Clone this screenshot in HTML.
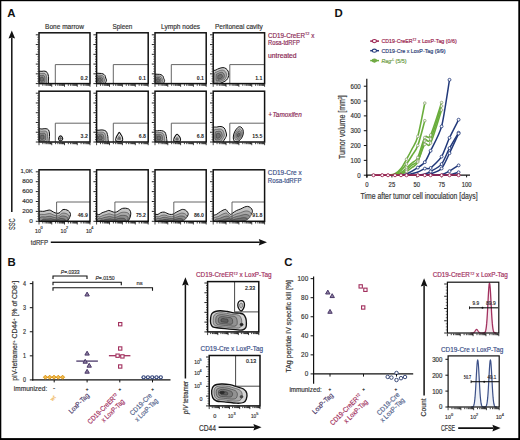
<!DOCTYPE html>
<html><head><meta charset="utf-8"><style>
html,body{margin:0;padding:0;background:#fff;}
body{width:520px;height:440px;overflow:hidden;font-family:"Liberation Sans", sans-serif;}
svg{display:block;}
</style></head><body>
<svg width="520" height="440" viewBox="0 0 520 440" font-family='"Liberation Sans", sans-serif'>
<rect x="0" y="0" width="520" height="440" fill="#fff"/>
<text x="7.20" y="16.80" font-size="11.4" fill="#111" font-weight="bold">A</text>
<text x="64.50" y="28.50" font-size="7.4" fill="#333" stroke="#333" stroke-width="0.18" text-anchor="middle" textLength="38.9" lengthAdjust="spacingAndGlyphs">Bone marrow</text>
<text x="122.40" y="28.50" font-size="7.4" fill="#333" stroke="#333" stroke-width="0.18" text-anchor="middle" textLength="19.8" lengthAdjust="spacingAndGlyphs">Spleen</text>
<text x="180.60" y="28.50" font-size="7.4" fill="#333" stroke="#333" stroke-width="0.18" text-anchor="middle" textLength="39.0" lengthAdjust="spacingAndGlyphs">Lymph nodes</text>
<text x="238.90" y="28.50" font-size="7.4" fill="#333" stroke="#333" stroke-width="0.18" text-anchor="middle" textLength="47.8" lengthAdjust="spacingAndGlyphs">Peritoneal cavity</text>
<clipPath id="c7"><rect x="39.0" y="32.8" width="51.0" height="50.8"/></clipPath>
<g clip-path="url(#c7)">
<path d="M38.00,72.60 C38.67,70.40 40.83,71.53 42.00,71.30 C43.17,71.07 44.17,71.03 45.00,71.20 C45.83,71.37 46.47,71.67 47.00,72.30 C47.53,72.93 47.93,74.05 48.20,75.00 C48.47,75.95 48.57,77.00 48.60,78.00 C48.63,79.00 48.57,79.92 48.40,81.00 C48.23,82.08 49.33,83.92 47.60,84.50 C45.87,85.08 39.60,86.48 38.00,84.50 C36.40,82.52 37.33,74.80 38.00,72.60Z" fill="#cfcfcf" stroke="#111" stroke-width="1.0"/><path d="M38.91,74.39 C39.40,72.77 41.01,73.60 41.87,73.43 C42.73,73.26 43.47,73.23 44.09,73.36 C44.71,73.48 45.18,73.70 45.57,74.17 C45.96,74.64 46.26,75.47 46.46,76.17 C46.66,76.87 46.73,77.65 46.75,78.39 C46.78,79.13 46.73,79.81 46.61,80.61 C46.48,81.41 47.30,82.77 46.01,83.20 C44.73,83.63 40.09,84.67 38.91,83.20 C37.73,81.73 38.42,76.02 38.91,74.39Z" fill="#acacac" stroke="#2a2a2a" stroke-width="0.5"/><path d="M39.75,76.05 C40.08,74.95 41.17,75.52 41.75,75.40 C42.33,75.28 42.83,75.27 43.25,75.35 C43.67,75.43 43.98,75.58 44.25,75.90 C44.52,76.22 44.72,76.78 44.85,77.25 C44.98,77.72 45.03,78.25 45.05,78.75 C45.07,79.25 45.03,79.71 44.95,80.25 C44.87,80.79 45.42,81.71 44.55,82.00 C43.68,82.29 40.55,82.99 39.75,82.00 C38.95,81.01 39.42,77.15 39.75,76.05Z" fill="#8e8e8e" stroke="#2a2a2a" stroke-width="0.5"/><path d="M40.52,77.57 C40.71,76.95 41.31,77.27 41.64,77.20 C41.97,77.14 42.25,77.13 42.48,77.18 C42.71,77.22 42.89,77.31 43.04,77.48 C43.19,77.66 43.30,77.97 43.38,78.24 C43.45,78.51 43.48,78.80 43.49,79.08 C43.50,79.36 43.48,79.62 43.43,79.92 C43.39,80.22 43.69,80.74 43.21,80.90 C42.72,81.06 40.97,81.46 40.52,80.90 C40.07,80.34 40.33,78.18 40.52,77.57Z" fill="#6e6e6e" stroke="#2a2a2a" stroke-width="0.5"/>
</g>
<path d="M55.30,83.60 L55.30,64.60 L90.00,64.60" fill="none" stroke="#555" stroke-width="0.9"/>
<rect x="39.00" y="32.80" width="51.00" height="50.80" fill="none" stroke="#111" stroke-width="1.5"/>
<text x="87.80" y="79.60" font-size="5.2" fill="#222" text-anchor="end" font-weight="bold">0.2</text>
<line x1="39.00" y1="84.20" x2="39.00" y2="86.80" stroke="#111" stroke-width="0.8"/>
<line x1="42.84" y1="84.20" x2="42.84" y2="85.80" stroke="#111" stroke-width="0.8"/>
<line x1="45.08" y1="84.20" x2="45.08" y2="85.80" stroke="#111" stroke-width="0.8"/>
<line x1="46.68" y1="84.20" x2="46.68" y2="85.80" stroke="#111" stroke-width="0.8"/>
<line x1="47.91" y1="84.20" x2="47.91" y2="85.80" stroke="#111" stroke-width="0.8"/>
<line x1="48.92" y1="84.20" x2="48.92" y2="85.80" stroke="#111" stroke-width="0.8"/>
<line x1="49.78" y1="84.20" x2="49.78" y2="85.80" stroke="#111" stroke-width="0.8"/>
<line x1="50.51" y1="84.20" x2="50.51" y2="85.80" stroke="#111" stroke-width="0.8"/>
<line x1="51.17" y1="84.20" x2="51.17" y2="85.80" stroke="#111" stroke-width="0.8"/>
<line x1="51.75" y1="84.20" x2="51.75" y2="86.80" stroke="#111" stroke-width="0.8"/>
<line x1="55.59" y1="84.20" x2="55.59" y2="85.80" stroke="#111" stroke-width="0.8"/>
<line x1="57.83" y1="84.20" x2="57.83" y2="85.80" stroke="#111" stroke-width="0.8"/>
<line x1="59.43" y1="84.20" x2="59.43" y2="85.80" stroke="#111" stroke-width="0.8"/>
<line x1="60.66" y1="84.20" x2="60.66" y2="85.80" stroke="#111" stroke-width="0.8"/>
<line x1="61.67" y1="84.20" x2="61.67" y2="85.80" stroke="#111" stroke-width="0.8"/>
<line x1="62.53" y1="84.20" x2="62.53" y2="85.80" stroke="#111" stroke-width="0.8"/>
<line x1="63.26" y1="84.20" x2="63.26" y2="85.80" stroke="#111" stroke-width="0.8"/>
<line x1="63.92" y1="84.20" x2="63.92" y2="85.80" stroke="#111" stroke-width="0.8"/>
<line x1="64.50" y1="84.20" x2="64.50" y2="86.80" stroke="#111" stroke-width="0.8"/>
<line x1="68.34" y1="84.20" x2="68.34" y2="85.80" stroke="#111" stroke-width="0.8"/>
<line x1="70.58" y1="84.20" x2="70.58" y2="85.80" stroke="#111" stroke-width="0.8"/>
<line x1="72.18" y1="84.20" x2="72.18" y2="85.80" stroke="#111" stroke-width="0.8"/>
<line x1="73.41" y1="84.20" x2="73.41" y2="85.80" stroke="#111" stroke-width="0.8"/>
<line x1="74.42" y1="84.20" x2="74.42" y2="85.80" stroke="#111" stroke-width="0.8"/>
<line x1="75.28" y1="84.20" x2="75.28" y2="85.80" stroke="#111" stroke-width="0.8"/>
<line x1="76.01" y1="84.20" x2="76.01" y2="85.80" stroke="#111" stroke-width="0.8"/>
<line x1="76.67" y1="84.20" x2="76.67" y2="85.80" stroke="#111" stroke-width="0.8"/>
<line x1="77.25" y1="84.20" x2="77.25" y2="86.80" stroke="#111" stroke-width="0.8"/>
<line x1="81.09" y1="84.20" x2="81.09" y2="85.80" stroke="#111" stroke-width="0.8"/>
<line x1="83.33" y1="84.20" x2="83.33" y2="85.80" stroke="#111" stroke-width="0.8"/>
<line x1="84.93" y1="84.20" x2="84.93" y2="85.80" stroke="#111" stroke-width="0.8"/>
<line x1="86.16" y1="84.20" x2="86.16" y2="85.80" stroke="#111" stroke-width="0.8"/>
<line x1="87.17" y1="84.20" x2="87.17" y2="85.80" stroke="#111" stroke-width="0.8"/>
<line x1="88.03" y1="84.20" x2="88.03" y2="85.80" stroke="#111" stroke-width="0.8"/>
<line x1="88.76" y1="84.20" x2="88.76" y2="85.80" stroke="#111" stroke-width="0.8"/>
<line x1="89.42" y1="84.20" x2="89.42" y2="85.80" stroke="#111" stroke-width="0.8"/>
<line x1="90.00" y1="84.20" x2="90.00" y2="86.80" stroke="#111" stroke-width="0.8"/>
<line x1="35.80" y1="83.60" x2="38.40" y2="83.60" stroke="#111" stroke-width="0.9"/>
<line x1="37.40" y1="81.16" x2="38.40" y2="81.16" stroke="#111" stroke-width="0.7"/>
<line x1="37.40" y1="78.72" x2="38.40" y2="78.72" stroke="#111" stroke-width="0.7"/>
<line x1="37.40" y1="76.28" x2="38.40" y2="76.28" stroke="#111" stroke-width="0.7"/>
<line x1="35.80" y1="73.84" x2="38.40" y2="73.84" stroke="#111" stroke-width="0.9"/>
<line x1="37.40" y1="71.40" x2="38.40" y2="71.40" stroke="#111" stroke-width="0.7"/>
<line x1="37.40" y1="68.96" x2="38.40" y2="68.96" stroke="#111" stroke-width="0.7"/>
<line x1="37.40" y1="66.52" x2="38.40" y2="66.52" stroke="#111" stroke-width="0.7"/>
<line x1="35.80" y1="64.08" x2="38.40" y2="64.08" stroke="#111" stroke-width="0.9"/>
<line x1="37.40" y1="61.64" x2="38.40" y2="61.64" stroke="#111" stroke-width="0.7"/>
<line x1="37.40" y1="59.20" x2="38.40" y2="59.20" stroke="#111" stroke-width="0.7"/>
<line x1="37.40" y1="56.76" x2="38.40" y2="56.76" stroke="#111" stroke-width="0.7"/>
<line x1="35.80" y1="54.32" x2="38.40" y2="54.32" stroke="#111" stroke-width="0.9"/>
<line x1="37.40" y1="51.88" x2="38.40" y2="51.88" stroke="#111" stroke-width="0.7"/>
<line x1="37.40" y1="49.44" x2="38.40" y2="49.44" stroke="#111" stroke-width="0.7"/>
<line x1="37.40" y1="47.00" x2="38.40" y2="47.00" stroke="#111" stroke-width="0.7"/>
<line x1="35.80" y1="44.56" x2="38.40" y2="44.56" stroke="#111" stroke-width="0.9"/>
<line x1="37.40" y1="42.12" x2="38.40" y2="42.12" stroke="#111" stroke-width="0.7"/>
<line x1="37.40" y1="39.68" x2="38.40" y2="39.68" stroke="#111" stroke-width="0.7"/>
<line x1="37.40" y1="37.24" x2="38.40" y2="37.24" stroke="#111" stroke-width="0.7"/>
<line x1="35.80" y1="34.80" x2="38.40" y2="34.80" stroke="#111" stroke-width="0.9"/>
<clipPath id="c72"><rect x="96.6" y="32.8" width="51.599999999999994" height="50.8"/></clipPath>
<g clip-path="url(#c72)">
<path d="M96.00,74.40 C96.67,72.55 98.83,73.48 100.00,73.40 C101.17,73.32 102.17,73.55 103.00,73.90 C103.83,74.25 104.55,74.82 105.00,75.50 C105.45,76.18 105.45,77.22 105.70,78.00 C105.95,78.78 106.52,79.43 106.50,80.20 C106.48,80.97 105.93,81.88 105.60,82.60 C105.27,83.32 106.10,84.18 104.50,84.50 C102.90,84.82 97.42,86.18 96.00,84.50 C94.58,82.82 95.33,76.25 96.00,74.40Z" fill="#cfcfcf" stroke="#111" stroke-width="1.0"/><path d="M96.91,75.86 C97.40,74.49 99.01,75.18 99.87,75.12 C100.73,75.05 101.47,75.23 102.09,75.49 C102.71,75.75 103.24,76.16 103.57,76.67 C103.90,77.18 103.90,77.94 104.09,78.52 C104.27,79.10 104.69,79.58 104.68,80.15 C104.67,80.72 104.26,81.39 104.01,81.92 C103.77,82.45 104.38,83.10 103.20,83.33 C102.02,83.56 97.96,84.58 96.91,83.33 C95.86,82.08 96.42,77.23 96.91,75.86Z" fill="#acacac" stroke="#2a2a2a" stroke-width="0.5"/><path d="M97.75,77.20 C98.08,76.28 99.17,76.74 99.75,76.70 C100.33,76.66 100.83,76.78 101.25,76.95 C101.67,77.12 102.03,77.41 102.25,77.75 C102.47,78.09 102.47,78.61 102.60,79.00 C102.72,79.39 103.01,79.72 103.00,80.10 C102.99,80.48 102.72,80.94 102.55,81.30 C102.38,81.66 102.80,82.09 102.00,82.25 C101.20,82.41 98.46,83.09 97.75,82.25 C97.04,81.41 97.42,78.12 97.75,77.20Z" fill="#8e8e8e" stroke="#2a2a2a" stroke-width="0.5"/><path d="M98.52,78.43 C98.71,77.91 99.31,78.18 99.64,78.15 C99.97,78.13 100.25,78.19 100.48,78.29 C100.71,78.39 100.91,78.55 101.04,78.74 C101.17,78.93 101.17,79.22 101.24,79.44 C101.31,79.66 101.46,79.84 101.46,80.06 C101.46,80.27 101.30,80.53 101.21,80.73 C101.11,80.93 101.35,81.17 100.90,81.26 C100.45,81.35 98.92,81.73 98.52,81.26 C98.12,80.79 98.33,78.95 98.52,78.43Z" fill="#6e6e6e" stroke="#2a2a2a" stroke-width="0.5"/>
</g>
<path d="M113.30,83.60 L113.30,64.60 L148.20,64.60" fill="none" stroke="#555" stroke-width="0.9"/>
<rect x="96.60" y="32.80" width="51.60" height="50.80" fill="none" stroke="#111" stroke-width="1.5"/>
<text x="146.00" y="79.60" font-size="5.2" fill="#222" text-anchor="end" font-weight="bold">0.1</text>
<line x1="96.60" y1="84.20" x2="96.60" y2="86.80" stroke="#111" stroke-width="0.8"/>
<line x1="100.48" y1="84.20" x2="100.48" y2="85.80" stroke="#111" stroke-width="0.8"/>
<line x1="102.75" y1="84.20" x2="102.75" y2="85.80" stroke="#111" stroke-width="0.8"/>
<line x1="104.37" y1="84.20" x2="104.37" y2="85.80" stroke="#111" stroke-width="0.8"/>
<line x1="105.62" y1="84.20" x2="105.62" y2="85.80" stroke="#111" stroke-width="0.8"/>
<line x1="106.64" y1="84.20" x2="106.64" y2="85.80" stroke="#111" stroke-width="0.8"/>
<line x1="107.50" y1="84.20" x2="107.50" y2="85.80" stroke="#111" stroke-width="0.8"/>
<line x1="108.25" y1="84.20" x2="108.25" y2="85.80" stroke="#111" stroke-width="0.8"/>
<line x1="108.91" y1="84.20" x2="108.91" y2="85.80" stroke="#111" stroke-width="0.8"/>
<line x1="109.50" y1="84.20" x2="109.50" y2="86.80" stroke="#111" stroke-width="0.8"/>
<line x1="113.38" y1="84.20" x2="113.38" y2="85.80" stroke="#111" stroke-width="0.8"/>
<line x1="115.65" y1="84.20" x2="115.65" y2="85.80" stroke="#111" stroke-width="0.8"/>
<line x1="117.27" y1="84.20" x2="117.27" y2="85.80" stroke="#111" stroke-width="0.8"/>
<line x1="118.52" y1="84.20" x2="118.52" y2="85.80" stroke="#111" stroke-width="0.8"/>
<line x1="119.54" y1="84.20" x2="119.54" y2="85.80" stroke="#111" stroke-width="0.8"/>
<line x1="120.40" y1="84.20" x2="120.40" y2="85.80" stroke="#111" stroke-width="0.8"/>
<line x1="121.15" y1="84.20" x2="121.15" y2="85.80" stroke="#111" stroke-width="0.8"/>
<line x1="121.81" y1="84.20" x2="121.81" y2="85.80" stroke="#111" stroke-width="0.8"/>
<line x1="122.40" y1="84.20" x2="122.40" y2="86.80" stroke="#111" stroke-width="0.8"/>
<line x1="126.28" y1="84.20" x2="126.28" y2="85.80" stroke="#111" stroke-width="0.8"/>
<line x1="128.55" y1="84.20" x2="128.55" y2="85.80" stroke="#111" stroke-width="0.8"/>
<line x1="130.17" y1="84.20" x2="130.17" y2="85.80" stroke="#111" stroke-width="0.8"/>
<line x1="131.42" y1="84.20" x2="131.42" y2="85.80" stroke="#111" stroke-width="0.8"/>
<line x1="132.44" y1="84.20" x2="132.44" y2="85.80" stroke="#111" stroke-width="0.8"/>
<line x1="133.30" y1="84.20" x2="133.30" y2="85.80" stroke="#111" stroke-width="0.8"/>
<line x1="134.05" y1="84.20" x2="134.05" y2="85.80" stroke="#111" stroke-width="0.8"/>
<line x1="134.71" y1="84.20" x2="134.71" y2="85.80" stroke="#111" stroke-width="0.8"/>
<line x1="135.30" y1="84.20" x2="135.30" y2="86.80" stroke="#111" stroke-width="0.8"/>
<line x1="139.18" y1="84.20" x2="139.18" y2="85.80" stroke="#111" stroke-width="0.8"/>
<line x1="141.45" y1="84.20" x2="141.45" y2="85.80" stroke="#111" stroke-width="0.8"/>
<line x1="143.07" y1="84.20" x2="143.07" y2="85.80" stroke="#111" stroke-width="0.8"/>
<line x1="144.32" y1="84.20" x2="144.32" y2="85.80" stroke="#111" stroke-width="0.8"/>
<line x1="145.34" y1="84.20" x2="145.34" y2="85.80" stroke="#111" stroke-width="0.8"/>
<line x1="146.20" y1="84.20" x2="146.20" y2="85.80" stroke="#111" stroke-width="0.8"/>
<line x1="146.95" y1="84.20" x2="146.95" y2="85.80" stroke="#111" stroke-width="0.8"/>
<line x1="147.61" y1="84.20" x2="147.61" y2="85.80" stroke="#111" stroke-width="0.8"/>
<line x1="148.20" y1="84.20" x2="148.20" y2="86.80" stroke="#111" stroke-width="0.8"/>
<line x1="93.40" y1="83.60" x2="96.00" y2="83.60" stroke="#111" stroke-width="0.9"/>
<line x1="95.00" y1="81.16" x2="96.00" y2="81.16" stroke="#111" stroke-width="0.7"/>
<line x1="95.00" y1="78.72" x2="96.00" y2="78.72" stroke="#111" stroke-width="0.7"/>
<line x1="95.00" y1="76.28" x2="96.00" y2="76.28" stroke="#111" stroke-width="0.7"/>
<line x1="93.40" y1="73.84" x2="96.00" y2="73.84" stroke="#111" stroke-width="0.9"/>
<line x1="95.00" y1="71.40" x2="96.00" y2="71.40" stroke="#111" stroke-width="0.7"/>
<line x1="95.00" y1="68.96" x2="96.00" y2="68.96" stroke="#111" stroke-width="0.7"/>
<line x1="95.00" y1="66.52" x2="96.00" y2="66.52" stroke="#111" stroke-width="0.7"/>
<line x1="93.40" y1="64.08" x2="96.00" y2="64.08" stroke="#111" stroke-width="0.9"/>
<line x1="95.00" y1="61.64" x2="96.00" y2="61.64" stroke="#111" stroke-width="0.7"/>
<line x1="95.00" y1="59.20" x2="96.00" y2="59.20" stroke="#111" stroke-width="0.7"/>
<line x1="95.00" y1="56.76" x2="96.00" y2="56.76" stroke="#111" stroke-width="0.7"/>
<line x1="93.40" y1="54.32" x2="96.00" y2="54.32" stroke="#111" stroke-width="0.9"/>
<line x1="95.00" y1="51.88" x2="96.00" y2="51.88" stroke="#111" stroke-width="0.7"/>
<line x1="95.00" y1="49.44" x2="96.00" y2="49.44" stroke="#111" stroke-width="0.7"/>
<line x1="95.00" y1="47.00" x2="96.00" y2="47.00" stroke="#111" stroke-width="0.7"/>
<line x1="93.40" y1="44.56" x2="96.00" y2="44.56" stroke="#111" stroke-width="0.9"/>
<line x1="95.00" y1="42.12" x2="96.00" y2="42.12" stroke="#111" stroke-width="0.7"/>
<line x1="95.00" y1="39.68" x2="96.00" y2="39.68" stroke="#111" stroke-width="0.7"/>
<line x1="95.00" y1="37.24" x2="96.00" y2="37.24" stroke="#111" stroke-width="0.7"/>
<line x1="93.40" y1="34.80" x2="96.00" y2="34.80" stroke="#111" stroke-width="0.9"/>
<clipPath id="c137"><rect x="155.0" y="32.8" width="51.19999999999999" height="50.8"/></clipPath>
<g clip-path="url(#c137)">
<path d="M154.40,75.20 C155.00,73.50 156.90,74.38 158.00,74.30 C159.10,74.22 160.17,74.38 161.00,74.70 C161.83,75.02 162.53,75.55 163.00,76.20 C163.47,76.85 163.53,77.87 163.80,78.60 C164.07,79.33 164.60,79.90 164.60,80.60 C164.60,81.30 164.10,82.15 163.80,82.80 C163.50,83.45 164.37,84.22 162.80,84.50 C161.23,84.78 155.80,86.05 154.40,84.50 C153.00,82.95 153.80,76.90 154.40,75.20Z" fill="#cfcfcf" stroke="#111" stroke-width="1.0"/><path d="M155.28,76.58 C155.73,75.32 157.13,75.97 157.95,75.91 C158.76,75.85 159.55,75.97 160.17,76.21 C160.78,76.44 161.30,76.84 161.65,77.32 C161.99,77.80 162.04,78.55 162.24,79.09 C162.44,79.64 162.83,80.06 162.83,80.57 C162.83,81.09 162.46,81.72 162.24,82.20 C162.02,82.68 162.66,83.25 161.50,83.46 C160.34,83.67 156.32,84.61 155.28,83.46 C154.25,82.31 154.84,77.84 155.28,76.58Z" fill="#acacac" stroke="#2a2a2a" stroke-width="0.5"/><path d="M156.10,77.85 C156.40,77.00 157.35,77.44 157.90,77.40 C158.45,77.36 158.98,77.44 159.40,77.60 C159.82,77.76 160.17,78.02 160.40,78.35 C160.63,78.67 160.67,79.18 160.80,79.55 C160.93,79.92 161.20,80.20 161.20,80.55 C161.20,80.90 160.95,81.33 160.80,81.65 C160.65,81.98 161.08,82.36 160.30,82.50 C159.52,82.64 156.80,83.28 156.10,82.50 C155.40,81.72 155.80,78.70 156.10,77.85Z" fill="#8e8e8e" stroke="#2a2a2a" stroke-width="0.5"/><path d="M156.85,79.02 C157.02,78.54 157.55,78.79 157.86,78.76 C158.16,78.74 158.46,78.79 158.70,78.88 C158.93,78.96 159.13,79.11 159.26,79.30 C159.39,79.48 159.41,79.76 159.48,79.97 C159.55,80.17 159.70,80.33 159.70,80.53 C159.70,80.72 159.56,80.96 159.48,81.14 C159.40,81.33 159.64,81.54 159.20,81.62 C158.76,81.70 157.24,82.05 156.85,81.62 C156.46,81.19 156.68,79.49 156.85,79.02Z" fill="#6e6e6e" stroke="#2a2a2a" stroke-width="0.5"/>
</g>
<path d="M171.30,83.60 L171.30,64.60 L206.20,64.60" fill="none" stroke="#555" stroke-width="0.9"/>
<rect x="155.00" y="32.80" width="51.20" height="50.80" fill="none" stroke="#111" stroke-width="1.5"/>
<text x="204.00" y="79.60" font-size="5.2" fill="#222" text-anchor="end" font-weight="bold">0.1</text>
<line x1="155.00" y1="84.20" x2="155.00" y2="86.80" stroke="#111" stroke-width="0.8"/>
<line x1="158.85" y1="84.20" x2="158.85" y2="85.80" stroke="#111" stroke-width="0.8"/>
<line x1="161.11" y1="84.20" x2="161.11" y2="85.80" stroke="#111" stroke-width="0.8"/>
<line x1="162.71" y1="84.20" x2="162.71" y2="85.80" stroke="#111" stroke-width="0.8"/>
<line x1="163.95" y1="84.20" x2="163.95" y2="85.80" stroke="#111" stroke-width="0.8"/>
<line x1="164.96" y1="84.20" x2="164.96" y2="85.80" stroke="#111" stroke-width="0.8"/>
<line x1="165.82" y1="84.20" x2="165.82" y2="85.80" stroke="#111" stroke-width="0.8"/>
<line x1="166.56" y1="84.20" x2="166.56" y2="85.80" stroke="#111" stroke-width="0.8"/>
<line x1="167.21" y1="84.20" x2="167.21" y2="85.80" stroke="#111" stroke-width="0.8"/>
<line x1="167.80" y1="84.20" x2="167.80" y2="86.80" stroke="#111" stroke-width="0.8"/>
<line x1="171.65" y1="84.20" x2="171.65" y2="85.80" stroke="#111" stroke-width="0.8"/>
<line x1="173.91" y1="84.20" x2="173.91" y2="85.80" stroke="#111" stroke-width="0.8"/>
<line x1="175.51" y1="84.20" x2="175.51" y2="85.80" stroke="#111" stroke-width="0.8"/>
<line x1="176.75" y1="84.20" x2="176.75" y2="85.80" stroke="#111" stroke-width="0.8"/>
<line x1="177.76" y1="84.20" x2="177.76" y2="85.80" stroke="#111" stroke-width="0.8"/>
<line x1="178.62" y1="84.20" x2="178.62" y2="85.80" stroke="#111" stroke-width="0.8"/>
<line x1="179.36" y1="84.20" x2="179.36" y2="85.80" stroke="#111" stroke-width="0.8"/>
<line x1="180.01" y1="84.20" x2="180.01" y2="85.80" stroke="#111" stroke-width="0.8"/>
<line x1="180.60" y1="84.20" x2="180.60" y2="86.80" stroke="#111" stroke-width="0.8"/>
<line x1="184.45" y1="84.20" x2="184.45" y2="85.80" stroke="#111" stroke-width="0.8"/>
<line x1="186.71" y1="84.20" x2="186.71" y2="85.80" stroke="#111" stroke-width="0.8"/>
<line x1="188.31" y1="84.20" x2="188.31" y2="85.80" stroke="#111" stroke-width="0.8"/>
<line x1="189.55" y1="84.20" x2="189.55" y2="85.80" stroke="#111" stroke-width="0.8"/>
<line x1="190.56" y1="84.20" x2="190.56" y2="85.80" stroke="#111" stroke-width="0.8"/>
<line x1="191.42" y1="84.20" x2="191.42" y2="85.80" stroke="#111" stroke-width="0.8"/>
<line x1="192.16" y1="84.20" x2="192.16" y2="85.80" stroke="#111" stroke-width="0.8"/>
<line x1="192.81" y1="84.20" x2="192.81" y2="85.80" stroke="#111" stroke-width="0.8"/>
<line x1="193.40" y1="84.20" x2="193.40" y2="86.80" stroke="#111" stroke-width="0.8"/>
<line x1="197.25" y1="84.20" x2="197.25" y2="85.80" stroke="#111" stroke-width="0.8"/>
<line x1="199.51" y1="84.20" x2="199.51" y2="85.80" stroke="#111" stroke-width="0.8"/>
<line x1="201.11" y1="84.20" x2="201.11" y2="85.80" stroke="#111" stroke-width="0.8"/>
<line x1="202.35" y1="84.20" x2="202.35" y2="85.80" stroke="#111" stroke-width="0.8"/>
<line x1="203.36" y1="84.20" x2="203.36" y2="85.80" stroke="#111" stroke-width="0.8"/>
<line x1="204.22" y1="84.20" x2="204.22" y2="85.80" stroke="#111" stroke-width="0.8"/>
<line x1="204.96" y1="84.20" x2="204.96" y2="85.80" stroke="#111" stroke-width="0.8"/>
<line x1="205.61" y1="84.20" x2="205.61" y2="85.80" stroke="#111" stroke-width="0.8"/>
<line x1="206.20" y1="84.20" x2="206.20" y2="86.80" stroke="#111" stroke-width="0.8"/>
<line x1="151.80" y1="83.60" x2="154.40" y2="83.60" stroke="#111" stroke-width="0.9"/>
<line x1="153.40" y1="81.16" x2="154.40" y2="81.16" stroke="#111" stroke-width="0.7"/>
<line x1="153.40" y1="78.72" x2="154.40" y2="78.72" stroke="#111" stroke-width="0.7"/>
<line x1="153.40" y1="76.28" x2="154.40" y2="76.28" stroke="#111" stroke-width="0.7"/>
<line x1="151.80" y1="73.84" x2="154.40" y2="73.84" stroke="#111" stroke-width="0.9"/>
<line x1="153.40" y1="71.40" x2="154.40" y2="71.40" stroke="#111" stroke-width="0.7"/>
<line x1="153.40" y1="68.96" x2="154.40" y2="68.96" stroke="#111" stroke-width="0.7"/>
<line x1="153.40" y1="66.52" x2="154.40" y2="66.52" stroke="#111" stroke-width="0.7"/>
<line x1="151.80" y1="64.08" x2="154.40" y2="64.08" stroke="#111" stroke-width="0.9"/>
<line x1="153.40" y1="61.64" x2="154.40" y2="61.64" stroke="#111" stroke-width="0.7"/>
<line x1="153.40" y1="59.20" x2="154.40" y2="59.20" stroke="#111" stroke-width="0.7"/>
<line x1="153.40" y1="56.76" x2="154.40" y2="56.76" stroke="#111" stroke-width="0.7"/>
<line x1="151.80" y1="54.32" x2="154.40" y2="54.32" stroke="#111" stroke-width="0.9"/>
<line x1="153.40" y1="51.88" x2="154.40" y2="51.88" stroke="#111" stroke-width="0.7"/>
<line x1="153.40" y1="49.44" x2="154.40" y2="49.44" stroke="#111" stroke-width="0.7"/>
<line x1="153.40" y1="47.00" x2="154.40" y2="47.00" stroke="#111" stroke-width="0.7"/>
<line x1="151.80" y1="44.56" x2="154.40" y2="44.56" stroke="#111" stroke-width="0.9"/>
<line x1="153.40" y1="42.12" x2="154.40" y2="42.12" stroke="#111" stroke-width="0.7"/>
<line x1="153.40" y1="39.68" x2="154.40" y2="39.68" stroke="#111" stroke-width="0.7"/>
<line x1="153.40" y1="37.24" x2="154.40" y2="37.24" stroke="#111" stroke-width="0.7"/>
<line x1="151.80" y1="34.80" x2="154.40" y2="34.80" stroke="#111" stroke-width="0.9"/>
<clipPath id="c202"><rect x="213.2" y="32.8" width="51.400000000000034" height="50.8"/></clipPath>
<g clip-path="url(#c202)">
<path d="M212.50,72.20 C213.08,69.78 214.92,70.62 216.00,70.00 C217.08,69.38 217.83,68.90 219.00,68.50 C220.17,68.10 221.83,67.58 223.00,67.60 C224.17,67.62 225.17,68.03 226.00,68.60 C226.83,69.17 227.53,70.10 228.00,71.00 C228.47,71.90 228.75,73.00 228.80,74.00 C228.85,75.00 228.67,76.00 228.30,77.00 C227.93,78.00 227.48,79.13 226.60,80.00 C225.72,80.87 224.43,81.57 223.00,82.20 C221.57,82.83 219.75,83.42 218.00,83.80 C216.25,84.18 213.42,86.43 212.50,84.50 C211.58,82.57 211.92,74.62 212.50,72.20Z" fill="#cfcfcf" stroke="#111" stroke-width="1.0"/><path d="M214.45,73.45 C214.88,71.66 216.24,72.28 217.04,71.82 C217.84,71.36 218.40,71.01 219.26,70.71 C220.12,70.41 221.36,70.03 222.22,70.04 C223.08,70.06 223.82,70.36 224.44,70.78 C225.06,71.20 225.57,71.89 225.92,72.56 C226.27,73.23 226.47,74.04 226.51,74.78 C226.55,75.52 226.41,76.26 226.14,77.00 C225.87,77.74 225.54,78.58 224.88,79.22 C224.23,79.86 223.28,80.38 222.22,80.85 C221.16,81.32 219.81,81.75 218.52,82.03 C217.23,82.32 215.13,83.98 214.45,82.55 C213.77,81.12 214.02,75.24 214.45,73.45Z" fill="#acacac" stroke="#2a2a2a" stroke-width="0.5"/><path d="M216.25,74.60 C216.54,73.39 217.46,73.81 218.00,73.50 C218.54,73.19 218.92,72.95 219.50,72.75 C220.08,72.55 220.92,72.29 221.50,72.30 C222.08,72.31 222.58,72.52 223.00,72.80 C223.42,73.08 223.77,73.55 224.00,74.00 C224.23,74.45 224.38,75.00 224.40,75.50 C224.43,76.00 224.33,76.50 224.15,77.00 C223.97,77.50 223.74,78.07 223.30,78.50 C222.86,78.93 222.22,79.28 221.50,79.60 C220.78,79.92 219.88,80.21 219.00,80.40 C218.12,80.59 216.71,81.72 216.25,80.75 C215.79,79.78 215.96,75.81 216.25,74.60Z" fill="#8e8e8e" stroke="#2a2a2a" stroke-width="0.5"/><path d="M217.90,75.66 C218.06,74.98 218.58,75.21 218.88,75.04 C219.18,74.87 219.39,74.73 219.72,74.62 C220.05,74.51 220.51,74.36 220.84,74.37 C221.17,74.37 221.45,74.49 221.68,74.65 C221.91,74.81 222.11,75.07 222.24,75.32 C222.37,75.57 222.45,75.88 222.46,76.16 C222.48,76.44 222.43,76.72 222.32,77.00 C222.22,77.28 222.10,77.60 221.85,77.84 C221.60,78.08 221.24,78.28 220.84,78.46 C220.44,78.63 219.93,78.80 219.44,78.90 C218.95,79.01 218.16,79.64 217.90,79.10 C217.64,78.56 217.74,76.33 217.90,75.66Z" fill="#6e6e6e" stroke="#2a2a2a" stroke-width="0.5"/>
</g>
<path d="M229.80,83.60 L229.80,64.60 L264.60,64.60" fill="none" stroke="#555" stroke-width="0.9"/>
<rect x="213.20" y="32.80" width="51.40" height="50.80" fill="none" stroke="#111" stroke-width="1.5"/>
<text x="262.40" y="79.60" font-size="5.2" fill="#222" text-anchor="end" font-weight="bold">1.1</text>
<line x1="213.20" y1="84.20" x2="213.20" y2="86.80" stroke="#111" stroke-width="0.8"/>
<line x1="217.07" y1="84.20" x2="217.07" y2="85.80" stroke="#111" stroke-width="0.8"/>
<line x1="219.33" y1="84.20" x2="219.33" y2="85.80" stroke="#111" stroke-width="0.8"/>
<line x1="220.94" y1="84.20" x2="220.94" y2="85.80" stroke="#111" stroke-width="0.8"/>
<line x1="222.18" y1="84.20" x2="222.18" y2="85.80" stroke="#111" stroke-width="0.8"/>
<line x1="223.20" y1="84.20" x2="223.20" y2="85.80" stroke="#111" stroke-width="0.8"/>
<line x1="224.06" y1="84.20" x2="224.06" y2="85.80" stroke="#111" stroke-width="0.8"/>
<line x1="224.80" y1="84.20" x2="224.80" y2="85.80" stroke="#111" stroke-width="0.8"/>
<line x1="225.46" y1="84.20" x2="225.46" y2="85.80" stroke="#111" stroke-width="0.8"/>
<line x1="226.05" y1="84.20" x2="226.05" y2="86.80" stroke="#111" stroke-width="0.8"/>
<line x1="229.92" y1="84.20" x2="229.92" y2="85.80" stroke="#111" stroke-width="0.8"/>
<line x1="232.18" y1="84.20" x2="232.18" y2="85.80" stroke="#111" stroke-width="0.8"/>
<line x1="233.79" y1="84.20" x2="233.79" y2="85.80" stroke="#111" stroke-width="0.8"/>
<line x1="235.03" y1="84.20" x2="235.03" y2="85.80" stroke="#111" stroke-width="0.8"/>
<line x1="236.05" y1="84.20" x2="236.05" y2="85.80" stroke="#111" stroke-width="0.8"/>
<line x1="236.91" y1="84.20" x2="236.91" y2="85.80" stroke="#111" stroke-width="0.8"/>
<line x1="237.65" y1="84.20" x2="237.65" y2="85.80" stroke="#111" stroke-width="0.8"/>
<line x1="238.31" y1="84.20" x2="238.31" y2="85.80" stroke="#111" stroke-width="0.8"/>
<line x1="238.90" y1="84.20" x2="238.90" y2="86.80" stroke="#111" stroke-width="0.8"/>
<line x1="242.77" y1="84.20" x2="242.77" y2="85.80" stroke="#111" stroke-width="0.8"/>
<line x1="245.03" y1="84.20" x2="245.03" y2="85.80" stroke="#111" stroke-width="0.8"/>
<line x1="246.64" y1="84.20" x2="246.64" y2="85.80" stroke="#111" stroke-width="0.8"/>
<line x1="247.88" y1="84.20" x2="247.88" y2="85.80" stroke="#111" stroke-width="0.8"/>
<line x1="248.90" y1="84.20" x2="248.90" y2="85.80" stroke="#111" stroke-width="0.8"/>
<line x1="249.76" y1="84.20" x2="249.76" y2="85.80" stroke="#111" stroke-width="0.8"/>
<line x1="250.50" y1="84.20" x2="250.50" y2="85.80" stroke="#111" stroke-width="0.8"/>
<line x1="251.16" y1="84.20" x2="251.16" y2="85.80" stroke="#111" stroke-width="0.8"/>
<line x1="251.75" y1="84.20" x2="251.75" y2="86.80" stroke="#111" stroke-width="0.8"/>
<line x1="255.62" y1="84.20" x2="255.62" y2="85.80" stroke="#111" stroke-width="0.8"/>
<line x1="257.88" y1="84.20" x2="257.88" y2="85.80" stroke="#111" stroke-width="0.8"/>
<line x1="259.49" y1="84.20" x2="259.49" y2="85.80" stroke="#111" stroke-width="0.8"/>
<line x1="260.73" y1="84.20" x2="260.73" y2="85.80" stroke="#111" stroke-width="0.8"/>
<line x1="261.75" y1="84.20" x2="261.75" y2="85.80" stroke="#111" stroke-width="0.8"/>
<line x1="262.61" y1="84.20" x2="262.61" y2="85.80" stroke="#111" stroke-width="0.8"/>
<line x1="263.35" y1="84.20" x2="263.35" y2="85.80" stroke="#111" stroke-width="0.8"/>
<line x1="264.01" y1="84.20" x2="264.01" y2="85.80" stroke="#111" stroke-width="0.8"/>
<line x1="264.60" y1="84.20" x2="264.60" y2="86.80" stroke="#111" stroke-width="0.8"/>
<line x1="210.00" y1="83.60" x2="212.60" y2="83.60" stroke="#111" stroke-width="0.9"/>
<line x1="211.60" y1="81.16" x2="212.60" y2="81.16" stroke="#111" stroke-width="0.7"/>
<line x1="211.60" y1="78.72" x2="212.60" y2="78.72" stroke="#111" stroke-width="0.7"/>
<line x1="211.60" y1="76.28" x2="212.60" y2="76.28" stroke="#111" stroke-width="0.7"/>
<line x1="210.00" y1="73.84" x2="212.60" y2="73.84" stroke="#111" stroke-width="0.9"/>
<line x1="211.60" y1="71.40" x2="212.60" y2="71.40" stroke="#111" stroke-width="0.7"/>
<line x1="211.60" y1="68.96" x2="212.60" y2="68.96" stroke="#111" stroke-width="0.7"/>
<line x1="211.60" y1="66.52" x2="212.60" y2="66.52" stroke="#111" stroke-width="0.7"/>
<line x1="210.00" y1="64.08" x2="212.60" y2="64.08" stroke="#111" stroke-width="0.9"/>
<line x1="211.60" y1="61.64" x2="212.60" y2="61.64" stroke="#111" stroke-width="0.7"/>
<line x1="211.60" y1="59.20" x2="212.60" y2="59.20" stroke="#111" stroke-width="0.7"/>
<line x1="211.60" y1="56.76" x2="212.60" y2="56.76" stroke="#111" stroke-width="0.7"/>
<line x1="210.00" y1="54.32" x2="212.60" y2="54.32" stroke="#111" stroke-width="0.9"/>
<line x1="211.60" y1="51.88" x2="212.60" y2="51.88" stroke="#111" stroke-width="0.7"/>
<line x1="211.60" y1="49.44" x2="212.60" y2="49.44" stroke="#111" stroke-width="0.7"/>
<line x1="211.60" y1="47.00" x2="212.60" y2="47.00" stroke="#111" stroke-width="0.7"/>
<line x1="210.00" y1="44.56" x2="212.60" y2="44.56" stroke="#111" stroke-width="0.9"/>
<line x1="211.60" y1="42.12" x2="212.60" y2="42.12" stroke="#111" stroke-width="0.7"/>
<line x1="211.60" y1="39.68" x2="212.60" y2="39.68" stroke="#111" stroke-width="0.7"/>
<line x1="211.60" y1="37.24" x2="212.60" y2="37.24" stroke="#111" stroke-width="0.7"/>
<line x1="210.00" y1="34.80" x2="212.60" y2="34.80" stroke="#111" stroke-width="0.9"/>
<clipPath id="c267"><rect x="39.0" y="91.2" width="51.0" height="50.8"/></clipPath>
<g clip-path="url(#c267)">
<path d="M38.00,130.00 C38.67,127.67 40.67,129.22 42.00,129.00 C43.33,128.78 44.90,128.53 46.00,128.70 C47.10,128.87 48.02,129.12 48.60,130.00 C49.18,130.88 49.40,132.50 49.50,134.00 C49.60,135.50 49.48,137.50 49.20,139.00 C48.92,140.50 49.67,142.33 47.80,143.00 C45.93,143.67 39.63,145.17 38.00,143.00 C36.37,140.83 37.33,132.33 38.00,130.00Z" fill="#cfcfcf" stroke="#111" stroke-width="1.0"/><path d="M39.04,131.95 C39.53,130.22 41.01,131.37 42.00,131.21 C42.99,131.05 44.15,130.86 44.96,130.99 C45.77,131.11 46.45,131.30 46.88,131.95 C47.32,132.60 47.48,133.80 47.55,134.91 C47.62,136.02 47.54,137.50 47.33,138.61 C47.12,139.72 47.67,141.08 46.29,141.57 C44.91,142.06 40.25,143.17 39.04,141.57 C37.83,139.97 38.55,133.68 39.04,131.95Z" fill="#acacac" stroke="#2a2a2a" stroke-width="0.5"/><path d="M40.00,133.75 C40.33,132.58 41.33,133.36 42.00,133.25 C42.67,133.14 43.45,133.02 44.00,133.10 C44.55,133.18 45.01,133.31 45.30,133.75 C45.59,134.19 45.70,135.00 45.75,135.75 C45.80,136.50 45.74,137.50 45.60,138.25 C45.46,139.00 45.83,139.92 44.90,140.25 C43.97,140.58 40.82,141.33 40.00,140.25 C39.18,139.17 39.67,134.92 40.00,133.75Z" fill="#8e8e8e" stroke="#2a2a2a" stroke-width="0.5"/><path d="M40.88,135.40 C41.07,134.75 41.63,135.18 42.00,135.12 C42.37,135.06 42.81,134.99 43.12,135.04 C43.43,135.08 43.68,135.15 43.85,135.40 C44.01,135.65 44.07,136.10 44.10,136.52 C44.13,136.94 44.10,137.50 44.02,137.92 C43.94,138.34 44.15,138.85 43.62,139.04 C43.10,139.23 41.34,139.65 40.88,139.04 C40.42,138.43 40.69,136.05 40.88,135.40Z" fill="#6e6e6e" stroke="#2a2a2a" stroke-width="0.5"/>
<path d="M58.70,139.40 C58.40,138.78 58.58,137.78 58.90,137.20 C59.22,136.62 60.03,135.90 60.60,135.90 C61.17,135.90 61.97,136.62 62.30,137.20 C62.63,137.78 62.87,138.78 62.60,139.40 C62.33,140.02 61.35,140.90 60.70,140.90 C60.05,140.90 59.00,140.02 58.70,139.40Z" fill="#f6f6f6" stroke="#111" stroke-width="1.1"/><path d="M59.65,139.00 C59.50,138.69 59.59,138.19 59.75,137.90 C59.91,137.61 60.32,137.25 60.60,137.25 C60.88,137.25 61.28,137.61 61.45,137.90 C61.62,138.19 61.73,138.69 61.60,139.00 C61.47,139.31 60.98,139.75 60.65,139.75 C60.33,139.75 59.80,139.31 59.65,139.00Z" fill="#c8c8c8" stroke="#2a2a2a" stroke-width="0.5"/><path d="M60.12,138.80 C60.05,138.65 60.10,138.40 60.17,138.25 C60.25,138.10 60.46,137.93 60.60,137.93 C60.74,137.93 60.94,138.10 61.02,138.25 C61.11,138.40 61.17,138.65 61.10,138.80 C61.03,138.95 60.79,139.18 60.62,139.18 C60.46,139.18 60.20,138.95 60.12,138.80Z" fill="#909090" stroke="#2a2a2a" stroke-width="0.5"/>
</g>
<path d="M55.30,142.00 L55.30,123.20 L90.00,123.20" fill="none" stroke="#555" stroke-width="0.9"/>
<rect x="39.00" y="91.20" width="51.00" height="50.80" fill="none" stroke="#111" stroke-width="1.5"/>
<text x="87.80" y="138.00" font-size="5.2" fill="#222" text-anchor="end" font-weight="bold">3.2</text>
<line x1="39.00" y1="142.60" x2="39.00" y2="145.20" stroke="#111" stroke-width="0.8"/>
<line x1="42.84" y1="142.60" x2="42.84" y2="144.20" stroke="#111" stroke-width="0.8"/>
<line x1="45.08" y1="142.60" x2="45.08" y2="144.20" stroke="#111" stroke-width="0.8"/>
<line x1="46.68" y1="142.60" x2="46.68" y2="144.20" stroke="#111" stroke-width="0.8"/>
<line x1="47.91" y1="142.60" x2="47.91" y2="144.20" stroke="#111" stroke-width="0.8"/>
<line x1="48.92" y1="142.60" x2="48.92" y2="144.20" stroke="#111" stroke-width="0.8"/>
<line x1="49.78" y1="142.60" x2="49.78" y2="144.20" stroke="#111" stroke-width="0.8"/>
<line x1="50.51" y1="142.60" x2="50.51" y2="144.20" stroke="#111" stroke-width="0.8"/>
<line x1="51.17" y1="142.60" x2="51.17" y2="144.20" stroke="#111" stroke-width="0.8"/>
<line x1="51.75" y1="142.60" x2="51.75" y2="145.20" stroke="#111" stroke-width="0.8"/>
<line x1="55.59" y1="142.60" x2="55.59" y2="144.20" stroke="#111" stroke-width="0.8"/>
<line x1="57.83" y1="142.60" x2="57.83" y2="144.20" stroke="#111" stroke-width="0.8"/>
<line x1="59.43" y1="142.60" x2="59.43" y2="144.20" stroke="#111" stroke-width="0.8"/>
<line x1="60.66" y1="142.60" x2="60.66" y2="144.20" stroke="#111" stroke-width="0.8"/>
<line x1="61.67" y1="142.60" x2="61.67" y2="144.20" stroke="#111" stroke-width="0.8"/>
<line x1="62.53" y1="142.60" x2="62.53" y2="144.20" stroke="#111" stroke-width="0.8"/>
<line x1="63.26" y1="142.60" x2="63.26" y2="144.20" stroke="#111" stroke-width="0.8"/>
<line x1="63.92" y1="142.60" x2="63.92" y2="144.20" stroke="#111" stroke-width="0.8"/>
<line x1="64.50" y1="142.60" x2="64.50" y2="145.20" stroke="#111" stroke-width="0.8"/>
<line x1="68.34" y1="142.60" x2="68.34" y2="144.20" stroke="#111" stroke-width="0.8"/>
<line x1="70.58" y1="142.60" x2="70.58" y2="144.20" stroke="#111" stroke-width="0.8"/>
<line x1="72.18" y1="142.60" x2="72.18" y2="144.20" stroke="#111" stroke-width="0.8"/>
<line x1="73.41" y1="142.60" x2="73.41" y2="144.20" stroke="#111" stroke-width="0.8"/>
<line x1="74.42" y1="142.60" x2="74.42" y2="144.20" stroke="#111" stroke-width="0.8"/>
<line x1="75.28" y1="142.60" x2="75.28" y2="144.20" stroke="#111" stroke-width="0.8"/>
<line x1="76.01" y1="142.60" x2="76.01" y2="144.20" stroke="#111" stroke-width="0.8"/>
<line x1="76.67" y1="142.60" x2="76.67" y2="144.20" stroke="#111" stroke-width="0.8"/>
<line x1="77.25" y1="142.60" x2="77.25" y2="145.20" stroke="#111" stroke-width="0.8"/>
<line x1="81.09" y1="142.60" x2="81.09" y2="144.20" stroke="#111" stroke-width="0.8"/>
<line x1="83.33" y1="142.60" x2="83.33" y2="144.20" stroke="#111" stroke-width="0.8"/>
<line x1="84.93" y1="142.60" x2="84.93" y2="144.20" stroke="#111" stroke-width="0.8"/>
<line x1="86.16" y1="142.60" x2="86.16" y2="144.20" stroke="#111" stroke-width="0.8"/>
<line x1="87.17" y1="142.60" x2="87.17" y2="144.20" stroke="#111" stroke-width="0.8"/>
<line x1="88.03" y1="142.60" x2="88.03" y2="144.20" stroke="#111" stroke-width="0.8"/>
<line x1="88.76" y1="142.60" x2="88.76" y2="144.20" stroke="#111" stroke-width="0.8"/>
<line x1="89.42" y1="142.60" x2="89.42" y2="144.20" stroke="#111" stroke-width="0.8"/>
<line x1="90.00" y1="142.60" x2="90.00" y2="145.20" stroke="#111" stroke-width="0.8"/>
<line x1="35.80" y1="142.00" x2="38.40" y2="142.00" stroke="#111" stroke-width="0.9"/>
<line x1="37.40" y1="139.56" x2="38.40" y2="139.56" stroke="#111" stroke-width="0.7"/>
<line x1="37.40" y1="137.12" x2="38.40" y2="137.12" stroke="#111" stroke-width="0.7"/>
<line x1="37.40" y1="134.68" x2="38.40" y2="134.68" stroke="#111" stroke-width="0.7"/>
<line x1="35.80" y1="132.24" x2="38.40" y2="132.24" stroke="#111" stroke-width="0.9"/>
<line x1="37.40" y1="129.80" x2="38.40" y2="129.80" stroke="#111" stroke-width="0.7"/>
<line x1="37.40" y1="127.36" x2="38.40" y2="127.36" stroke="#111" stroke-width="0.7"/>
<line x1="37.40" y1="124.92" x2="38.40" y2="124.92" stroke="#111" stroke-width="0.7"/>
<line x1="35.80" y1="122.48" x2="38.40" y2="122.48" stroke="#111" stroke-width="0.9"/>
<line x1="37.40" y1="120.04" x2="38.40" y2="120.04" stroke="#111" stroke-width="0.7"/>
<line x1="37.40" y1="117.60" x2="38.40" y2="117.60" stroke="#111" stroke-width="0.7"/>
<line x1="37.40" y1="115.16" x2="38.40" y2="115.16" stroke="#111" stroke-width="0.7"/>
<line x1="35.80" y1="112.72" x2="38.40" y2="112.72" stroke="#111" stroke-width="0.9"/>
<line x1="37.40" y1="110.28" x2="38.40" y2="110.28" stroke="#111" stroke-width="0.7"/>
<line x1="37.40" y1="107.84" x2="38.40" y2="107.84" stroke="#111" stroke-width="0.7"/>
<line x1="37.40" y1="105.40" x2="38.40" y2="105.40" stroke="#111" stroke-width="0.7"/>
<line x1="35.80" y1="102.96" x2="38.40" y2="102.96" stroke="#111" stroke-width="0.9"/>
<line x1="37.40" y1="100.52" x2="38.40" y2="100.52" stroke="#111" stroke-width="0.7"/>
<line x1="37.40" y1="98.08" x2="38.40" y2="98.08" stroke="#111" stroke-width="0.7"/>
<line x1="37.40" y1="95.64" x2="38.40" y2="95.64" stroke="#111" stroke-width="0.7"/>
<line x1="35.80" y1="93.20" x2="38.40" y2="93.20" stroke="#111" stroke-width="0.9"/>
<clipPath id="c333"><rect x="96.6" y="91.2" width="51.599999999999994" height="50.8"/></clipPath>
<g clip-path="url(#c333)">
<path d="M95.60,131.50 C96.17,129.37 97.77,130.45 99.00,130.20 C100.23,129.95 101.80,129.80 103.00,130.00 C104.20,130.20 105.47,130.65 106.20,131.40 C106.93,132.15 107.10,133.32 107.40,134.50 C107.70,135.68 108.07,137.08 108.00,138.50 C107.93,139.92 109.07,142.25 107.00,143.00 C104.93,143.75 97.50,144.92 95.60,143.00 C93.70,141.08 95.03,133.63 95.60,131.50Z" fill="#cfcfcf" stroke="#111" stroke-width="1.0"/><path d="M96.74,133.19 C97.16,131.61 98.35,132.41 99.26,132.23 C100.17,132.04 101.33,131.93 102.22,132.08 C103.11,132.23 104.05,132.56 104.59,133.12 C105.13,133.67 105.25,134.53 105.48,135.41 C105.70,136.29 105.97,137.32 105.92,138.37 C105.87,139.42 106.71,141.14 105.18,141.70 C103.65,142.25 98.15,143.12 96.74,141.70 C95.34,140.28 96.32,134.77 96.74,133.19Z" fill="#acacac" stroke="#2a2a2a" stroke-width="0.5"/><path d="M97.80,134.75 C98.08,133.68 98.88,134.22 99.50,134.10 C100.12,133.97 100.90,133.90 101.50,134.00 C102.10,134.10 102.73,134.32 103.10,134.70 C103.47,135.07 103.55,135.66 103.70,136.25 C103.85,136.84 104.03,137.54 104.00,138.25 C103.97,138.96 104.53,140.12 103.50,140.50 C102.47,140.88 98.75,141.46 97.80,140.50 C96.85,139.54 97.52,135.82 97.80,134.75Z" fill="#8e8e8e" stroke="#2a2a2a" stroke-width="0.5"/><path d="M98.77,136.18 C98.93,135.58 99.37,135.89 99.72,135.82 C100.07,135.75 100.50,135.70 100.84,135.76 C101.18,135.82 101.53,135.94 101.74,136.15 C101.94,136.36 101.99,136.69 102.07,137.02 C102.16,137.35 102.26,137.74 102.24,138.14 C102.22,138.54 102.54,139.19 101.96,139.40 C101.38,139.61 99.30,139.94 98.77,139.40 C98.24,138.86 98.61,136.78 98.77,136.18Z" fill="#6e6e6e" stroke="#2a2a2a" stroke-width="0.5"/>
<path d="M116.00,141.00 C115.00,140.42 115.90,138.58 116.20,137.50 C116.50,136.42 117.30,135.35 117.80,134.50 C118.30,133.65 118.70,132.40 119.20,132.40 C119.70,132.40 120.27,133.65 120.80,134.50 C121.33,135.35 122.17,136.42 122.40,137.50 C122.63,138.58 123.27,140.42 122.20,141.00 C121.13,141.58 117.00,141.58 116.00,141.00Z" fill="#f6f6f6" stroke="#111" stroke-width="1.1"/><path d="M117.60,139.75 C117.10,139.46 117.55,138.54 117.70,138.00 C117.85,137.46 118.25,136.93 118.50,136.50 C118.75,136.07 118.95,135.45 119.20,135.45 C119.45,135.45 119.73,136.07 120.00,136.50 C120.27,136.93 120.68,137.46 120.80,138.00 C120.92,138.54 121.23,139.46 120.70,139.75 C120.17,140.04 118.10,140.04 117.60,139.75Z" fill="#c8c8c8" stroke="#2a2a2a" stroke-width="0.5"/><path d="M118.40,139.12 C118.15,138.98 118.38,138.52 118.45,138.25 C118.53,137.98 118.72,137.71 118.85,137.50 C118.97,137.29 119.08,136.97 119.20,136.97 C119.33,136.97 119.47,137.29 119.60,137.50 C119.73,137.71 119.94,137.98 120.00,138.25 C120.06,138.52 120.22,138.98 119.95,139.12 C119.68,139.27 118.65,139.27 118.40,139.12Z" fill="#909090" stroke="#2a2a2a" stroke-width="0.5"/>
</g>
<path d="M113.30,142.00 L113.30,123.20 L148.20,123.20" fill="none" stroke="#555" stroke-width="0.9"/>
<rect x="96.60" y="91.20" width="51.60" height="50.80" fill="none" stroke="#111" stroke-width="1.5"/>
<text x="146.00" y="138.00" font-size="5.2" fill="#222" text-anchor="end" font-weight="bold">6.8</text>
<line x1="96.60" y1="142.60" x2="96.60" y2="145.20" stroke="#111" stroke-width="0.8"/>
<line x1="100.48" y1="142.60" x2="100.48" y2="144.20" stroke="#111" stroke-width="0.8"/>
<line x1="102.75" y1="142.60" x2="102.75" y2="144.20" stroke="#111" stroke-width="0.8"/>
<line x1="104.37" y1="142.60" x2="104.37" y2="144.20" stroke="#111" stroke-width="0.8"/>
<line x1="105.62" y1="142.60" x2="105.62" y2="144.20" stroke="#111" stroke-width="0.8"/>
<line x1="106.64" y1="142.60" x2="106.64" y2="144.20" stroke="#111" stroke-width="0.8"/>
<line x1="107.50" y1="142.60" x2="107.50" y2="144.20" stroke="#111" stroke-width="0.8"/>
<line x1="108.25" y1="142.60" x2="108.25" y2="144.20" stroke="#111" stroke-width="0.8"/>
<line x1="108.91" y1="142.60" x2="108.91" y2="144.20" stroke="#111" stroke-width="0.8"/>
<line x1="109.50" y1="142.60" x2="109.50" y2="145.20" stroke="#111" stroke-width="0.8"/>
<line x1="113.38" y1="142.60" x2="113.38" y2="144.20" stroke="#111" stroke-width="0.8"/>
<line x1="115.65" y1="142.60" x2="115.65" y2="144.20" stroke="#111" stroke-width="0.8"/>
<line x1="117.27" y1="142.60" x2="117.27" y2="144.20" stroke="#111" stroke-width="0.8"/>
<line x1="118.52" y1="142.60" x2="118.52" y2="144.20" stroke="#111" stroke-width="0.8"/>
<line x1="119.54" y1="142.60" x2="119.54" y2="144.20" stroke="#111" stroke-width="0.8"/>
<line x1="120.40" y1="142.60" x2="120.40" y2="144.20" stroke="#111" stroke-width="0.8"/>
<line x1="121.15" y1="142.60" x2="121.15" y2="144.20" stroke="#111" stroke-width="0.8"/>
<line x1="121.81" y1="142.60" x2="121.81" y2="144.20" stroke="#111" stroke-width="0.8"/>
<line x1="122.40" y1="142.60" x2="122.40" y2="145.20" stroke="#111" stroke-width="0.8"/>
<line x1="126.28" y1="142.60" x2="126.28" y2="144.20" stroke="#111" stroke-width="0.8"/>
<line x1="128.55" y1="142.60" x2="128.55" y2="144.20" stroke="#111" stroke-width="0.8"/>
<line x1="130.17" y1="142.60" x2="130.17" y2="144.20" stroke="#111" stroke-width="0.8"/>
<line x1="131.42" y1="142.60" x2="131.42" y2="144.20" stroke="#111" stroke-width="0.8"/>
<line x1="132.44" y1="142.60" x2="132.44" y2="144.20" stroke="#111" stroke-width="0.8"/>
<line x1="133.30" y1="142.60" x2="133.30" y2="144.20" stroke="#111" stroke-width="0.8"/>
<line x1="134.05" y1="142.60" x2="134.05" y2="144.20" stroke="#111" stroke-width="0.8"/>
<line x1="134.71" y1="142.60" x2="134.71" y2="144.20" stroke="#111" stroke-width="0.8"/>
<line x1="135.30" y1="142.60" x2="135.30" y2="145.20" stroke="#111" stroke-width="0.8"/>
<line x1="139.18" y1="142.60" x2="139.18" y2="144.20" stroke="#111" stroke-width="0.8"/>
<line x1="141.45" y1="142.60" x2="141.45" y2="144.20" stroke="#111" stroke-width="0.8"/>
<line x1="143.07" y1="142.60" x2="143.07" y2="144.20" stroke="#111" stroke-width="0.8"/>
<line x1="144.32" y1="142.60" x2="144.32" y2="144.20" stroke="#111" stroke-width="0.8"/>
<line x1="145.34" y1="142.60" x2="145.34" y2="144.20" stroke="#111" stroke-width="0.8"/>
<line x1="146.20" y1="142.60" x2="146.20" y2="144.20" stroke="#111" stroke-width="0.8"/>
<line x1="146.95" y1="142.60" x2="146.95" y2="144.20" stroke="#111" stroke-width="0.8"/>
<line x1="147.61" y1="142.60" x2="147.61" y2="144.20" stroke="#111" stroke-width="0.8"/>
<line x1="148.20" y1="142.60" x2="148.20" y2="145.20" stroke="#111" stroke-width="0.8"/>
<line x1="93.40" y1="142.00" x2="96.00" y2="142.00" stroke="#111" stroke-width="0.9"/>
<line x1="95.00" y1="139.56" x2="96.00" y2="139.56" stroke="#111" stroke-width="0.7"/>
<line x1="95.00" y1="137.12" x2="96.00" y2="137.12" stroke="#111" stroke-width="0.7"/>
<line x1="95.00" y1="134.68" x2="96.00" y2="134.68" stroke="#111" stroke-width="0.7"/>
<line x1="93.40" y1="132.24" x2="96.00" y2="132.24" stroke="#111" stroke-width="0.9"/>
<line x1="95.00" y1="129.80" x2="96.00" y2="129.80" stroke="#111" stroke-width="0.7"/>
<line x1="95.00" y1="127.36" x2="96.00" y2="127.36" stroke="#111" stroke-width="0.7"/>
<line x1="95.00" y1="124.92" x2="96.00" y2="124.92" stroke="#111" stroke-width="0.7"/>
<line x1="93.40" y1="122.48" x2="96.00" y2="122.48" stroke="#111" stroke-width="0.9"/>
<line x1="95.00" y1="120.04" x2="96.00" y2="120.04" stroke="#111" stroke-width="0.7"/>
<line x1="95.00" y1="117.60" x2="96.00" y2="117.60" stroke="#111" stroke-width="0.7"/>
<line x1="95.00" y1="115.16" x2="96.00" y2="115.16" stroke="#111" stroke-width="0.7"/>
<line x1="93.40" y1="112.72" x2="96.00" y2="112.72" stroke="#111" stroke-width="0.9"/>
<line x1="95.00" y1="110.28" x2="96.00" y2="110.28" stroke="#111" stroke-width="0.7"/>
<line x1="95.00" y1="107.84" x2="96.00" y2="107.84" stroke="#111" stroke-width="0.7"/>
<line x1="95.00" y1="105.40" x2="96.00" y2="105.40" stroke="#111" stroke-width="0.7"/>
<line x1="93.40" y1="102.96" x2="96.00" y2="102.96" stroke="#111" stroke-width="0.9"/>
<line x1="95.00" y1="100.52" x2="96.00" y2="100.52" stroke="#111" stroke-width="0.7"/>
<line x1="95.00" y1="98.08" x2="96.00" y2="98.08" stroke="#111" stroke-width="0.7"/>
<line x1="95.00" y1="95.64" x2="96.00" y2="95.64" stroke="#111" stroke-width="0.7"/>
<line x1="93.40" y1="93.20" x2="96.00" y2="93.20" stroke="#111" stroke-width="0.9"/>
<clipPath id="c399"><rect x="155.0" y="91.2" width="51.19999999999999" height="50.8"/></clipPath>
<g clip-path="url(#c399)">
<path d="M154.00,132.00 C154.58,129.97 156.25,131.03 157.50,130.80 C158.75,130.57 160.28,130.40 161.50,130.60 C162.72,130.80 164.05,131.27 164.80,132.00 C165.55,132.73 165.70,133.92 166.00,135.00 C166.30,136.08 166.63,137.17 166.60,138.50 C166.57,139.83 167.90,142.25 165.80,143.00 C163.70,143.75 155.97,144.83 154.00,143.00 C152.03,141.17 153.42,134.03 154.00,132.00Z" fill="#cfcfcf" stroke="#111" stroke-width="1.0"/><path d="M155.17,133.56 C155.60,132.06 156.83,132.84 157.76,132.67 C158.69,132.50 159.82,132.38 160.72,132.52 C161.62,132.67 162.61,133.02 163.16,133.56 C163.72,134.10 163.83,134.98 164.05,135.78 C164.27,136.58 164.52,137.38 164.49,138.37 C164.47,139.36 165.46,141.14 163.90,141.70 C162.35,142.25 156.63,143.06 155.17,141.70 C153.71,140.34 154.74,135.06 155.17,133.56Z" fill="#acacac" stroke="#2a2a2a" stroke-width="0.5"/><path d="M156.25,135.00 C156.54,133.98 157.38,134.52 158.00,134.40 C158.62,134.28 159.39,134.20 160.00,134.30 C160.61,134.40 161.28,134.63 161.65,135.00 C162.03,135.37 162.10,135.96 162.25,136.50 C162.40,137.04 162.57,137.58 162.55,138.25 C162.53,138.92 163.20,140.12 162.15,140.50 C161.10,140.88 157.23,141.42 156.25,140.50 C155.27,139.58 155.96,136.02 156.25,135.00Z" fill="#8e8e8e" stroke="#2a2a2a" stroke-width="0.5"/><path d="M157.24,136.32 C157.40,135.75 157.87,136.05 158.22,135.98 C158.57,135.92 159.00,135.87 159.34,135.93 C159.68,135.98 160.05,136.11 160.26,136.32 C160.47,136.53 160.52,136.86 160.60,137.16 C160.68,137.46 160.78,137.77 160.77,138.14 C160.76,138.51 161.13,139.19 160.54,139.40 C159.96,139.61 157.79,139.91 157.24,139.40 C156.69,138.89 157.08,136.89 157.24,136.32Z" fill="#6e6e6e" stroke="#2a2a2a" stroke-width="0.5"/>
<path d="M174.00,141.00 C173.00,140.50 173.93,138.90 174.20,138.00 C174.47,137.10 175.12,136.23 175.60,135.60 C176.08,134.97 176.60,134.20 177.10,134.20 C177.60,134.20 178.08,134.97 178.60,135.60 C179.12,136.23 179.93,137.10 180.20,138.00 C180.47,138.90 181.23,140.50 180.20,141.00 C179.17,141.50 175.00,141.50 174.00,141.00Z" fill="#f6f6f6" stroke="#111" stroke-width="1.1"/><path d="M175.55,140.00 C175.05,139.75 175.52,138.95 175.65,138.50 C175.78,138.05 176.11,137.62 176.35,137.30 C176.59,136.98 176.85,136.60 177.10,136.60 C177.35,136.60 177.59,136.98 177.85,137.30 C178.11,137.62 178.52,138.05 178.65,138.50 C178.78,138.95 179.17,139.75 178.65,140.00 C178.13,140.25 176.05,140.25 175.55,140.00Z" fill="#c8c8c8" stroke="#2a2a2a" stroke-width="0.5"/><path d="M176.32,139.50 C176.07,139.38 176.31,138.97 176.38,138.75 C176.44,138.53 176.60,138.31 176.72,138.15 C176.85,137.99 176.97,137.80 177.10,137.80 C177.22,137.80 177.35,137.99 177.47,138.15 C177.60,138.31 177.81,138.53 177.88,138.75 C177.94,138.97 178.13,139.38 177.88,139.50 C177.62,139.62 176.57,139.62 176.32,139.50Z" fill="#909090" stroke="#2a2a2a" stroke-width="0.5"/>
</g>
<path d="M171.30,142.00 L171.30,123.20 L206.20,123.20" fill="none" stroke="#555" stroke-width="0.9"/>
<rect x="155.00" y="91.20" width="51.20" height="50.80" fill="none" stroke="#111" stroke-width="1.5"/>
<text x="204.00" y="138.00" font-size="5.2" fill="#222" text-anchor="end" font-weight="bold">6.8</text>
<line x1="155.00" y1="142.60" x2="155.00" y2="145.20" stroke="#111" stroke-width="0.8"/>
<line x1="158.85" y1="142.60" x2="158.85" y2="144.20" stroke="#111" stroke-width="0.8"/>
<line x1="161.11" y1="142.60" x2="161.11" y2="144.20" stroke="#111" stroke-width="0.8"/>
<line x1="162.71" y1="142.60" x2="162.71" y2="144.20" stroke="#111" stroke-width="0.8"/>
<line x1="163.95" y1="142.60" x2="163.95" y2="144.20" stroke="#111" stroke-width="0.8"/>
<line x1="164.96" y1="142.60" x2="164.96" y2="144.20" stroke="#111" stroke-width="0.8"/>
<line x1="165.82" y1="142.60" x2="165.82" y2="144.20" stroke="#111" stroke-width="0.8"/>
<line x1="166.56" y1="142.60" x2="166.56" y2="144.20" stroke="#111" stroke-width="0.8"/>
<line x1="167.21" y1="142.60" x2="167.21" y2="144.20" stroke="#111" stroke-width="0.8"/>
<line x1="167.80" y1="142.60" x2="167.80" y2="145.20" stroke="#111" stroke-width="0.8"/>
<line x1="171.65" y1="142.60" x2="171.65" y2="144.20" stroke="#111" stroke-width="0.8"/>
<line x1="173.91" y1="142.60" x2="173.91" y2="144.20" stroke="#111" stroke-width="0.8"/>
<line x1="175.51" y1="142.60" x2="175.51" y2="144.20" stroke="#111" stroke-width="0.8"/>
<line x1="176.75" y1="142.60" x2="176.75" y2="144.20" stroke="#111" stroke-width="0.8"/>
<line x1="177.76" y1="142.60" x2="177.76" y2="144.20" stroke="#111" stroke-width="0.8"/>
<line x1="178.62" y1="142.60" x2="178.62" y2="144.20" stroke="#111" stroke-width="0.8"/>
<line x1="179.36" y1="142.60" x2="179.36" y2="144.20" stroke="#111" stroke-width="0.8"/>
<line x1="180.01" y1="142.60" x2="180.01" y2="144.20" stroke="#111" stroke-width="0.8"/>
<line x1="180.60" y1="142.60" x2="180.60" y2="145.20" stroke="#111" stroke-width="0.8"/>
<line x1="184.45" y1="142.60" x2="184.45" y2="144.20" stroke="#111" stroke-width="0.8"/>
<line x1="186.71" y1="142.60" x2="186.71" y2="144.20" stroke="#111" stroke-width="0.8"/>
<line x1="188.31" y1="142.60" x2="188.31" y2="144.20" stroke="#111" stroke-width="0.8"/>
<line x1="189.55" y1="142.60" x2="189.55" y2="144.20" stroke="#111" stroke-width="0.8"/>
<line x1="190.56" y1="142.60" x2="190.56" y2="144.20" stroke="#111" stroke-width="0.8"/>
<line x1="191.42" y1="142.60" x2="191.42" y2="144.20" stroke="#111" stroke-width="0.8"/>
<line x1="192.16" y1="142.60" x2="192.16" y2="144.20" stroke="#111" stroke-width="0.8"/>
<line x1="192.81" y1="142.60" x2="192.81" y2="144.20" stroke="#111" stroke-width="0.8"/>
<line x1="193.40" y1="142.60" x2="193.40" y2="145.20" stroke="#111" stroke-width="0.8"/>
<line x1="197.25" y1="142.60" x2="197.25" y2="144.20" stroke="#111" stroke-width="0.8"/>
<line x1="199.51" y1="142.60" x2="199.51" y2="144.20" stroke="#111" stroke-width="0.8"/>
<line x1="201.11" y1="142.60" x2="201.11" y2="144.20" stroke="#111" stroke-width="0.8"/>
<line x1="202.35" y1="142.60" x2="202.35" y2="144.20" stroke="#111" stroke-width="0.8"/>
<line x1="203.36" y1="142.60" x2="203.36" y2="144.20" stroke="#111" stroke-width="0.8"/>
<line x1="204.22" y1="142.60" x2="204.22" y2="144.20" stroke="#111" stroke-width="0.8"/>
<line x1="204.96" y1="142.60" x2="204.96" y2="144.20" stroke="#111" stroke-width="0.8"/>
<line x1="205.61" y1="142.60" x2="205.61" y2="144.20" stroke="#111" stroke-width="0.8"/>
<line x1="206.20" y1="142.60" x2="206.20" y2="145.20" stroke="#111" stroke-width="0.8"/>
<line x1="151.80" y1="142.00" x2="154.40" y2="142.00" stroke="#111" stroke-width="0.9"/>
<line x1="153.40" y1="139.56" x2="154.40" y2="139.56" stroke="#111" stroke-width="0.7"/>
<line x1="153.40" y1="137.12" x2="154.40" y2="137.12" stroke="#111" stroke-width="0.7"/>
<line x1="153.40" y1="134.68" x2="154.40" y2="134.68" stroke="#111" stroke-width="0.7"/>
<line x1="151.80" y1="132.24" x2="154.40" y2="132.24" stroke="#111" stroke-width="0.9"/>
<line x1="153.40" y1="129.80" x2="154.40" y2="129.80" stroke="#111" stroke-width="0.7"/>
<line x1="153.40" y1="127.36" x2="154.40" y2="127.36" stroke="#111" stroke-width="0.7"/>
<line x1="153.40" y1="124.92" x2="154.40" y2="124.92" stroke="#111" stroke-width="0.7"/>
<line x1="151.80" y1="122.48" x2="154.40" y2="122.48" stroke="#111" stroke-width="0.9"/>
<line x1="153.40" y1="120.04" x2="154.40" y2="120.04" stroke="#111" stroke-width="0.7"/>
<line x1="153.40" y1="117.60" x2="154.40" y2="117.60" stroke="#111" stroke-width="0.7"/>
<line x1="153.40" y1="115.16" x2="154.40" y2="115.16" stroke="#111" stroke-width="0.7"/>
<line x1="151.80" y1="112.72" x2="154.40" y2="112.72" stroke="#111" stroke-width="0.9"/>
<line x1="153.40" y1="110.28" x2="154.40" y2="110.28" stroke="#111" stroke-width="0.7"/>
<line x1="153.40" y1="107.84" x2="154.40" y2="107.84" stroke="#111" stroke-width="0.7"/>
<line x1="153.40" y1="105.40" x2="154.40" y2="105.40" stroke="#111" stroke-width="0.7"/>
<line x1="151.80" y1="102.96" x2="154.40" y2="102.96" stroke="#111" stroke-width="0.9"/>
<line x1="153.40" y1="100.52" x2="154.40" y2="100.52" stroke="#111" stroke-width="0.7"/>
<line x1="153.40" y1="98.08" x2="154.40" y2="98.08" stroke="#111" stroke-width="0.7"/>
<line x1="153.40" y1="95.64" x2="154.40" y2="95.64" stroke="#111" stroke-width="0.7"/>
<line x1="151.80" y1="93.20" x2="154.40" y2="93.20" stroke="#111" stroke-width="0.9"/>
<clipPath id="c465"><rect x="213.2" y="91.2" width="51.400000000000034" height="50.8"/></clipPath>
<g clip-path="url(#c465)">
<path d="M212.50,128.80 C213.25,126.13 215.58,127.38 217.00,127.00 C218.42,126.62 219.80,126.33 221.00,126.50 C222.20,126.67 223.43,127.25 224.20,128.00 C224.97,128.75 225.20,129.83 225.60,131.00 C226.00,132.17 226.60,133.90 226.60,135.00 C226.60,136.10 226.03,136.73 225.60,137.60 C225.17,138.47 224.68,139.30 224.00,140.20 C223.32,141.10 223.42,142.53 221.50,143.00 C219.58,143.47 214.00,145.37 212.50,143.00 C211.00,140.63 211.75,131.47 212.50,128.80Z" fill="#cfcfcf" stroke="#111" stroke-width="1.0"/><path d="M213.93,130.67 C214.49,128.70 216.21,129.62 217.26,129.34 C218.31,129.06 219.33,128.85 220.22,128.97 C221.11,129.09 222.02,129.53 222.59,130.08 C223.16,130.64 223.33,131.44 223.62,132.30 C223.92,133.16 224.36,134.45 224.36,135.26 C224.36,136.07 223.94,136.54 223.62,137.18 C223.30,137.83 222.95,138.44 222.44,139.11 C221.93,139.77 222.01,140.83 220.59,141.18 C219.17,141.53 215.04,142.93 213.93,141.18 C212.82,139.43 213.38,132.65 213.93,130.67Z" fill="#acacac" stroke="#2a2a2a" stroke-width="0.5"/><path d="M215.25,132.40 C215.62,131.07 216.79,131.69 217.50,131.50 C218.21,131.31 218.90,131.17 219.50,131.25 C220.10,131.33 220.72,131.62 221.10,132.00 C221.48,132.38 221.60,132.92 221.80,133.50 C222.00,134.08 222.30,134.95 222.30,135.50 C222.30,136.05 222.02,136.37 221.80,136.80 C221.58,137.23 221.34,137.65 221.00,138.10 C220.66,138.55 220.71,139.27 219.75,139.50 C218.79,139.73 216.00,140.68 215.25,139.50 C214.50,138.32 214.88,133.73 215.25,132.40Z" fill="#8e8e8e" stroke="#2a2a2a" stroke-width="0.5"/><path d="M216.46,133.98 C216.67,133.24 217.32,133.59 217.72,133.48 C218.12,133.37 218.50,133.29 218.84,133.34 C219.18,133.39 219.52,133.55 219.74,133.76 C219.95,133.97 220.02,134.27 220.13,134.60 C220.24,134.93 220.41,135.41 220.41,135.72 C220.41,136.03 220.25,136.21 220.13,136.45 C220.01,136.69 219.87,136.92 219.68,137.18 C219.49,137.43 219.52,137.83 218.98,137.96 C218.44,138.09 216.88,138.62 216.46,137.96 C216.04,137.30 216.25,134.73 216.46,133.98Z" fill="#6e6e6e" stroke="#2a2a2a" stroke-width="0.5"/>
<path d="M233.60,135.00 C233.88,133.67 234.33,132.30 235.10,131.00 C235.87,129.70 237.22,127.85 238.20,127.20 C239.18,126.55 240.20,126.67 241.00,127.10 C241.80,127.53 242.63,128.65 243.00,129.80 C243.37,130.95 243.43,132.63 243.20,134.00 C242.97,135.37 242.37,136.83 241.60,138.00 C240.83,139.17 239.70,140.40 238.60,141.00 C237.50,141.60 235.87,141.93 235.00,141.60 C234.13,141.27 233.63,140.10 233.40,139.00 C233.17,137.90 233.32,136.33 233.60,135.00Z" fill="#d8d8d8" stroke="#111" stroke-width="1.0"/><path d="M234.85,135.00 C235.06,134.00 235.40,132.97 235.97,132.00 C236.55,131.03 237.56,129.64 238.30,129.15 C239.04,128.66 239.80,128.75 240.40,129.07 C241.00,129.40 241.62,130.24 241.90,131.10 C242.18,131.96 242.22,133.22 242.05,134.25 C241.87,135.28 241.42,136.38 240.85,137.25 C240.28,138.12 239.42,139.05 238.60,139.50 C237.78,139.95 236.55,140.20 235.90,139.95 C235.25,139.70 234.88,138.82 234.70,138.00 C234.52,137.18 234.64,136.00 234.85,135.00Z" fill="#b4b4b4" stroke="#2a2a2a" stroke-width="0.5"/><path d="M236.10,135.00 C236.24,134.33 236.47,133.65 236.85,133.00 C237.23,132.35 237.91,131.42 238.40,131.10 C238.89,130.78 239.40,130.83 239.80,131.05 C240.20,131.27 240.62,131.83 240.80,132.40 C240.98,132.97 241.02,133.82 240.90,134.50 C240.78,135.18 240.48,135.92 240.10,136.50 C239.72,137.08 239.15,137.70 238.60,138.00 C238.05,138.30 237.23,138.47 236.80,138.30 C236.37,138.13 236.12,137.55 236.00,137.00 C235.88,136.45 235.96,135.67 236.10,135.00Z" fill="#949494" stroke="#2a2a2a" stroke-width="0.5"/><path d="M237.35,135.00 C237.42,134.67 237.53,134.32 237.72,134.00 C237.92,133.68 238.25,133.21 238.50,133.05 C238.75,132.89 239.00,132.92 239.20,133.03 C239.40,133.13 239.61,133.41 239.70,133.70 C239.79,133.99 239.81,134.41 239.75,134.75 C239.69,135.09 239.54,135.46 239.35,135.75 C239.16,136.04 238.88,136.35 238.60,136.50 C238.32,136.65 237.92,136.73 237.70,136.65 C237.48,136.57 237.36,136.28 237.30,136.00 C237.24,135.72 237.28,135.33 237.35,135.00Z" fill="#6a6a6a" stroke="#2a2a2a" stroke-width="0.5"/>
</g>
<path d="M229.80,142.00 L229.80,123.20 L264.60,123.20" fill="none" stroke="#555" stroke-width="0.9"/>
<rect x="213.20" y="91.20" width="51.40" height="50.80" fill="none" stroke="#111" stroke-width="1.5"/>
<text x="262.40" y="138.00" font-size="5.2" fill="#222" text-anchor="end" font-weight="bold">15.5</text>
<line x1="213.20" y1="142.60" x2="213.20" y2="145.20" stroke="#111" stroke-width="0.8"/>
<line x1="217.07" y1="142.60" x2="217.07" y2="144.20" stroke="#111" stroke-width="0.8"/>
<line x1="219.33" y1="142.60" x2="219.33" y2="144.20" stroke="#111" stroke-width="0.8"/>
<line x1="220.94" y1="142.60" x2="220.94" y2="144.20" stroke="#111" stroke-width="0.8"/>
<line x1="222.18" y1="142.60" x2="222.18" y2="144.20" stroke="#111" stroke-width="0.8"/>
<line x1="223.20" y1="142.60" x2="223.20" y2="144.20" stroke="#111" stroke-width="0.8"/>
<line x1="224.06" y1="142.60" x2="224.06" y2="144.20" stroke="#111" stroke-width="0.8"/>
<line x1="224.80" y1="142.60" x2="224.80" y2="144.20" stroke="#111" stroke-width="0.8"/>
<line x1="225.46" y1="142.60" x2="225.46" y2="144.20" stroke="#111" stroke-width="0.8"/>
<line x1="226.05" y1="142.60" x2="226.05" y2="145.20" stroke="#111" stroke-width="0.8"/>
<line x1="229.92" y1="142.60" x2="229.92" y2="144.20" stroke="#111" stroke-width="0.8"/>
<line x1="232.18" y1="142.60" x2="232.18" y2="144.20" stroke="#111" stroke-width="0.8"/>
<line x1="233.79" y1="142.60" x2="233.79" y2="144.20" stroke="#111" stroke-width="0.8"/>
<line x1="235.03" y1="142.60" x2="235.03" y2="144.20" stroke="#111" stroke-width="0.8"/>
<line x1="236.05" y1="142.60" x2="236.05" y2="144.20" stroke="#111" stroke-width="0.8"/>
<line x1="236.91" y1="142.60" x2="236.91" y2="144.20" stroke="#111" stroke-width="0.8"/>
<line x1="237.65" y1="142.60" x2="237.65" y2="144.20" stroke="#111" stroke-width="0.8"/>
<line x1="238.31" y1="142.60" x2="238.31" y2="144.20" stroke="#111" stroke-width="0.8"/>
<line x1="238.90" y1="142.60" x2="238.90" y2="145.20" stroke="#111" stroke-width="0.8"/>
<line x1="242.77" y1="142.60" x2="242.77" y2="144.20" stroke="#111" stroke-width="0.8"/>
<line x1="245.03" y1="142.60" x2="245.03" y2="144.20" stroke="#111" stroke-width="0.8"/>
<line x1="246.64" y1="142.60" x2="246.64" y2="144.20" stroke="#111" stroke-width="0.8"/>
<line x1="247.88" y1="142.60" x2="247.88" y2="144.20" stroke="#111" stroke-width="0.8"/>
<line x1="248.90" y1="142.60" x2="248.90" y2="144.20" stroke="#111" stroke-width="0.8"/>
<line x1="249.76" y1="142.60" x2="249.76" y2="144.20" stroke="#111" stroke-width="0.8"/>
<line x1="250.50" y1="142.60" x2="250.50" y2="144.20" stroke="#111" stroke-width="0.8"/>
<line x1="251.16" y1="142.60" x2="251.16" y2="144.20" stroke="#111" stroke-width="0.8"/>
<line x1="251.75" y1="142.60" x2="251.75" y2="145.20" stroke="#111" stroke-width="0.8"/>
<line x1="255.62" y1="142.60" x2="255.62" y2="144.20" stroke="#111" stroke-width="0.8"/>
<line x1="257.88" y1="142.60" x2="257.88" y2="144.20" stroke="#111" stroke-width="0.8"/>
<line x1="259.49" y1="142.60" x2="259.49" y2="144.20" stroke="#111" stroke-width="0.8"/>
<line x1="260.73" y1="142.60" x2="260.73" y2="144.20" stroke="#111" stroke-width="0.8"/>
<line x1="261.75" y1="142.60" x2="261.75" y2="144.20" stroke="#111" stroke-width="0.8"/>
<line x1="262.61" y1="142.60" x2="262.61" y2="144.20" stroke="#111" stroke-width="0.8"/>
<line x1="263.35" y1="142.60" x2="263.35" y2="144.20" stroke="#111" stroke-width="0.8"/>
<line x1="264.01" y1="142.60" x2="264.01" y2="144.20" stroke="#111" stroke-width="0.8"/>
<line x1="264.60" y1="142.60" x2="264.60" y2="145.20" stroke="#111" stroke-width="0.8"/>
<line x1="210.00" y1="142.00" x2="212.60" y2="142.00" stroke="#111" stroke-width="0.9"/>
<line x1="211.60" y1="139.56" x2="212.60" y2="139.56" stroke="#111" stroke-width="0.7"/>
<line x1="211.60" y1="137.12" x2="212.60" y2="137.12" stroke="#111" stroke-width="0.7"/>
<line x1="211.60" y1="134.68" x2="212.60" y2="134.68" stroke="#111" stroke-width="0.7"/>
<line x1="210.00" y1="132.24" x2="212.60" y2="132.24" stroke="#111" stroke-width="0.9"/>
<line x1="211.60" y1="129.80" x2="212.60" y2="129.80" stroke="#111" stroke-width="0.7"/>
<line x1="211.60" y1="127.36" x2="212.60" y2="127.36" stroke="#111" stroke-width="0.7"/>
<line x1="211.60" y1="124.92" x2="212.60" y2="124.92" stroke="#111" stroke-width="0.7"/>
<line x1="210.00" y1="122.48" x2="212.60" y2="122.48" stroke="#111" stroke-width="0.9"/>
<line x1="211.60" y1="120.04" x2="212.60" y2="120.04" stroke="#111" stroke-width="0.7"/>
<line x1="211.60" y1="117.60" x2="212.60" y2="117.60" stroke="#111" stroke-width="0.7"/>
<line x1="211.60" y1="115.16" x2="212.60" y2="115.16" stroke="#111" stroke-width="0.7"/>
<line x1="210.00" y1="112.72" x2="212.60" y2="112.72" stroke="#111" stroke-width="0.9"/>
<line x1="211.60" y1="110.28" x2="212.60" y2="110.28" stroke="#111" stroke-width="0.7"/>
<line x1="211.60" y1="107.84" x2="212.60" y2="107.84" stroke="#111" stroke-width="0.7"/>
<line x1="211.60" y1="105.40" x2="212.60" y2="105.40" stroke="#111" stroke-width="0.7"/>
<line x1="210.00" y1="102.96" x2="212.60" y2="102.96" stroke="#111" stroke-width="0.9"/>
<line x1="211.60" y1="100.52" x2="212.60" y2="100.52" stroke="#111" stroke-width="0.7"/>
<line x1="211.60" y1="98.08" x2="212.60" y2="98.08" stroke="#111" stroke-width="0.7"/>
<line x1="211.60" y1="95.64" x2="212.60" y2="95.64" stroke="#111" stroke-width="0.7"/>
<line x1="210.00" y1="93.20" x2="212.60" y2="93.20" stroke="#111" stroke-width="0.9"/>
<clipPath id="c531"><rect x="39.0" y="169.8" width="51.0" height="51.5"/></clipPath>
<g clip-path="url(#c531)">
<path d="M38.00,212.30 C39.17,210.35 42.12,211.68 44.00,211.30 C45.88,210.92 47.97,210.02 49.30,210.00 C50.63,209.98 51.05,210.73 52.00,211.20 C52.95,211.67 54.00,212.45 55.00,212.80 C56.00,213.15 57.17,213.37 58.00,213.30 C58.83,213.23 59.33,212.92 60.00,212.40 C60.67,211.88 61.33,210.70 62.00,210.20 C62.67,209.70 63.17,209.43 64.00,209.40 C64.83,209.37 66.07,209.57 67.00,210.00 C67.93,210.43 69.02,211.23 69.60,212.00 C70.18,212.77 70.50,213.67 70.50,214.60 C70.50,215.53 70.02,216.62 69.60,217.60 C69.18,218.58 68.60,219.60 68.00,220.50 C67.40,221.40 71.17,222.58 66.00,223.00 C60.83,223.42 41.67,224.78 37.00,223.00 C32.33,221.22 36.83,214.25 38.00,212.30Z" fill="#c4c4c4" stroke="#111" stroke-width="1.0"/><path d="M39.12,215.16 C40.20,213.75 42.95,214.71 44.70,214.44 C46.45,214.16 48.39,213.51 49.63,213.50 C50.87,213.49 51.26,214.03 52.14,214.36 C53.02,214.70 54.00,215.26 54.93,215.52 C55.86,215.77 56.95,215.92 57.72,215.88 C58.49,215.83 58.96,215.60 59.58,215.23 C60.20,214.86 60.82,214.00 61.44,213.64 C62.06,213.28 62.52,213.09 63.30,213.07 C64.08,213.04 65.22,213.19 66.09,213.50 C66.96,213.81 67.97,214.39 68.51,214.94 C69.05,215.49 69.34,216.14 69.34,216.81 C69.34,217.48 68.90,218.26 68.51,218.97 C68.12,219.68 67.58,220.41 67.02,221.06 C66.46,221.71 69.97,222.56 65.16,222.86 C60.35,223.16 42.53,224.14 38.19,222.86 C33.85,221.58 38.03,216.56 39.12,215.16Z" fill="#a8a8a8" stroke="#2a2a2a" stroke-width="0.5"/><path d="M40.40,217.40 C41.39,216.43 43.90,217.09 45.50,216.90 C47.10,216.71 48.87,216.26 50.00,216.25 C51.14,216.24 51.49,216.62 52.30,216.85 C53.11,217.08 54.00,217.47 54.85,217.65 C55.70,217.83 56.69,217.93 57.40,217.90 C58.11,217.87 58.53,217.71 59.10,217.45 C59.67,217.19 60.23,216.60 60.80,216.35 C61.37,216.10 61.79,215.97 62.50,215.95 C63.21,215.93 64.26,216.03 65.05,216.25 C65.84,216.47 66.76,216.87 67.26,217.25 C67.76,217.63 68.03,218.08 68.03,218.55 C68.03,219.02 67.61,219.56 67.26,220.05 C66.91,220.54 66.41,221.05 65.90,221.50 C65.39,221.95 68.59,222.54 64.20,222.75 C59.81,222.96 43.52,223.64 39.55,222.75 C35.58,221.86 39.41,218.38 40.40,217.40Z" fill="#8c8c8c" stroke="#2a2a2a" stroke-width="0.5"/><path d="M42.80,219.44 C43.62,218.85 45.68,219.26 47.00,219.14 C48.32,219.03 49.78,218.75 50.71,218.75 C51.64,218.75 51.94,218.97 52.60,219.11 C53.27,219.25 54.00,219.49 54.70,219.59 C55.40,219.69 56.22,219.76 56.80,219.74 C57.38,219.72 57.73,219.62 58.20,219.47 C58.67,219.31 59.13,218.96 59.60,218.81 C60.07,218.66 60.42,218.58 61.00,218.57 C61.58,218.56 62.45,218.62 63.10,218.75 C63.75,218.88 64.51,219.12 64.92,219.35 C65.33,219.58 65.55,219.85 65.55,220.13 C65.55,220.41 65.21,220.74 64.92,221.03 C64.63,221.32 64.22,221.63 63.80,221.90 C63.38,222.17 66.02,222.53 62.40,222.65 C58.78,222.78 45.37,223.19 42.10,222.65 C38.83,222.12 41.98,220.03 42.80,219.44Z" fill="#707070" stroke="#2a2a2a" stroke-width="0.5"/>
</g>
<path d="M56.60,221.30 L56.60,202.00 L90.00,202.00" fill="none" stroke="#555" stroke-width="0.9"/>
<rect x="39.00" y="169.80" width="51.00" height="51.50" fill="none" stroke="#111" stroke-width="1.5"/>
<text x="87.80" y="217.30" font-size="5.2" fill="#222" text-anchor="end" font-weight="bold">46.9</text>
<line x1="39.00" y1="221.90" x2="39.00" y2="224.50" stroke="#111" stroke-width="0.8"/>
<line x1="42.84" y1="221.90" x2="42.84" y2="223.50" stroke="#111" stroke-width="0.8"/>
<line x1="45.08" y1="221.90" x2="45.08" y2="223.50" stroke="#111" stroke-width="0.8"/>
<line x1="46.68" y1="221.90" x2="46.68" y2="223.50" stroke="#111" stroke-width="0.8"/>
<line x1="47.91" y1="221.90" x2="47.91" y2="223.50" stroke="#111" stroke-width="0.8"/>
<line x1="48.92" y1="221.90" x2="48.92" y2="223.50" stroke="#111" stroke-width="0.8"/>
<line x1="49.78" y1="221.90" x2="49.78" y2="223.50" stroke="#111" stroke-width="0.8"/>
<line x1="50.51" y1="221.90" x2="50.51" y2="223.50" stroke="#111" stroke-width="0.8"/>
<line x1="51.17" y1="221.90" x2="51.17" y2="223.50" stroke="#111" stroke-width="0.8"/>
<line x1="51.75" y1="221.90" x2="51.75" y2="224.50" stroke="#111" stroke-width="0.8"/>
<line x1="55.59" y1="221.90" x2="55.59" y2="223.50" stroke="#111" stroke-width="0.8"/>
<line x1="57.83" y1="221.90" x2="57.83" y2="223.50" stroke="#111" stroke-width="0.8"/>
<line x1="59.43" y1="221.90" x2="59.43" y2="223.50" stroke="#111" stroke-width="0.8"/>
<line x1="60.66" y1="221.90" x2="60.66" y2="223.50" stroke="#111" stroke-width="0.8"/>
<line x1="61.67" y1="221.90" x2="61.67" y2="223.50" stroke="#111" stroke-width="0.8"/>
<line x1="62.53" y1="221.90" x2="62.53" y2="223.50" stroke="#111" stroke-width="0.8"/>
<line x1="63.26" y1="221.90" x2="63.26" y2="223.50" stroke="#111" stroke-width="0.8"/>
<line x1="63.92" y1="221.90" x2="63.92" y2="223.50" stroke="#111" stroke-width="0.8"/>
<line x1="64.50" y1="221.90" x2="64.50" y2="224.50" stroke="#111" stroke-width="0.8"/>
<line x1="68.34" y1="221.90" x2="68.34" y2="223.50" stroke="#111" stroke-width="0.8"/>
<line x1="70.58" y1="221.90" x2="70.58" y2="223.50" stroke="#111" stroke-width="0.8"/>
<line x1="72.18" y1="221.90" x2="72.18" y2="223.50" stroke="#111" stroke-width="0.8"/>
<line x1="73.41" y1="221.90" x2="73.41" y2="223.50" stroke="#111" stroke-width="0.8"/>
<line x1="74.42" y1="221.90" x2="74.42" y2="223.50" stroke="#111" stroke-width="0.8"/>
<line x1="75.28" y1="221.90" x2="75.28" y2="223.50" stroke="#111" stroke-width="0.8"/>
<line x1="76.01" y1="221.90" x2="76.01" y2="223.50" stroke="#111" stroke-width="0.8"/>
<line x1="76.67" y1="221.90" x2="76.67" y2="223.50" stroke="#111" stroke-width="0.8"/>
<line x1="77.25" y1="221.90" x2="77.25" y2="224.50" stroke="#111" stroke-width="0.8"/>
<line x1="81.09" y1="221.90" x2="81.09" y2="223.50" stroke="#111" stroke-width="0.8"/>
<line x1="83.33" y1="221.90" x2="83.33" y2="223.50" stroke="#111" stroke-width="0.8"/>
<line x1="84.93" y1="221.90" x2="84.93" y2="223.50" stroke="#111" stroke-width="0.8"/>
<line x1="86.16" y1="221.90" x2="86.16" y2="223.50" stroke="#111" stroke-width="0.8"/>
<line x1="87.17" y1="221.90" x2="87.17" y2="223.50" stroke="#111" stroke-width="0.8"/>
<line x1="88.03" y1="221.90" x2="88.03" y2="223.50" stroke="#111" stroke-width="0.8"/>
<line x1="88.76" y1="221.90" x2="88.76" y2="223.50" stroke="#111" stroke-width="0.8"/>
<line x1="89.42" y1="221.90" x2="89.42" y2="223.50" stroke="#111" stroke-width="0.8"/>
<line x1="90.00" y1="221.90" x2="90.00" y2="224.50" stroke="#111" stroke-width="0.8"/>
<line x1="35.80" y1="221.30" x2="38.40" y2="221.30" stroke="#111" stroke-width="0.9"/>
<line x1="37.40" y1="218.83" x2="38.40" y2="218.83" stroke="#111" stroke-width="0.7"/>
<line x1="37.40" y1="216.35" x2="38.40" y2="216.35" stroke="#111" stroke-width="0.7"/>
<line x1="37.40" y1="213.88" x2="38.40" y2="213.88" stroke="#111" stroke-width="0.7"/>
<line x1="35.80" y1="211.40" x2="38.40" y2="211.40" stroke="#111" stroke-width="0.9"/>
<line x1="37.40" y1="208.93" x2="38.40" y2="208.93" stroke="#111" stroke-width="0.7"/>
<line x1="37.40" y1="206.45" x2="38.40" y2="206.45" stroke="#111" stroke-width="0.7"/>
<line x1="37.40" y1="203.98" x2="38.40" y2="203.98" stroke="#111" stroke-width="0.7"/>
<line x1="35.80" y1="201.50" x2="38.40" y2="201.50" stroke="#111" stroke-width="0.9"/>
<line x1="37.40" y1="199.03" x2="38.40" y2="199.03" stroke="#111" stroke-width="0.7"/>
<line x1="37.40" y1="196.55" x2="38.40" y2="196.55" stroke="#111" stroke-width="0.7"/>
<line x1="37.40" y1="194.08" x2="38.40" y2="194.08" stroke="#111" stroke-width="0.7"/>
<line x1="35.80" y1="191.60" x2="38.40" y2="191.60" stroke="#111" stroke-width="0.9"/>
<line x1="37.40" y1="189.12" x2="38.40" y2="189.12" stroke="#111" stroke-width="0.7"/>
<line x1="37.40" y1="186.65" x2="38.40" y2="186.65" stroke="#111" stroke-width="0.7"/>
<line x1="37.40" y1="184.18" x2="38.40" y2="184.18" stroke="#111" stroke-width="0.7"/>
<line x1="35.80" y1="181.70" x2="38.40" y2="181.70" stroke="#111" stroke-width="0.9"/>
<line x1="37.40" y1="179.23" x2="38.40" y2="179.23" stroke="#111" stroke-width="0.7"/>
<line x1="37.40" y1="176.75" x2="38.40" y2="176.75" stroke="#111" stroke-width="0.7"/>
<line x1="37.40" y1="174.28" x2="38.40" y2="174.28" stroke="#111" stroke-width="0.7"/>
<line x1="35.80" y1="171.80" x2="38.40" y2="171.80" stroke="#111" stroke-width="0.9"/>
<clipPath id="c596"><rect x="96.6" y="169.8" width="51.599999999999994" height="51.5"/></clipPath>
<g clip-path="url(#c596)">
<path d="M96.00,214.50 C96.67,213.12 98.00,214.98 99.00,214.70 C100.00,214.42 100.87,213.33 102.00,212.80 C103.13,212.27 104.67,211.90 105.80,211.50 C106.93,211.10 107.78,210.40 108.80,210.40 C109.82,210.40 110.87,211.18 111.90,211.50 C112.93,211.82 113.98,212.35 115.00,212.30 C116.02,212.25 116.97,211.77 118.00,211.20 C119.03,210.63 120.20,209.40 121.20,208.90 C122.20,208.40 122.98,208.27 124.00,208.20 C125.02,208.13 126.37,208.23 127.30,208.50 C128.23,208.77 129.02,209.05 129.60,209.80 C130.18,210.55 130.70,211.80 130.80,213.00 C130.90,214.20 130.58,215.75 130.20,217.00 C129.82,218.25 129.20,219.50 128.50,220.50 C127.80,221.50 131.58,222.58 126.00,223.00 C120.42,223.42 100.00,224.42 95.00,223.00 C90.00,221.58 95.33,215.88 96.00,214.50Z" fill="#c4c4c4" stroke="#111" stroke-width="1.0"/><path d="M97.19,216.74 C97.81,215.74 99.05,217.09 99.98,216.88 C100.91,216.68 101.72,215.90 102.77,215.52 C103.82,215.13 105.25,214.87 106.30,214.58 C107.36,214.29 108.15,213.79 109.09,213.79 C110.04,213.79 111.02,214.35 111.98,214.58 C112.94,214.81 113.91,215.19 114.86,215.16 C115.81,215.12 116.69,214.77 117.65,214.36 C118.61,213.96 119.70,213.07 120.63,212.71 C121.56,212.35 122.28,212.25 123.23,212.20 C124.18,212.16 125.43,212.23 126.30,212.42 C127.17,212.61 127.90,212.82 128.44,213.36 C128.98,213.90 129.46,214.80 129.55,215.66 C129.65,216.52 129.35,217.64 129.00,218.54 C128.64,219.44 128.07,220.34 127.42,221.06 C126.76,221.78 130.28,222.56 125.09,222.86 C119.90,223.16 100.91,223.88 96.26,222.86 C91.61,221.84 96.57,217.74 97.19,216.74Z" fill="#a8a8a8" stroke="#2a2a2a" stroke-width="0.5"/><path d="M98.55,218.50 C99.12,217.81 100.25,218.74 101.10,218.60 C101.95,218.46 102.69,217.92 103.65,217.65 C104.61,217.38 105.92,217.20 106.88,217.00 C107.84,216.80 108.57,216.45 109.43,216.45 C110.29,216.45 111.19,216.84 112.06,217.00 C112.94,217.16 113.84,217.43 114.70,217.40 C115.56,217.38 116.37,217.13 117.25,216.85 C118.13,216.57 119.12,215.95 119.97,215.70 C120.82,215.45 121.49,215.38 122.35,215.35 C123.21,215.32 124.36,215.37 125.16,215.50 C125.95,215.63 126.61,215.78 127.11,216.15 C127.61,216.53 128.04,217.15 128.13,217.75 C128.22,218.35 127.95,219.12 127.62,219.75 C127.29,220.38 126.77,221.00 126.17,221.50 C125.58,222.00 128.80,222.54 124.05,222.75 C119.30,222.96 101.95,223.46 97.70,222.75 C93.45,222.04 97.98,219.19 98.55,218.50Z" fill="#8c8c8c" stroke="#2a2a2a" stroke-width="0.5"/><path d="M101.10,220.10 C101.57,219.69 102.50,220.25 103.20,220.16 C103.90,220.07 104.51,219.75 105.30,219.59 C106.09,219.43 107.17,219.32 107.96,219.20 C108.75,219.08 109.35,218.87 110.06,218.87 C110.77,218.87 111.51,219.10 112.23,219.20 C112.95,219.29 113.69,219.45 114.40,219.44 C115.11,219.43 115.78,219.28 116.50,219.11 C117.22,218.94 118.04,218.57 118.74,218.42 C119.44,218.27 119.99,218.23 120.70,218.21 C121.41,218.19 122.36,218.22 123.01,218.30 C123.66,218.38 124.21,218.47 124.62,218.69 C125.03,218.91 125.39,219.29 125.46,219.65 C125.53,220.01 125.31,220.47 125.04,220.85 C124.77,221.22 124.34,221.60 123.85,221.90 C123.36,222.20 126.01,222.53 122.10,222.65 C118.19,222.78 103.90,223.08 100.40,222.65 C96.90,222.22 100.63,220.51 101.10,220.10Z" fill="#707070" stroke="#2a2a2a" stroke-width="0.5"/>
</g>
<path d="M114.90,221.30 L114.90,202.00 L148.20,202.00" fill="none" stroke="#555" stroke-width="0.9"/>
<rect x="96.60" y="169.80" width="51.60" height="51.50" fill="none" stroke="#111" stroke-width="1.5"/>
<text x="146.00" y="217.30" font-size="5.2" fill="#222" text-anchor="end" font-weight="bold">75.2</text>
<line x1="96.60" y1="221.90" x2="96.60" y2="224.50" stroke="#111" stroke-width="0.8"/>
<line x1="100.48" y1="221.90" x2="100.48" y2="223.50" stroke="#111" stroke-width="0.8"/>
<line x1="102.75" y1="221.90" x2="102.75" y2="223.50" stroke="#111" stroke-width="0.8"/>
<line x1="104.37" y1="221.90" x2="104.37" y2="223.50" stroke="#111" stroke-width="0.8"/>
<line x1="105.62" y1="221.90" x2="105.62" y2="223.50" stroke="#111" stroke-width="0.8"/>
<line x1="106.64" y1="221.90" x2="106.64" y2="223.50" stroke="#111" stroke-width="0.8"/>
<line x1="107.50" y1="221.90" x2="107.50" y2="223.50" stroke="#111" stroke-width="0.8"/>
<line x1="108.25" y1="221.90" x2="108.25" y2="223.50" stroke="#111" stroke-width="0.8"/>
<line x1="108.91" y1="221.90" x2="108.91" y2="223.50" stroke="#111" stroke-width="0.8"/>
<line x1="109.50" y1="221.90" x2="109.50" y2="224.50" stroke="#111" stroke-width="0.8"/>
<line x1="113.38" y1="221.90" x2="113.38" y2="223.50" stroke="#111" stroke-width="0.8"/>
<line x1="115.65" y1="221.90" x2="115.65" y2="223.50" stroke="#111" stroke-width="0.8"/>
<line x1="117.27" y1="221.90" x2="117.27" y2="223.50" stroke="#111" stroke-width="0.8"/>
<line x1="118.52" y1="221.90" x2="118.52" y2="223.50" stroke="#111" stroke-width="0.8"/>
<line x1="119.54" y1="221.90" x2="119.54" y2="223.50" stroke="#111" stroke-width="0.8"/>
<line x1="120.40" y1="221.90" x2="120.40" y2="223.50" stroke="#111" stroke-width="0.8"/>
<line x1="121.15" y1="221.90" x2="121.15" y2="223.50" stroke="#111" stroke-width="0.8"/>
<line x1="121.81" y1="221.90" x2="121.81" y2="223.50" stroke="#111" stroke-width="0.8"/>
<line x1="122.40" y1="221.90" x2="122.40" y2="224.50" stroke="#111" stroke-width="0.8"/>
<line x1="126.28" y1="221.90" x2="126.28" y2="223.50" stroke="#111" stroke-width="0.8"/>
<line x1="128.55" y1="221.90" x2="128.55" y2="223.50" stroke="#111" stroke-width="0.8"/>
<line x1="130.17" y1="221.90" x2="130.17" y2="223.50" stroke="#111" stroke-width="0.8"/>
<line x1="131.42" y1="221.90" x2="131.42" y2="223.50" stroke="#111" stroke-width="0.8"/>
<line x1="132.44" y1="221.90" x2="132.44" y2="223.50" stroke="#111" stroke-width="0.8"/>
<line x1="133.30" y1="221.90" x2="133.30" y2="223.50" stroke="#111" stroke-width="0.8"/>
<line x1="134.05" y1="221.90" x2="134.05" y2="223.50" stroke="#111" stroke-width="0.8"/>
<line x1="134.71" y1="221.90" x2="134.71" y2="223.50" stroke="#111" stroke-width="0.8"/>
<line x1="135.30" y1="221.90" x2="135.30" y2="224.50" stroke="#111" stroke-width="0.8"/>
<line x1="139.18" y1="221.90" x2="139.18" y2="223.50" stroke="#111" stroke-width="0.8"/>
<line x1="141.45" y1="221.90" x2="141.45" y2="223.50" stroke="#111" stroke-width="0.8"/>
<line x1="143.07" y1="221.90" x2="143.07" y2="223.50" stroke="#111" stroke-width="0.8"/>
<line x1="144.32" y1="221.90" x2="144.32" y2="223.50" stroke="#111" stroke-width="0.8"/>
<line x1="145.34" y1="221.90" x2="145.34" y2="223.50" stroke="#111" stroke-width="0.8"/>
<line x1="146.20" y1="221.90" x2="146.20" y2="223.50" stroke="#111" stroke-width="0.8"/>
<line x1="146.95" y1="221.90" x2="146.95" y2="223.50" stroke="#111" stroke-width="0.8"/>
<line x1="147.61" y1="221.90" x2="147.61" y2="223.50" stroke="#111" stroke-width="0.8"/>
<line x1="148.20" y1="221.90" x2="148.20" y2="224.50" stroke="#111" stroke-width="0.8"/>
<line x1="93.40" y1="221.30" x2="96.00" y2="221.30" stroke="#111" stroke-width="0.9"/>
<line x1="95.00" y1="218.83" x2="96.00" y2="218.83" stroke="#111" stroke-width="0.7"/>
<line x1="95.00" y1="216.35" x2="96.00" y2="216.35" stroke="#111" stroke-width="0.7"/>
<line x1="95.00" y1="213.88" x2="96.00" y2="213.88" stroke="#111" stroke-width="0.7"/>
<line x1="93.40" y1="211.40" x2="96.00" y2="211.40" stroke="#111" stroke-width="0.9"/>
<line x1="95.00" y1="208.93" x2="96.00" y2="208.93" stroke="#111" stroke-width="0.7"/>
<line x1="95.00" y1="206.45" x2="96.00" y2="206.45" stroke="#111" stroke-width="0.7"/>
<line x1="95.00" y1="203.98" x2="96.00" y2="203.98" stroke="#111" stroke-width="0.7"/>
<line x1="93.40" y1="201.50" x2="96.00" y2="201.50" stroke="#111" stroke-width="0.9"/>
<line x1="95.00" y1="199.03" x2="96.00" y2="199.03" stroke="#111" stroke-width="0.7"/>
<line x1="95.00" y1="196.55" x2="96.00" y2="196.55" stroke="#111" stroke-width="0.7"/>
<line x1="95.00" y1="194.08" x2="96.00" y2="194.08" stroke="#111" stroke-width="0.7"/>
<line x1="93.40" y1="191.60" x2="96.00" y2="191.60" stroke="#111" stroke-width="0.9"/>
<line x1="95.00" y1="189.12" x2="96.00" y2="189.12" stroke="#111" stroke-width="0.7"/>
<line x1="95.00" y1="186.65" x2="96.00" y2="186.65" stroke="#111" stroke-width="0.7"/>
<line x1="95.00" y1="184.18" x2="96.00" y2="184.18" stroke="#111" stroke-width="0.7"/>
<line x1="93.40" y1="181.70" x2="96.00" y2="181.70" stroke="#111" stroke-width="0.9"/>
<line x1="95.00" y1="179.23" x2="96.00" y2="179.23" stroke="#111" stroke-width="0.7"/>
<line x1="95.00" y1="176.75" x2="96.00" y2="176.75" stroke="#111" stroke-width="0.7"/>
<line x1="95.00" y1="174.28" x2="96.00" y2="174.28" stroke="#111" stroke-width="0.7"/>
<line x1="93.40" y1="171.80" x2="96.00" y2="171.80" stroke="#111" stroke-width="0.9"/>
<clipPath id="c661"><rect x="155.0" y="169.8" width="51.19999999999999" height="51.5"/></clipPath>
<g clip-path="url(#c661)">
<path d="M154.00,215.00 C154.83,213.57 156.88,214.80 158.00,214.40 C159.12,214.00 159.67,212.98 160.70,212.60 C161.73,212.22 163.18,212.00 164.20,212.10 C165.22,212.20 165.90,212.83 166.80,213.20 C167.70,213.57 168.57,214.13 169.60,214.30 C170.63,214.47 171.92,214.53 173.00,214.20 C174.08,213.87 174.95,212.93 176.10,212.30 C177.25,211.67 178.87,210.88 179.90,210.40 C180.93,209.92 181.40,209.47 182.30,209.40 C183.20,209.33 184.42,209.52 185.30,210.00 C186.18,210.48 187.12,211.53 187.60,212.30 C188.08,213.07 188.40,213.72 188.20,214.60 C188.00,215.48 187.27,216.73 186.40,217.60 C185.53,218.47 184.40,218.90 183.00,219.80 C181.60,220.70 183.00,222.47 178.00,223.00 C173.00,223.53 157.00,224.33 153.00,223.00 C149.00,221.67 153.17,216.43 154.00,215.00Z" fill="#c4c4c4" stroke="#111" stroke-width="1.0"/><path d="M155.26,217.10 C156.03,216.07 157.94,216.96 158.98,216.67 C160.02,216.38 160.53,215.65 161.49,215.37 C162.45,215.10 163.80,214.94 164.75,215.01 C165.69,215.08 166.33,215.54 167.16,215.80 C168.00,216.07 168.81,216.48 169.77,216.60 C170.73,216.72 171.92,216.76 172.93,216.52 C173.94,216.28 174.74,215.61 175.81,215.16 C176.88,214.70 178.39,214.14 179.35,213.79 C180.31,213.44 180.74,213.12 181.58,213.07 C182.42,213.02 183.55,213.15 184.37,213.50 C185.19,213.85 186.06,214.60 186.51,215.16 C186.96,215.71 187.25,216.18 187.07,216.81 C186.88,217.45 186.20,218.35 185.39,218.97 C184.59,219.60 183.53,219.91 182.23,220.56 C180.93,221.20 182.23,222.48 177.58,222.86 C172.93,223.24 158.05,223.82 154.33,222.86 C150.61,221.90 154.48,218.13 155.26,217.10Z" fill="#a8a8a8" stroke="#2a2a2a" stroke-width="0.5"/><path d="M156.70,218.75 C157.41,218.03 159.15,218.65 160.10,218.45 C161.05,218.25 161.52,217.74 162.39,217.55 C163.27,217.36 164.51,217.25 165.37,217.30 C166.23,217.35 166.81,217.67 167.58,217.85 C168.35,218.03 169.08,218.32 169.96,218.40 C170.84,218.48 171.93,218.52 172.85,218.35 C173.77,218.18 174.51,217.72 175.48,217.40 C176.46,217.08 177.84,216.69 178.72,216.45 C179.59,216.21 179.99,215.98 180.75,215.95 C181.52,215.92 182.55,216.01 183.31,216.25 C184.06,216.49 184.85,217.02 185.26,217.40 C185.67,217.78 185.94,218.11 185.77,218.55 C185.60,218.99 184.98,219.62 184.24,220.05 C183.50,220.48 182.54,220.70 181.35,221.15 C180.16,221.60 181.35,222.48 177.10,222.75 C172.85,223.02 159.25,223.42 155.85,222.75 C152.45,222.08 155.99,219.47 156.70,218.75Z" fill="#8c8c8c" stroke="#2a2a2a" stroke-width="0.5"/><path d="M159.40,220.25 C159.98,219.82 161.42,220.19 162.20,220.07 C162.98,219.95 163.37,219.65 164.09,219.53 C164.81,219.41 165.83,219.35 166.54,219.38 C167.25,219.41 167.73,219.60 168.36,219.71 C168.99,219.82 169.60,219.99 170.32,220.04 C171.04,220.09 171.94,220.11 172.70,220.01 C173.46,219.91 174.06,219.63 174.87,219.44 C175.68,219.25 176.81,219.02 177.53,218.87 C178.25,218.72 178.58,218.59 179.21,218.57 C179.84,218.55 180.69,218.60 181.31,218.75 C181.93,218.90 182.58,219.21 182.92,219.44 C183.26,219.67 183.48,219.87 183.34,220.13 C183.20,220.39 182.69,220.77 182.08,221.03 C181.47,221.29 180.68,221.42 179.70,221.69 C178.72,221.96 179.70,222.49 176.20,222.65 C172.70,222.81 161.50,223.05 158.70,222.65 C155.90,222.25 158.82,220.68 159.40,220.25Z" fill="#707070" stroke="#2a2a2a" stroke-width="0.5"/>
</g>
<path d="M173.80,221.30 L173.80,202.00 L206.20,202.00" fill="none" stroke="#555" stroke-width="0.9"/>
<rect x="155.00" y="169.80" width="51.20" height="51.50" fill="none" stroke="#111" stroke-width="1.5"/>
<text x="204.00" y="217.30" font-size="5.2" fill="#222" text-anchor="end" font-weight="bold">86.0</text>
<line x1="155.00" y1="221.90" x2="155.00" y2="224.50" stroke="#111" stroke-width="0.8"/>
<line x1="158.85" y1="221.90" x2="158.85" y2="223.50" stroke="#111" stroke-width="0.8"/>
<line x1="161.11" y1="221.90" x2="161.11" y2="223.50" stroke="#111" stroke-width="0.8"/>
<line x1="162.71" y1="221.90" x2="162.71" y2="223.50" stroke="#111" stroke-width="0.8"/>
<line x1="163.95" y1="221.90" x2="163.95" y2="223.50" stroke="#111" stroke-width="0.8"/>
<line x1="164.96" y1="221.90" x2="164.96" y2="223.50" stroke="#111" stroke-width="0.8"/>
<line x1="165.82" y1="221.90" x2="165.82" y2="223.50" stroke="#111" stroke-width="0.8"/>
<line x1="166.56" y1="221.90" x2="166.56" y2="223.50" stroke="#111" stroke-width="0.8"/>
<line x1="167.21" y1="221.90" x2="167.21" y2="223.50" stroke="#111" stroke-width="0.8"/>
<line x1="167.80" y1="221.90" x2="167.80" y2="224.50" stroke="#111" stroke-width="0.8"/>
<line x1="171.65" y1="221.90" x2="171.65" y2="223.50" stroke="#111" stroke-width="0.8"/>
<line x1="173.91" y1="221.90" x2="173.91" y2="223.50" stroke="#111" stroke-width="0.8"/>
<line x1="175.51" y1="221.90" x2="175.51" y2="223.50" stroke="#111" stroke-width="0.8"/>
<line x1="176.75" y1="221.90" x2="176.75" y2="223.50" stroke="#111" stroke-width="0.8"/>
<line x1="177.76" y1="221.90" x2="177.76" y2="223.50" stroke="#111" stroke-width="0.8"/>
<line x1="178.62" y1="221.90" x2="178.62" y2="223.50" stroke="#111" stroke-width="0.8"/>
<line x1="179.36" y1="221.90" x2="179.36" y2="223.50" stroke="#111" stroke-width="0.8"/>
<line x1="180.01" y1="221.90" x2="180.01" y2="223.50" stroke="#111" stroke-width="0.8"/>
<line x1="180.60" y1="221.90" x2="180.60" y2="224.50" stroke="#111" stroke-width="0.8"/>
<line x1="184.45" y1="221.90" x2="184.45" y2="223.50" stroke="#111" stroke-width="0.8"/>
<line x1="186.71" y1="221.90" x2="186.71" y2="223.50" stroke="#111" stroke-width="0.8"/>
<line x1="188.31" y1="221.90" x2="188.31" y2="223.50" stroke="#111" stroke-width="0.8"/>
<line x1="189.55" y1="221.90" x2="189.55" y2="223.50" stroke="#111" stroke-width="0.8"/>
<line x1="190.56" y1="221.90" x2="190.56" y2="223.50" stroke="#111" stroke-width="0.8"/>
<line x1="191.42" y1="221.90" x2="191.42" y2="223.50" stroke="#111" stroke-width="0.8"/>
<line x1="192.16" y1="221.90" x2="192.16" y2="223.50" stroke="#111" stroke-width="0.8"/>
<line x1="192.81" y1="221.90" x2="192.81" y2="223.50" stroke="#111" stroke-width="0.8"/>
<line x1="193.40" y1="221.90" x2="193.40" y2="224.50" stroke="#111" stroke-width="0.8"/>
<line x1="197.25" y1="221.90" x2="197.25" y2="223.50" stroke="#111" stroke-width="0.8"/>
<line x1="199.51" y1="221.90" x2="199.51" y2="223.50" stroke="#111" stroke-width="0.8"/>
<line x1="201.11" y1="221.90" x2="201.11" y2="223.50" stroke="#111" stroke-width="0.8"/>
<line x1="202.35" y1="221.90" x2="202.35" y2="223.50" stroke="#111" stroke-width="0.8"/>
<line x1="203.36" y1="221.90" x2="203.36" y2="223.50" stroke="#111" stroke-width="0.8"/>
<line x1="204.22" y1="221.90" x2="204.22" y2="223.50" stroke="#111" stroke-width="0.8"/>
<line x1="204.96" y1="221.90" x2="204.96" y2="223.50" stroke="#111" stroke-width="0.8"/>
<line x1="205.61" y1="221.90" x2="205.61" y2="223.50" stroke="#111" stroke-width="0.8"/>
<line x1="206.20" y1="221.90" x2="206.20" y2="224.50" stroke="#111" stroke-width="0.8"/>
<line x1="151.80" y1="221.30" x2="154.40" y2="221.30" stroke="#111" stroke-width="0.9"/>
<line x1="153.40" y1="218.83" x2="154.40" y2="218.83" stroke="#111" stroke-width="0.7"/>
<line x1="153.40" y1="216.35" x2="154.40" y2="216.35" stroke="#111" stroke-width="0.7"/>
<line x1="153.40" y1="213.88" x2="154.40" y2="213.88" stroke="#111" stroke-width="0.7"/>
<line x1="151.80" y1="211.40" x2="154.40" y2="211.40" stroke="#111" stroke-width="0.9"/>
<line x1="153.40" y1="208.93" x2="154.40" y2="208.93" stroke="#111" stroke-width="0.7"/>
<line x1="153.40" y1="206.45" x2="154.40" y2="206.45" stroke="#111" stroke-width="0.7"/>
<line x1="153.40" y1="203.98" x2="154.40" y2="203.98" stroke="#111" stroke-width="0.7"/>
<line x1="151.80" y1="201.50" x2="154.40" y2="201.50" stroke="#111" stroke-width="0.9"/>
<line x1="153.40" y1="199.03" x2="154.40" y2="199.03" stroke="#111" stroke-width="0.7"/>
<line x1="153.40" y1="196.55" x2="154.40" y2="196.55" stroke="#111" stroke-width="0.7"/>
<line x1="153.40" y1="194.08" x2="154.40" y2="194.08" stroke="#111" stroke-width="0.7"/>
<line x1="151.80" y1="191.60" x2="154.40" y2="191.60" stroke="#111" stroke-width="0.9"/>
<line x1="153.40" y1="189.12" x2="154.40" y2="189.12" stroke="#111" stroke-width="0.7"/>
<line x1="153.40" y1="186.65" x2="154.40" y2="186.65" stroke="#111" stroke-width="0.7"/>
<line x1="153.40" y1="184.18" x2="154.40" y2="184.18" stroke="#111" stroke-width="0.7"/>
<line x1="151.80" y1="181.70" x2="154.40" y2="181.70" stroke="#111" stroke-width="0.9"/>
<line x1="153.40" y1="179.23" x2="154.40" y2="179.23" stroke="#111" stroke-width="0.7"/>
<line x1="153.40" y1="176.75" x2="154.40" y2="176.75" stroke="#111" stroke-width="0.7"/>
<line x1="153.40" y1="174.28" x2="154.40" y2="174.28" stroke="#111" stroke-width="0.7"/>
<line x1="151.80" y1="171.80" x2="154.40" y2="171.80" stroke="#111" stroke-width="0.9"/>
<clipPath id="c726"><rect x="213.2" y="169.8" width="51.400000000000034" height="51.5"/></clipPath>
<g clip-path="url(#c726)">
<path d="M212.00,216.40 C212.95,214.95 215.27,215.12 216.70,214.30 C218.13,213.48 219.15,212.32 220.60,211.50 C222.05,210.68 224.17,209.32 225.40,209.40 C226.63,209.48 227.12,211.17 228.00,212.00 C228.88,212.83 229.90,214.25 230.70,214.40 C231.50,214.55 231.82,213.55 232.80,212.90 C233.78,212.25 235.27,211.17 236.60,210.50 C237.93,209.83 239.47,209.48 240.80,208.90 C242.13,208.32 243.47,207.42 244.60,207.00 C245.73,206.58 246.62,206.30 247.60,206.40 C248.58,206.50 249.70,206.92 250.50,207.60 C251.30,208.28 252.25,209.43 252.40,210.50 C252.55,211.57 252.27,212.82 251.40,214.00 C250.53,215.18 248.93,216.63 247.20,217.60 C245.47,218.57 243.20,218.90 241.00,219.80 C238.80,220.70 239.00,222.47 234.00,223.00 C229.00,223.53 214.67,224.10 211.00,223.00 C207.33,221.90 211.05,217.85 212.00,216.40Z" fill="#c4c4c4" stroke="#111" stroke-width="1.0"/><path d="M213.68,218.11 C214.56,217.06 216.72,217.18 218.05,216.60 C219.38,216.01 220.33,215.17 221.68,214.58 C223.03,213.99 225.00,213.01 226.14,213.07 C227.29,213.13 227.74,214.34 228.56,214.94 C229.38,215.54 230.33,216.56 231.07,216.67 C231.81,216.78 232.11,216.06 233.02,215.59 C233.94,215.12 235.32,214.34 236.56,213.86 C237.80,213.38 239.22,213.13 240.46,212.71 C241.70,212.29 242.94,211.64 244.00,211.34 C245.05,211.04 245.87,210.84 246.79,210.91 C247.70,210.98 248.74,211.28 249.49,211.77 C250.23,212.26 251.11,213.09 251.25,213.86 C251.39,214.63 251.13,215.53 250.32,216.38 C249.52,217.23 248.03,218.28 246.42,218.97 C244.80,219.67 242.70,219.91 240.65,220.56 C238.60,221.20 238.79,222.48 234.14,222.86 C229.49,223.24 216.16,223.65 212.75,222.86 C209.34,222.07 212.80,219.15 213.68,218.11Z" fill="#a8a8a8" stroke="#2a2a2a" stroke-width="0.5"/><path d="M215.60,219.45 C216.41,218.72 218.38,218.81 219.59,218.40 C220.81,217.99 221.68,217.41 222.91,217.00 C224.14,216.59 225.94,215.91 226.99,215.95 C228.04,215.99 228.45,216.83 229.20,217.25 C229.95,217.67 230.81,218.38 231.50,218.45 C232.18,218.52 232.44,218.02 233.28,217.70 C234.12,217.38 235.38,216.83 236.51,216.50 C237.64,216.17 238.95,215.99 240.08,215.70 C241.21,215.41 242.35,214.96 243.31,214.75 C244.27,214.54 245.02,214.40 245.86,214.45 C246.70,214.50 247.64,214.71 248.32,215.05 C249.00,215.39 249.81,215.97 249.94,216.50 C250.07,217.03 249.83,217.66 249.09,218.25 C248.35,218.84 246.99,219.57 245.52,220.05 C244.05,220.53 242.12,220.70 240.25,221.15 C238.38,221.60 238.55,222.48 234.30,222.75 C230.05,223.02 217.87,223.30 214.75,222.75 C211.63,222.20 214.79,220.17 215.60,219.45Z" fill="#8c8c8c" stroke="#2a2a2a" stroke-width="0.5"/><path d="M219.20,220.67 C219.86,220.24 221.49,220.28 222.49,220.04 C223.49,219.79 224.20,219.44 225.22,219.20 C226.24,218.95 227.72,218.54 228.58,218.57 C229.44,218.59 229.78,219.10 230.40,219.35 C231.02,219.60 231.73,220.02 232.29,220.07 C232.85,220.12 233.07,219.81 233.76,219.62 C234.45,219.43 235.49,219.10 236.42,218.90 C237.35,218.70 238.43,218.60 239.36,218.42 C240.29,218.25 241.23,217.97 242.02,217.85 C242.81,217.72 243.43,217.64 244.12,217.67 C244.81,217.70 245.59,217.82 246.15,218.03 C246.71,218.24 247.38,218.58 247.48,218.90 C247.59,219.22 247.39,219.59 246.78,219.95 C246.17,220.30 245.05,220.74 243.84,221.03 C242.63,221.32 241.04,221.42 239.50,221.69 C237.96,221.96 238.10,222.49 234.60,222.65 C231.10,222.81 221.07,222.98 218.50,222.65 C215.93,222.32 218.53,221.11 219.20,220.67Z" fill="#707070" stroke="#2a2a2a" stroke-width="0.5"/>
</g>
<path d="M232.00,221.30 L232.00,202.00 L264.60,202.00" fill="none" stroke="#555" stroke-width="0.9"/>
<rect x="213.20" y="169.80" width="51.40" height="51.50" fill="none" stroke="#111" stroke-width="1.5"/>
<text x="262.40" y="217.30" font-size="5.2" fill="#222" text-anchor="end" font-weight="bold">91.8</text>
<line x1="213.20" y1="221.90" x2="213.20" y2="224.50" stroke="#111" stroke-width="0.8"/>
<line x1="217.07" y1="221.90" x2="217.07" y2="223.50" stroke="#111" stroke-width="0.8"/>
<line x1="219.33" y1="221.90" x2="219.33" y2="223.50" stroke="#111" stroke-width="0.8"/>
<line x1="220.94" y1="221.90" x2="220.94" y2="223.50" stroke="#111" stroke-width="0.8"/>
<line x1="222.18" y1="221.90" x2="222.18" y2="223.50" stroke="#111" stroke-width="0.8"/>
<line x1="223.20" y1="221.90" x2="223.20" y2="223.50" stroke="#111" stroke-width="0.8"/>
<line x1="224.06" y1="221.90" x2="224.06" y2="223.50" stroke="#111" stroke-width="0.8"/>
<line x1="224.80" y1="221.90" x2="224.80" y2="223.50" stroke="#111" stroke-width="0.8"/>
<line x1="225.46" y1="221.90" x2="225.46" y2="223.50" stroke="#111" stroke-width="0.8"/>
<line x1="226.05" y1="221.90" x2="226.05" y2="224.50" stroke="#111" stroke-width="0.8"/>
<line x1="229.92" y1="221.90" x2="229.92" y2="223.50" stroke="#111" stroke-width="0.8"/>
<line x1="232.18" y1="221.90" x2="232.18" y2="223.50" stroke="#111" stroke-width="0.8"/>
<line x1="233.79" y1="221.90" x2="233.79" y2="223.50" stroke="#111" stroke-width="0.8"/>
<line x1="235.03" y1="221.90" x2="235.03" y2="223.50" stroke="#111" stroke-width="0.8"/>
<line x1="236.05" y1="221.90" x2="236.05" y2="223.50" stroke="#111" stroke-width="0.8"/>
<line x1="236.91" y1="221.90" x2="236.91" y2="223.50" stroke="#111" stroke-width="0.8"/>
<line x1="237.65" y1="221.90" x2="237.65" y2="223.50" stroke="#111" stroke-width="0.8"/>
<line x1="238.31" y1="221.90" x2="238.31" y2="223.50" stroke="#111" stroke-width="0.8"/>
<line x1="238.90" y1="221.90" x2="238.90" y2="224.50" stroke="#111" stroke-width="0.8"/>
<line x1="242.77" y1="221.90" x2="242.77" y2="223.50" stroke="#111" stroke-width="0.8"/>
<line x1="245.03" y1="221.90" x2="245.03" y2="223.50" stroke="#111" stroke-width="0.8"/>
<line x1="246.64" y1="221.90" x2="246.64" y2="223.50" stroke="#111" stroke-width="0.8"/>
<line x1="247.88" y1="221.90" x2="247.88" y2="223.50" stroke="#111" stroke-width="0.8"/>
<line x1="248.90" y1="221.90" x2="248.90" y2="223.50" stroke="#111" stroke-width="0.8"/>
<line x1="249.76" y1="221.90" x2="249.76" y2="223.50" stroke="#111" stroke-width="0.8"/>
<line x1="250.50" y1="221.90" x2="250.50" y2="223.50" stroke="#111" stroke-width="0.8"/>
<line x1="251.16" y1="221.90" x2="251.16" y2="223.50" stroke="#111" stroke-width="0.8"/>
<line x1="251.75" y1="221.90" x2="251.75" y2="224.50" stroke="#111" stroke-width="0.8"/>
<line x1="255.62" y1="221.90" x2="255.62" y2="223.50" stroke="#111" stroke-width="0.8"/>
<line x1="257.88" y1="221.90" x2="257.88" y2="223.50" stroke="#111" stroke-width="0.8"/>
<line x1="259.49" y1="221.90" x2="259.49" y2="223.50" stroke="#111" stroke-width="0.8"/>
<line x1="260.73" y1="221.90" x2="260.73" y2="223.50" stroke="#111" stroke-width="0.8"/>
<line x1="261.75" y1="221.90" x2="261.75" y2="223.50" stroke="#111" stroke-width="0.8"/>
<line x1="262.61" y1="221.90" x2="262.61" y2="223.50" stroke="#111" stroke-width="0.8"/>
<line x1="263.35" y1="221.90" x2="263.35" y2="223.50" stroke="#111" stroke-width="0.8"/>
<line x1="264.01" y1="221.90" x2="264.01" y2="223.50" stroke="#111" stroke-width="0.8"/>
<line x1="264.60" y1="221.90" x2="264.60" y2="224.50" stroke="#111" stroke-width="0.8"/>
<line x1="210.00" y1="221.30" x2="212.60" y2="221.30" stroke="#111" stroke-width="0.9"/>
<line x1="211.60" y1="218.83" x2="212.60" y2="218.83" stroke="#111" stroke-width="0.7"/>
<line x1="211.60" y1="216.35" x2="212.60" y2="216.35" stroke="#111" stroke-width="0.7"/>
<line x1="211.60" y1="213.88" x2="212.60" y2="213.88" stroke="#111" stroke-width="0.7"/>
<line x1="210.00" y1="211.40" x2="212.60" y2="211.40" stroke="#111" stroke-width="0.9"/>
<line x1="211.60" y1="208.93" x2="212.60" y2="208.93" stroke="#111" stroke-width="0.7"/>
<line x1="211.60" y1="206.45" x2="212.60" y2="206.45" stroke="#111" stroke-width="0.7"/>
<line x1="211.60" y1="203.98" x2="212.60" y2="203.98" stroke="#111" stroke-width="0.7"/>
<line x1="210.00" y1="201.50" x2="212.60" y2="201.50" stroke="#111" stroke-width="0.9"/>
<line x1="211.60" y1="199.03" x2="212.60" y2="199.03" stroke="#111" stroke-width="0.7"/>
<line x1="211.60" y1="196.55" x2="212.60" y2="196.55" stroke="#111" stroke-width="0.7"/>
<line x1="211.60" y1="194.08" x2="212.60" y2="194.08" stroke="#111" stroke-width="0.7"/>
<line x1="210.00" y1="191.60" x2="212.60" y2="191.60" stroke="#111" stroke-width="0.9"/>
<line x1="211.60" y1="189.12" x2="212.60" y2="189.12" stroke="#111" stroke-width="0.7"/>
<line x1="211.60" y1="186.65" x2="212.60" y2="186.65" stroke="#111" stroke-width="0.7"/>
<line x1="211.60" y1="184.18" x2="212.60" y2="184.18" stroke="#111" stroke-width="0.7"/>
<line x1="210.00" y1="181.70" x2="212.60" y2="181.70" stroke="#111" stroke-width="0.9"/>
<line x1="211.60" y1="179.23" x2="212.60" y2="179.23" stroke="#111" stroke-width="0.7"/>
<line x1="211.60" y1="176.75" x2="212.60" y2="176.75" stroke="#111" stroke-width="0.7"/>
<line x1="211.60" y1="174.28" x2="212.60" y2="174.28" stroke="#111" stroke-width="0.7"/>
<line x1="210.00" y1="171.80" x2="212.60" y2="171.80" stroke="#111" stroke-width="0.9"/>
<text x="32.80" y="222.90" font-size="5.9" fill="#333" stroke="#333" stroke-width="0.18" text-anchor="end" textLength="3.6" lengthAdjust="spacingAndGlyphs">0</text>
<text x="32.80" y="212.88" font-size="5.9" fill="#333" stroke="#333" stroke-width="0.18" text-anchor="end" textLength="10.6" lengthAdjust="spacingAndGlyphs">200</text>
<text x="32.80" y="202.86" font-size="5.9" fill="#333" stroke="#333" stroke-width="0.18" text-anchor="end" textLength="10.6" lengthAdjust="spacingAndGlyphs">400</text>
<text x="32.80" y="192.84" font-size="5.9" fill="#333" stroke="#333" stroke-width="0.18" text-anchor="end" textLength="10.6" lengthAdjust="spacingAndGlyphs">600</text>
<text x="32.80" y="182.82" font-size="5.9" fill="#333" stroke="#333" stroke-width="0.18" text-anchor="end" textLength="10.6" lengthAdjust="spacingAndGlyphs">800</text>
<text x="32.80" y="172.80" font-size="5.9" fill="#333" stroke="#333" stroke-width="0.18" text-anchor="end" textLength="12.4" lengthAdjust="spacingAndGlyphs">1,0K</text>
<text x="35.00" y="232.60" font-size="6.0" fill="#333" stroke="#333" stroke-width="0.18" textLength="5.8" lengthAdjust="spacingAndGlyphs">10</text>
<text x="40.40" y="229.40" font-size="3.8" fill="#333" stroke="#333" stroke-width="0.18">0</text>
<text x="60.50" y="232.60" font-size="6.0" fill="#333" stroke="#333" stroke-width="0.18" textLength="5.8" lengthAdjust="spacingAndGlyphs">10</text>
<text x="65.90" y="229.40" font-size="3.8" fill="#333" stroke="#333" stroke-width="0.18">2</text>
<text x="85.90" y="232.60" font-size="6.0" fill="#333" stroke="#333" stroke-width="0.18" textLength="5.8" lengthAdjust="spacingAndGlyphs">10</text>
<text x="91.30" y="229.40" font-size="3.8" fill="#333" stroke="#333" stroke-width="0.18">4</text>
<line x1="11.80" y1="212.00" x2="11.80" y2="37.60" stroke="#111" stroke-width="1.5"/>
<path d="M11.80,30.40 L8.50,38.60 L11.80,37.60 L15.10,38.60 Z" fill="#111"/>
<text x="15.20" y="230.00" font-size="9.6" fill="#333" stroke="#333" stroke-width="0.18" textLength="11.6" lengthAdjust="spacingAndGlyphs" transform="rotate(-90 15.20 230.00)">SSC</text>
<text x="30.80" y="244.90" font-size="7.6" fill="#333" stroke="#333" stroke-width="0.18" textLength="17.4" lengthAdjust="spacingAndGlyphs">tdRFP</text>
<line x1="50.80" y1="242.30" x2="259.80" y2="242.30" stroke="#111" stroke-width="1.55"/>
<path d="M267.00,242.30 L258.80,239.00 L259.80,242.30 L258.80,245.60 Z" fill="#111"/>
<text x="268.00" y="37.60" font-size="6.6" fill="#8c2a55" stroke="#8c2a55" stroke-width="0.18" textLength="46.4" lengthAdjust="spacingAndGlyphs">CD19-CreER<tspan dy="-2.6" font-size="4.0">T2</tspan><tspan dy="2.6"> x</tspan></text>
<text x="268.00" y="44.70" font-size="6.6" fill="#8c2a55" stroke="#8c2a55" stroke-width="0.18" textLength="31.8" lengthAdjust="spacingAndGlyphs">Rosa-tdRFP</text>
<text x="268.00" y="57.60" font-size="6.6" fill="#8c2a55" stroke="#8c2a55" stroke-width="0.18" textLength="28.6" lengthAdjust="spacingAndGlyphs">untreated</text>
<text x="268.30" y="116.90" font-size="6.9" fill="#8c2a55" stroke="#8c2a55" stroke-width="0.18" font-style="italic" textLength="33.4" lengthAdjust="spacingAndGlyphs">+<tspan dx="0.6">Tamoxifen</tspan></text>
<text x="267.80" y="175.40" font-size="6.6" fill="#3d5289" stroke="#3d5289" stroke-width="0.18" textLength="33.8" lengthAdjust="spacingAndGlyphs">CD19-Cre x</text>
<text x="267.80" y="182.80" font-size="6.6" fill="#3d5289" stroke="#3d5289" stroke-width="0.18" textLength="33.8" lengthAdjust="spacingAndGlyphs">Rosa-tdRFP</text>
<text x="334.60" y="16.90" font-size="11.4" fill="#111" font-weight="bold">D</text>
<line x1="370.20" y1="41.10" x2="379.00" y2="41.10" stroke="#9a1f4f" stroke-width="1.5"/>
<ellipse cx="374.4" cy="41.1" rx="2.1" ry="1.6" fill="#fff" stroke="#9a1f4f" stroke-width="1.1"/>
<text x="381.40" y="43.00" font-size="5.3" fill="#9a1f4f" stroke="#9a1f4f" stroke-width="0.18">CD19-CreER<tspan dy="-1.8" font-size="3.2">T2</tspan><tspan dy="1.8"> x LoxP-Tag (0/6)</tspan></text>
<line x1="370.20" y1="50.70" x2="379.00" y2="50.70" stroke="#22397a" stroke-width="1.5"/>
<ellipse cx="374.4" cy="50.7" rx="2.1" ry="1.6" fill="#fff" stroke="#22397a" stroke-width="1.1"/>
<text x="381.40" y="52.60" font-size="5.3" fill="#2d3f78" stroke="#2d3f78" stroke-width="0.18">CD19-Cre x LoxP-Tag (9/9)</text>
<line x1="370.20" y1="60.60" x2="379.00" y2="60.60" stroke="#6aad3c" stroke-width="1.5"/>
<ellipse cx="374.4" cy="60.6" rx="2.1" ry="1.6" fill="#7aa050" stroke="#6aad3c" stroke-width="1.1"/>
<text x="381.40" y="62.50" font-size="5.3" fill="#6a9a40" stroke="#6a9a40" stroke-width="0.18"><tspan font-style="italic">Rag</tspan><tspan dy="-1.8" font-size="3.2">-/-</tspan><tspan dy="1.8"> (5/5)</tspan></text>
<line x1="366.80" y1="78.80" x2="366.80" y2="177.80" stroke="#111" stroke-width="1.2"/>
<line x1="366.20" y1="175.20" x2="470.00" y2="175.20" stroke="#111" stroke-width="1.2"/>
<line x1="363.80" y1="175.20" x2="366.80" y2="175.20" stroke="#111" stroke-width="1.0"/>
<text x="360.70" y="177.75" font-size="7.0" fill="#333" stroke="#333" stroke-width="0.18" text-anchor="end" textLength="3.4" lengthAdjust="spacingAndGlyphs">0</text>
<line x1="363.80" y1="160.37" x2="366.80" y2="160.37" stroke="#111" stroke-width="1.0"/>
<text x="360.70" y="162.92" font-size="7.0" fill="#333" stroke="#333" stroke-width="0.18" text-anchor="end" textLength="10.2" lengthAdjust="spacingAndGlyphs">100</text>
<line x1="363.80" y1="145.54" x2="366.80" y2="145.54" stroke="#111" stroke-width="1.0"/>
<text x="360.70" y="148.09" font-size="7.0" fill="#333" stroke="#333" stroke-width="0.18" text-anchor="end" textLength="10.2" lengthAdjust="spacingAndGlyphs">200</text>
<line x1="363.80" y1="130.71" x2="366.80" y2="130.71" stroke="#111" stroke-width="1.0"/>
<text x="360.70" y="133.26" font-size="7.0" fill="#333" stroke="#333" stroke-width="0.18" text-anchor="end" textLength="10.2" lengthAdjust="spacingAndGlyphs">300</text>
<line x1="363.80" y1="115.88" x2="366.80" y2="115.88" stroke="#111" stroke-width="1.0"/>
<text x="360.70" y="118.43" font-size="7.0" fill="#333" stroke="#333" stroke-width="0.18" text-anchor="end" textLength="10.2" lengthAdjust="spacingAndGlyphs">400</text>
<line x1="363.80" y1="101.05" x2="366.80" y2="101.05" stroke="#111" stroke-width="1.0"/>
<text x="360.70" y="103.60" font-size="7.0" fill="#333" stroke="#333" stroke-width="0.18" text-anchor="end" textLength="10.2" lengthAdjust="spacingAndGlyphs">500</text>
<line x1="363.80" y1="86.22" x2="366.80" y2="86.22" stroke="#111" stroke-width="1.0"/>
<text x="360.70" y="88.77" font-size="7.0" fill="#333" stroke="#333" stroke-width="0.18" text-anchor="end" textLength="10.2" lengthAdjust="spacingAndGlyphs">600</text>
<line x1="367.00" y1="175.20" x2="367.00" y2="177.40" stroke="#111" stroke-width="1.0"/>
<text x="367.00" y="187.00" font-size="7.0" fill="#333" stroke="#333" stroke-width="0.18" text-anchor="middle" textLength="3.3" lengthAdjust="spacingAndGlyphs">0</text>
<line x1="391.90" y1="175.20" x2="391.90" y2="177.40" stroke="#111" stroke-width="1.0"/>
<text x="391.90" y="187.00" font-size="7.0" fill="#333" stroke="#333" stroke-width="0.18" text-anchor="middle" textLength="6.6" lengthAdjust="spacingAndGlyphs">25</text>
<line x1="416.80" y1="175.20" x2="416.80" y2="177.40" stroke="#111" stroke-width="1.0"/>
<text x="416.80" y="187.00" font-size="7.0" fill="#333" stroke="#333" stroke-width="0.18" text-anchor="middle" textLength="6.6" lengthAdjust="spacingAndGlyphs">50</text>
<line x1="441.70" y1="175.20" x2="441.70" y2="177.40" stroke="#111" stroke-width="1.0"/>
<text x="441.70" y="187.00" font-size="7.0" fill="#333" stroke="#333" stroke-width="0.18" text-anchor="middle" textLength="6.6" lengthAdjust="spacingAndGlyphs">75</text>
<line x1="466.60" y1="175.20" x2="466.60" y2="177.40" stroke="#111" stroke-width="1.0"/>
<text x="466.60" y="187.00" font-size="7.0" fill="#333" stroke="#333" stroke-width="0.18" text-anchor="middle" textLength="9.899999999999999" lengthAdjust="spacingAndGlyphs">100</text>
<text x="360.60" y="198.80" font-size="8.8" fill="#333" stroke="#333" stroke-width="0.18" textLength="117" lengthAdjust="spacingAndGlyphs">Time after tumor cell inoculation [days]</text>
<text x="345.30" y="158.90" font-size="8.8" fill="#333" stroke="#333" stroke-width="0.18" textLength="63.6" lengthAdjust="spacingAndGlyphs" transform="rotate(-90 345.30 158.90)">Tumor volume [mm<tspan dy="-3" font-size="4.5">3</tspan><tspan dy="3">]</tspan></text>
<path d="M388.00,175.20 C389.17,174.97 392.83,174.92 395.00,173.80 C397.17,172.68 399.08,170.92 401.00,168.50 C402.92,166.08 404.67,162.55 406.50,159.30 C408.33,156.05 410.12,152.82 412.00,149.00 C413.88,145.18 415.67,144.05 417.80,136.40 C419.93,128.75 423.63,108.65 424.80,103.10" fill="none" stroke="#6aad3c" stroke-width="1.6" stroke-linejoin="round"/>
<path d="M388.00,175.20 C389.17,175.07 392.83,175.18 395.00,174.40 C397.17,173.62 399.08,172.23 401.00,170.50 C402.92,168.77 404.67,166.50 406.50,164.00 C408.33,161.50 410.12,158.58 412.00,155.50 C413.88,152.42 415.67,151.30 417.80,145.50 C419.93,139.70 423.63,124.83 424.80,120.70" fill="none" stroke="#6aad3c" stroke-width="1.6" stroke-linejoin="round"/>
<path d="M388.00,175.20 C389.17,175.13 392.83,175.25 395.00,174.80 C397.17,174.35 399.08,173.63 401.00,172.50 C402.92,171.37 404.67,169.58 406.50,168.00 C408.33,166.42 410.12,164.75 412.00,163.00 C413.88,161.25 415.67,161.75 417.80,157.50 C419.93,153.25 422.67,141.25 424.80,137.50 C426.93,133.75 427.80,140.83 430.60,135.00 C433.40,129.17 439.77,107.92 441.60,102.50" fill="none" stroke="#6aad3c" stroke-width="1.6" stroke-linejoin="round"/>
<path d="M395.00,175.20 C396.00,174.92 399.08,174.37 401.00,173.50 C402.92,172.63 404.67,171.42 406.50,170.00 C408.33,168.58 410.12,166.53 412.00,165.00 C413.88,163.47 415.67,164.23 417.80,160.80 C419.93,157.37 422.67,147.35 424.80,144.40 C426.93,141.45 427.80,148.83 430.60,143.10 C433.40,137.37 439.77,115.52 441.60,110.00" fill="none" stroke="#6aad3c" stroke-width="1.6" stroke-linejoin="round"/>
<path d="M395.00,175.20 C396.00,175.03 399.08,174.82 401.00,174.20 C402.92,173.58 404.67,172.62 406.50,171.50 C408.33,170.38 410.12,169.08 412.00,167.50 C413.88,165.92 415.67,166.42 417.80,162.00 C419.93,157.58 422.67,144.83 424.80,141.00 C426.93,137.17 427.80,144.83 430.60,139.00 C433.40,133.17 439.77,111.50 441.60,106.00" fill="none" stroke="#6aad3c" stroke-width="1.6" stroke-linejoin="round"/>
<path d="M401.00,175.20 C401.64,175.06 404.54,174.89 406.50,174.00 C408.46,173.11 415.67,168.98 417.80,167.60 C419.94,166.22 423.31,164.16 424.80,162.20 C426.29,160.24 428.64,154.98 430.60,150.80 C432.56,146.62 439.40,134.68 441.60,126.40 C443.81,118.12 448.58,85.24 449.50,79.80" fill="none" stroke="#22397a" stroke-width="1.5" stroke-linejoin="round"/>
<path d="M406.50,175.20 C407.82,174.83 415.67,172.77 417.80,172.00 C419.94,171.23 423.31,169.07 424.80,168.60 C426.29,168.13 428.64,169.40 430.60,168.00 C432.56,166.60 439.40,160.12 441.60,156.60 C443.81,153.08 447.52,142.11 449.50,137.80 C451.48,133.50 457.54,121.81 458.60,119.70" fill="none" stroke="#22397a" stroke-width="1.5" stroke-linejoin="round"/>
<path d="M417.80,175.20 C418.62,175.06 423.31,174.43 424.80,174.00 C426.29,173.57 428.64,172.66 430.60,171.50 C432.56,170.34 439.40,166.83 441.60,164.10 C443.81,161.37 447.52,151.76 449.50,148.10 C451.48,144.44 457.54,134.50 458.60,132.70" fill="none" stroke="#22397a" stroke-width="1.5" stroke-linejoin="round"/>
<path d="M424.80,175.20 C425.48,175.06 428.64,174.78 430.60,174.00 C432.56,173.22 439.40,170.93 441.60,168.50 C443.81,166.07 447.52,157.27 449.50,153.20 C451.48,149.13 457.54,135.89 458.60,133.60" fill="none" stroke="#22397a" stroke-width="1.5" stroke-linejoin="round"/>
<path d="M430.60,175.20 C431.88,175.13 439.40,175.07 441.60,174.60 C443.81,174.13 447.52,172.27 449.50,171.20 C451.48,170.13 457.54,166.08 458.60,165.40" fill="none" stroke="#22397a" stroke-width="1.5" stroke-linejoin="round"/>
<path d="M441.60,175.20 C442.52,175.15 447.52,175.14 449.50,174.80 C451.48,174.46 457.54,172.59 458.60,172.30" fill="none" stroke="#22397a" stroke-width="1.5" stroke-linejoin="round"/>
<circle cx="406.50" cy="159.30" r="1.3" fill="#f4f8ee" stroke="#8aa070" stroke-width="0.75"/>
<circle cx="417.80" cy="136.40" r="1.3" fill="#f4f8ee" stroke="#8aa070" stroke-width="0.75"/>
<circle cx="424.80" cy="103.10" r="1.3" fill="#f4f8ee" stroke="#8aa070" stroke-width="0.75"/>
<circle cx="406.50" cy="164.00" r="1.3" fill="#f4f8ee" stroke="#8aa070" stroke-width="0.75"/>
<circle cx="417.80" cy="145.50" r="1.3" fill="#f4f8ee" stroke="#8aa070" stroke-width="0.75"/>
<circle cx="424.80" cy="120.70" r="1.3" fill="#f4f8ee" stroke="#8aa070" stroke-width="0.75"/>
<circle cx="406.50" cy="168.00" r="1.3" fill="#f4f8ee" stroke="#8aa070" stroke-width="0.75"/>
<circle cx="417.80" cy="157.50" r="1.3" fill="#f4f8ee" stroke="#8aa070" stroke-width="0.75"/>
<circle cx="424.80" cy="137.50" r="1.3" fill="#f4f8ee" stroke="#8aa070" stroke-width="0.75"/>
<circle cx="430.60" cy="135.00" r="1.3" fill="#f4f8ee" stroke="#8aa070" stroke-width="0.75"/>
<circle cx="441.60" cy="102.50" r="1.3" fill="#f4f8ee" stroke="#8aa070" stroke-width="0.75"/>
<circle cx="406.50" cy="170.00" r="1.3" fill="#f4f8ee" stroke="#8aa070" stroke-width="0.75"/>
<circle cx="417.80" cy="160.80" r="1.3" fill="#f4f8ee" stroke="#8aa070" stroke-width="0.75"/>
<circle cx="424.80" cy="144.40" r="1.3" fill="#f4f8ee" stroke="#8aa070" stroke-width="0.75"/>
<circle cx="430.60" cy="143.10" r="1.3" fill="#f4f8ee" stroke="#8aa070" stroke-width="0.75"/>
<circle cx="441.60" cy="110.00" r="1.3" fill="#f4f8ee" stroke="#8aa070" stroke-width="0.75"/>
<circle cx="406.50" cy="171.50" r="1.3" fill="#f4f8ee" stroke="#8aa070" stroke-width="0.75"/>
<circle cx="417.80" cy="162.00" r="1.3" fill="#f4f8ee" stroke="#8aa070" stroke-width="0.75"/>
<circle cx="424.80" cy="141.00" r="1.3" fill="#f4f8ee" stroke="#8aa070" stroke-width="0.75"/>
<circle cx="430.60" cy="139.00" r="1.3" fill="#f4f8ee" stroke="#8aa070" stroke-width="0.75"/>
<circle cx="441.60" cy="106.00" r="1.3" fill="#f4f8ee" stroke="#8aa070" stroke-width="0.75"/>
<circle cx="417.80" cy="167.60" r="1.45" fill="#fff" stroke="#22397a" stroke-width="0.85"/>
<circle cx="424.80" cy="162.20" r="1.45" fill="#fff" stroke="#22397a" stroke-width="0.85"/>
<circle cx="430.60" cy="150.80" r="1.45" fill="#fff" stroke="#22397a" stroke-width="0.85"/>
<circle cx="441.60" cy="126.40" r="1.45" fill="#fff" stroke="#22397a" stroke-width="0.85"/>
<circle cx="449.50" cy="79.80" r="1.45" fill="#fff" stroke="#22397a" stroke-width="0.85"/>
<circle cx="424.80" cy="168.60" r="1.45" fill="#fff" stroke="#22397a" stroke-width="0.85"/>
<circle cx="430.60" cy="168.00" r="1.45" fill="#fff" stroke="#22397a" stroke-width="0.85"/>
<circle cx="441.60" cy="156.60" r="1.45" fill="#fff" stroke="#22397a" stroke-width="0.85"/>
<circle cx="449.50" cy="137.80" r="1.45" fill="#fff" stroke="#22397a" stroke-width="0.85"/>
<circle cx="458.60" cy="119.70" r="1.45" fill="#fff" stroke="#22397a" stroke-width="0.85"/>
<circle cx="430.60" cy="171.50" r="1.45" fill="#fff" stroke="#22397a" stroke-width="0.85"/>
<circle cx="441.60" cy="164.10" r="1.45" fill="#fff" stroke="#22397a" stroke-width="0.85"/>
<circle cx="449.50" cy="148.10" r="1.45" fill="#fff" stroke="#22397a" stroke-width="0.85"/>
<circle cx="458.60" cy="132.70" r="1.45" fill="#fff" stroke="#22397a" stroke-width="0.85"/>
<circle cx="441.60" cy="168.50" r="1.45" fill="#fff" stroke="#22397a" stroke-width="0.85"/>
<circle cx="449.50" cy="153.20" r="1.45" fill="#fff" stroke="#22397a" stroke-width="0.85"/>
<circle cx="458.60" cy="133.60" r="1.45" fill="#fff" stroke="#22397a" stroke-width="0.85"/>
<circle cx="449.50" cy="171.20" r="1.45" fill="#fff" stroke="#22397a" stroke-width="0.85"/>
<circle cx="458.60" cy="165.40" r="1.45" fill="#fff" stroke="#22397a" stroke-width="0.85"/>
<circle cx="458.60" cy="172.30" r="1.45" fill="#fff" stroke="#22397a" stroke-width="0.85"/>
<path d="M373.50,175.20 L458.60,175.00" fill="none" stroke="#9a1f4f" stroke-width="1.7" stroke-linejoin="round"/>
<circle cx="373.50" cy="175.2" r="1.55" fill="#fff" stroke="#9a1f4f" stroke-width="0.9"/>
<circle cx="382.20" cy="175.2" r="1.55" fill="#fff" stroke="#9a1f4f" stroke-width="0.9"/>
<circle cx="388.00" cy="175.2" r="1.55" fill="#fff" stroke="#9a1f4f" stroke-width="0.9"/>
<circle cx="395.00" cy="175.2" r="1.55" fill="#fff" stroke="#9a1f4f" stroke-width="0.9"/>
<circle cx="401.00" cy="175.2" r="1.55" fill="#fff" stroke="#9a1f4f" stroke-width="0.9"/>
<circle cx="406.50" cy="175.2" r="1.55" fill="#fff" stroke="#9a1f4f" stroke-width="0.9"/>
<circle cx="417.80" cy="175.2" r="1.55" fill="#fff" stroke="#9a1f4f" stroke-width="0.9"/>
<circle cx="424.80" cy="175.2" r="1.55" fill="#fff" stroke="#9a1f4f" stroke-width="0.9"/>
<circle cx="430.60" cy="175.2" r="1.55" fill="#fff" stroke="#9a1f4f" stroke-width="0.9"/>
<circle cx="441.60" cy="175.2" r="1.55" fill="#fff" stroke="#9a1f4f" stroke-width="0.9"/>
<circle cx="449.50" cy="175.2" r="1.55" fill="#fff" stroke="#9a1f4f" stroke-width="0.9"/>
<circle cx="458.60" cy="175.2" r="1.55" fill="#fff" stroke="#9a1f4f" stroke-width="0.9"/>
<text x="7.40" y="266.20" font-size="11.4" fill="#111" font-weight="bold">B</text>
<line x1="32.80" y1="281.20" x2="32.80" y2="380.50" stroke="#111" stroke-width="1.2"/>
<line x1="32.20" y1="379.90" x2="170.50" y2="379.90" stroke="#111" stroke-width="1.3"/>
<line x1="29.80" y1="379.90" x2="32.80" y2="379.90" stroke="#111" stroke-width="1.0"/>
<text x="24.40" y="382.20" font-size="6.4" fill="#333" stroke="#333" stroke-width="0.18" text-anchor="middle" textLength="3.0" lengthAdjust="spacingAndGlyphs">0</text>
<line x1="29.80" y1="355.83" x2="32.80" y2="355.83" stroke="#111" stroke-width="1.0"/>
<text x="24.40" y="358.13" font-size="6.4" fill="#333" stroke="#333" stroke-width="0.18" text-anchor="middle" textLength="3.0" lengthAdjust="spacingAndGlyphs">1</text>
<line x1="29.80" y1="331.76" x2="32.80" y2="331.76" stroke="#111" stroke-width="1.0"/>
<text x="24.40" y="334.06" font-size="6.4" fill="#333" stroke="#333" stroke-width="0.18" text-anchor="middle" textLength="3.0" lengthAdjust="spacingAndGlyphs">2</text>
<line x1="29.80" y1="307.69" x2="32.80" y2="307.69" stroke="#111" stroke-width="1.0"/>
<text x="24.40" y="309.99" font-size="6.4" fill="#333" stroke="#333" stroke-width="0.18" text-anchor="middle" textLength="3.0" lengthAdjust="spacingAndGlyphs">3</text>
<line x1="29.80" y1="283.62" x2="32.80" y2="283.62" stroke="#111" stroke-width="1.0"/>
<text x="24.40" y="285.92" font-size="6.4" fill="#333" stroke="#333" stroke-width="0.18" text-anchor="middle" textLength="3.0" lengthAdjust="spacingAndGlyphs">4</text>
<text x="17.40" y="380.80" font-size="7.2" fill="#333" stroke="#333" stroke-width="0.18" textLength="100" lengthAdjust="spacingAndGlyphs" transform="rotate(-90 17.40 380.80)">pIV-tetramer<tspan dy="-2.4" font-size="4.2">+</tspan><tspan dy="2.4"> CD44</tspan><tspan dy="-2.4" font-size="4.2">+</tspan><tspan dy="2.4"> [% of CD8</tspan><tspan dy="-2.4" font-size="4.2">+</tspan><tspan dy="2.4">]</tspan></text>
<path d="M53.00,279.00 L53.00,276.00 L87.00,276.00 L87.00,279.00" fill="none" stroke="#111" stroke-width="1.1"/>
<path d="M53.00,285.20 L53.00,282.20 L121.30,282.20 L121.30,285.20" fill="none" stroke="#111" stroke-width="1.1"/>
<path d="M53.00,290.80 L53.00,287.80 L152.50,287.80 L152.50,290.80" fill="none" stroke="#111" stroke-width="1.1"/>
<text x="60.80" y="273.60" font-size="5.8" fill="#333" stroke="#333" stroke-width="0.18" textLength="18.8" lengthAdjust="spacingAndGlyphs"><tspan font-style="italic">P</tspan>=.0333</text>
<text x="95.40" y="280.00" font-size="5.8" fill="#333" stroke="#333" stroke-width="0.18" textLength="19.2" lengthAdjust="spacingAndGlyphs"><tspan font-style="italic">P</tspan>=.0150</text>
<text x="139.60" y="284.60" font-size="5.8" fill="#333" stroke="#333" stroke-width="0.18" text-anchor="middle">ns</text>
<line x1="44.00" y1="377.40" x2="64.00" y2="377.40" stroke="#eda12a" stroke-width="1.3"/>
<path d="M45.40,375.20 L47.40,377.20 L45.40,379.20 L43.40,377.20 Z" fill="#f0bd50" stroke="#dc9414" stroke-width="1.0"/>
<path d="M49.70,375.20 L51.70,377.20 L49.70,379.20 L47.70,377.20 Z" fill="#f0bd50" stroke="#dc9414" stroke-width="1.0"/>
<path d="M54.00,375.20 L56.00,377.20 L54.00,379.20 L52.00,377.20 Z" fill="#f0bd50" stroke="#dc9414" stroke-width="1.0"/>
<path d="M58.30,375.20 L60.30,377.20 L58.30,379.20 L56.30,377.20 Z" fill="#f0bd50" stroke="#dc9414" stroke-width="1.0"/>
<path d="M62.60,375.20 L64.60,377.20 L62.60,379.20 L60.60,377.20 Z" fill="#f0bd50" stroke="#dc9414" stroke-width="1.0"/>
<line x1="76.30" y1="361.10" x2="97.90" y2="361.10" stroke="#4a3868" stroke-width="1.3"/>
<path d="M87.10,292.10 L89.30,295.99 L84.89,295.99 Z" fill="#8b7d9e" stroke="#4a3868" stroke-width="1.0" stroke-linejoin="round"/>
<path d="M87.10,351.20 L89.30,355.09 L84.89,355.09 Z" fill="#8b7d9e" stroke="#4a3868" stroke-width="1.0" stroke-linejoin="round"/>
<path d="M85.20,359.30 L87.41,363.19 L83.00,363.19 Z" fill="#8b7d9e" stroke="#4a3868" stroke-width="1.0" stroke-linejoin="round"/>
<path d="M89.20,363.30 L91.41,367.19 L87.00,367.19 Z" fill="#8b7d9e" stroke="#4a3868" stroke-width="1.0" stroke-linejoin="round"/>
<path d="M87.10,369.30 L89.30,373.19 L84.89,373.19 Z" fill="#8b7d9e" stroke="#4a3868" stroke-width="1.0" stroke-linejoin="round"/>
<line x1="108.90" y1="355.70" x2="130.40" y2="355.70" stroke="#a2305e" stroke-width="1.3"/>
<rect x="118.55" y="322.55" width="3.30" height="3.30" fill="#fff" stroke="#a2305e" stroke-width="1.1"/>
<rect x="118.55" y="346.85" width="3.30" height="3.30" fill="#fff" stroke="#a2305e" stroke-width="1.1"/>
<rect x="115.95" y="354.05" width="3.30" height="3.30" fill="#fff" stroke="#a2305e" stroke-width="1.1"/>
<rect x="120.75" y="354.75" width="3.30" height="3.30" fill="#fff" stroke="#a2305e" stroke-width="1.1"/>
<rect x="118.55" y="364.85" width="3.30" height="3.30" fill="#fff" stroke="#a2305e" stroke-width="1.1"/>
<line x1="141.50" y1="377.40" x2="162.50" y2="377.40" stroke="#34457a" stroke-width="1.3"/>
<circle cx="143.60" cy="377.30" r="1.55" fill="#fff" stroke="#34457a" stroke-width="1.1"/>
<circle cx="147.90" cy="377.30" r="1.55" fill="#fff" stroke="#34457a" stroke-width="1.1"/>
<circle cx="152.20" cy="377.30" r="1.55" fill="#fff" stroke="#34457a" stroke-width="1.1"/>
<circle cx="156.50" cy="377.30" r="1.55" fill="#fff" stroke="#34457a" stroke-width="1.1"/>
<circle cx="160.80" cy="377.30" r="1.55" fill="#fff" stroke="#34457a" stroke-width="1.1"/>
<line x1="54.20" y1="379.90" x2="54.20" y2="382.40" stroke="#111" stroke-width="1.0"/>
<line x1="87.10" y1="379.90" x2="87.10" y2="382.40" stroke="#111" stroke-width="1.0"/>
<line x1="119.80" y1="379.90" x2="119.80" y2="382.40" stroke="#111" stroke-width="1.0"/>
<line x1="152.50" y1="379.90" x2="152.50" y2="382.40" stroke="#111" stroke-width="1.0"/>
<text x="13.80" y="390.60" font-size="7.0" fill="#333" stroke="#333" stroke-width="0.18" textLength="33.4" lengthAdjust="spacingAndGlyphs">immunized:</text>
<text x="54.10" y="390.00" font-size="6.5" fill="#333" stroke="#333" stroke-width="0.18" text-anchor="middle">-</text>
<text x="87.10" y="390.80" font-size="4.6" fill="#333" stroke="#333" stroke-width="0.18" text-anchor="middle">+</text>
<text x="119.80" y="390.80" font-size="4.6" fill="#333" stroke="#333" stroke-width="0.18" text-anchor="middle">+</text>
<text x="152.50" y="390.80" font-size="4.6" fill="#333" stroke="#333" stroke-width="0.18" text-anchor="middle">+</text>
<text x="56.00" y="397.60" font-size="5.0" fill="#f0b860" stroke="#f0b860" stroke-width="0.18" text-anchor="end" transform="rotate(-45 56.00 397.60)">wt</text>
<text x="89.60" y="395.90" font-size="7.0" fill="#4a3868" stroke="#4a3868" stroke-width="0.18" text-anchor="end" textLength="25.7" lengthAdjust="spacingAndGlyphs" transform="rotate(-45 89.60 395.90)">LoxP-Tag</text>
<text x="118.60" y="396.20" font-size="7.0" fill="#a2305e" stroke="#a2305e" stroke-width="0.18" text-anchor="end" textLength="40" lengthAdjust="spacingAndGlyphs" transform="rotate(-45 118.60 396.20)">CD19-CreER<tspan dy="-2.2" font-size="4">T2</tspan></text>
<text x="124.90" y="401.90" font-size="7.0" fill="#a2305e" stroke="#a2305e" stroke-width="0.18" text-anchor="end" textLength="29.5" lengthAdjust="spacingAndGlyphs" transform="rotate(-45 124.90 401.90)">x LoxP-Tag</text>
<text x="152.60" y="395.90" font-size="7.0" fill="#55658c" stroke="#55658c" stroke-width="0.18" text-anchor="end" textLength="28.4" lengthAdjust="spacingAndGlyphs" transform="rotate(-45 152.60 395.90)">CD19-Cre</text>
<text x="158.40" y="401.30" font-size="7.0" fill="#55658c" stroke="#55658c" stroke-width="0.18" text-anchor="end" textLength="29.4" lengthAdjust="spacingAndGlyphs" transform="rotate(-45 158.40 401.30)">x LoxP-Tag</text>
<line x1="185.40" y1="378.50" x2="185.40" y2="284.50" stroke="#111" stroke-width="1.5"/>
<path d="M185.40,277.30 L182.10,285.50 L185.40,284.50 L188.70,285.50 Z" fill="#111"/>
<text x="187.60" y="414.00" font-size="6.8" fill="#333" stroke="#333" stroke-width="0.18" textLength="33" lengthAdjust="spacingAndGlyphs" transform="rotate(-90 187.60 414.00)"><tspan font-style="italic">pIV</tspan> tetramer</text>
<text x="196.00" y="277.10" font-size="6.6" fill="#a2305e" stroke="#a2305e" stroke-width="0.18" textLength="75.5" lengthAdjust="spacingAndGlyphs">CD19-CreER<tspan dy="-2.2" font-size="3.8">T2</tspan><tspan dy="2.2"> x LoxP-Tag</tspan></text>
<clipPath id="c981"><rect x="207.6" y="281.6" width="51.20000000000002" height="50.299999999999955"/></clipPath>
<g clip-path="url(#c981)">
<path d="M210.70,317.50 C210.90,315.88 211.13,314.70 211.90,313.70 C212.67,312.70 213.88,312.00 215.30,311.50 C216.72,311.00 218.42,310.70 220.40,310.70 C222.38,310.70 224.95,311.15 227.20,311.50 C229.45,311.85 231.80,312.52 233.90,312.80 C236.00,313.08 238.18,312.92 239.80,313.20 C241.42,313.48 242.60,313.65 243.60,314.50 C244.60,315.35 245.33,316.82 245.80,318.30 C246.27,319.78 246.40,321.85 246.40,323.40 C246.40,324.95 246.47,326.50 245.80,327.60 C245.13,328.70 244.10,329.65 242.40,330.00 C240.70,330.35 238.13,329.88 235.60,329.70 C233.07,329.52 230.02,329.18 227.20,328.90 C224.38,328.62 221.10,328.35 218.70,328.00 C216.30,327.65 214.13,327.57 212.80,326.80 C211.47,326.03 211.05,324.95 210.70,323.40 C210.35,321.85 210.50,319.12 210.70,317.50Z" fill="#d4d4d4" stroke="#111" stroke-width="1.35"/><path d="M213.26,318.10 C213.42,316.81 213.61,315.86 214.22,315.06 C214.83,314.26 215.81,313.70 216.94,313.30 C218.07,312.90 219.43,312.66 221.02,312.66 C222.61,312.66 224.66,313.02 226.46,313.30 C228.26,313.58 230.14,314.11 231.82,314.34 C233.50,314.57 235.25,314.43 236.54,314.66 C237.83,314.89 238.78,315.02 239.58,315.70 C240.38,316.38 240.97,317.55 241.34,318.74 C241.71,319.93 241.82,321.58 241.82,322.82 C241.82,324.06 241.87,325.30 241.34,326.18 C240.81,327.06 239.98,327.82 238.62,328.10 C237.26,328.38 235.21,328.01 233.18,327.86 C231.15,327.71 228.71,327.45 226.46,327.22 C224.21,326.99 221.58,326.78 219.66,326.50 C217.74,326.22 216.01,326.15 214.94,325.54 C213.87,324.93 213.54,324.06 213.26,322.82 C212.98,321.58 213.10,319.39 213.26,318.10Z" fill="#a9a9a9" stroke="#2a2a2a" stroke-width="0.5"/><path d="M215.82,318.70 C215.94,317.73 216.08,317.02 216.54,316.42 C217.00,315.82 217.73,315.40 218.58,315.10 C219.43,314.80 220.45,314.62 221.64,314.62 C222.83,314.62 224.37,314.89 225.72,315.10 C227.07,315.31 228.48,315.71 229.74,315.88 C231.00,316.05 232.31,315.95 233.28,316.12 C234.25,316.29 234.96,316.39 235.56,316.90 C236.16,317.41 236.60,318.29 236.88,319.18 C237.16,320.07 237.24,321.31 237.24,322.24 C237.24,323.17 237.28,324.10 236.88,324.76 C236.48,325.42 235.86,325.99 234.84,326.20 C233.82,326.41 232.28,326.13 230.76,326.02 C229.24,325.91 227.41,325.71 225.72,325.54 C224.03,325.37 222.06,325.21 220.62,325.00 C219.18,324.79 217.88,324.74 217.08,324.28 C216.28,323.82 216.03,323.17 215.82,322.24 C215.61,321.31 215.70,319.67 215.82,318.70Z" fill="#929292" stroke="#2a2a2a" stroke-width="0.5"/><path d="M218.38,319.30 C218.46,318.65 218.55,318.18 218.86,317.78 C219.17,317.38 219.65,317.10 220.22,316.90 C220.79,316.70 221.47,316.58 222.26,316.58 C223.05,316.58 224.08,316.76 224.98,316.90 C225.88,317.04 226.82,317.31 227.66,317.42 C228.50,317.53 229.37,317.47 230.02,317.58 C230.67,317.69 231.14,317.76 231.54,318.10 C231.94,318.44 232.23,319.03 232.42,319.62 C232.61,320.21 232.66,321.04 232.66,321.66 C232.66,322.28 232.69,322.90 232.42,323.34 C232.15,323.78 231.74,324.16 231.06,324.30 C230.38,324.44 229.35,324.25 228.34,324.18 C227.33,324.11 226.11,323.97 224.98,323.86 C223.85,323.75 222.54,323.64 221.58,323.50 C220.62,323.36 219.75,323.33 219.22,323.02 C218.69,322.71 218.52,322.28 218.38,321.66 C218.24,321.04 218.30,319.95 218.38,319.30Z" fill="#7a7a7a" stroke="#2a2a2a" stroke-width="0.5"/><path d="M220.94,319.90 C220.98,319.58 221.03,319.34 221.18,319.14 C221.33,318.94 221.58,318.80 221.86,318.70 C222.14,318.60 222.48,318.54 222.88,318.54 C223.28,318.54 223.79,318.63 224.24,318.70 C224.69,318.77 225.16,318.90 225.58,318.96 C226.00,319.02 226.44,318.98 226.76,319.04 C227.08,319.10 227.32,319.13 227.52,319.30 C227.72,319.47 227.87,319.76 227.96,320.06 C228.05,320.36 228.08,320.77 228.08,321.08 C228.08,321.39 228.09,321.70 227.96,321.92 C227.83,322.14 227.62,322.33 227.28,322.40 C226.94,322.47 226.43,322.38 225.92,322.34 C225.41,322.30 224.80,322.24 224.24,322.18 C223.68,322.12 223.02,322.07 222.54,322.00 C222.06,321.93 221.63,321.91 221.36,321.76 C221.09,321.61 221.01,321.39 220.94,321.08 C220.87,320.77 220.90,320.22 220.94,319.90Z" fill="#5e5e5e" stroke="#2a2a2a" stroke-width="0.5"/>
<ellipse cx="241.60" cy="324.60" rx="1.60" ry="1.40" transform="rotate(0 241.60 324.60)" fill="#222" stroke="#222" stroke-width="0.5"/>
<path d="M237.80,305.50 C237.73,304.33 238.07,302.82 238.60,302.00 C239.13,301.18 240.17,300.67 241.00,300.60 C241.83,300.53 243.02,300.87 243.60,301.60 C244.18,302.33 244.53,303.83 244.50,305.00 C244.47,306.17 243.95,307.60 243.40,308.60 C242.85,309.60 241.93,310.93 241.20,311.00 C240.47,311.07 239.57,309.92 239.00,309.00 C238.43,308.08 237.87,306.67 237.80,305.50Z" fill="#eeeeee" stroke="#111" stroke-width="1.3"/><path d="M239.45,305.50 C239.42,304.92 239.58,304.16 239.85,303.75 C240.12,303.34 240.63,303.08 241.05,303.05 C241.47,303.02 242.06,303.18 242.35,303.55 C242.64,303.92 242.82,304.67 242.80,305.25 C242.78,305.83 242.53,306.55 242.25,307.05 C241.97,307.55 241.52,308.22 241.15,308.25 C240.78,308.28 240.33,307.71 240.05,307.25 C239.77,306.79 239.48,306.08 239.45,305.50Z" fill="#b8b8b8" stroke="#2a2a2a" stroke-width="0.5"/>
</g>
<path d="M234.60,281.60 L234.60,311.90 L258.80,311.90" fill="none" stroke="#333" stroke-width="0.9"/>
<rect x="207.60" y="281.60" width="51.20" height="50.30" fill="none" stroke="#111" stroke-width="1.5"/>
<text x="250.00" y="289.80" font-size="5.2" fill="#222" stroke="#222" stroke-width="0.18" text-anchor="middle">2.33</text>
<line x1="207.60" y1="332.50" x2="207.60" y2="335.10" stroke="#111" stroke-width="0.8"/>
<line x1="210.68" y1="332.50" x2="210.68" y2="334.10" stroke="#111" stroke-width="0.8"/>
<line x1="212.49" y1="332.50" x2="212.49" y2="334.10" stroke="#111" stroke-width="0.8"/>
<line x1="213.77" y1="332.50" x2="213.77" y2="334.10" stroke="#111" stroke-width="0.8"/>
<line x1="214.76" y1="332.50" x2="214.76" y2="334.10" stroke="#111" stroke-width="0.8"/>
<line x1="215.57" y1="332.50" x2="215.57" y2="334.10" stroke="#111" stroke-width="0.8"/>
<line x1="216.25" y1="332.50" x2="216.25" y2="334.10" stroke="#111" stroke-width="0.8"/>
<line x1="216.85" y1="332.50" x2="216.85" y2="334.10" stroke="#111" stroke-width="0.8"/>
<line x1="217.37" y1="332.50" x2="217.37" y2="334.10" stroke="#111" stroke-width="0.8"/>
<line x1="217.84" y1="332.50" x2="217.84" y2="335.10" stroke="#111" stroke-width="0.8"/>
<line x1="220.92" y1="332.50" x2="220.92" y2="334.10" stroke="#111" stroke-width="0.8"/>
<line x1="222.73" y1="332.50" x2="222.73" y2="334.10" stroke="#111" stroke-width="0.8"/>
<line x1="224.01" y1="332.50" x2="224.01" y2="334.10" stroke="#111" stroke-width="0.8"/>
<line x1="225.00" y1="332.50" x2="225.00" y2="334.10" stroke="#111" stroke-width="0.8"/>
<line x1="225.81" y1="332.50" x2="225.81" y2="334.10" stroke="#111" stroke-width="0.8"/>
<line x1="226.49" y1="332.50" x2="226.49" y2="334.10" stroke="#111" stroke-width="0.8"/>
<line x1="227.09" y1="332.50" x2="227.09" y2="334.10" stroke="#111" stroke-width="0.8"/>
<line x1="227.61" y1="332.50" x2="227.61" y2="334.10" stroke="#111" stroke-width="0.8"/>
<line x1="228.08" y1="332.50" x2="228.08" y2="335.10" stroke="#111" stroke-width="0.8"/>
<line x1="231.16" y1="332.50" x2="231.16" y2="334.10" stroke="#111" stroke-width="0.8"/>
<line x1="232.97" y1="332.50" x2="232.97" y2="334.10" stroke="#111" stroke-width="0.8"/>
<line x1="234.25" y1="332.50" x2="234.25" y2="334.10" stroke="#111" stroke-width="0.8"/>
<line x1="235.24" y1="332.50" x2="235.24" y2="334.10" stroke="#111" stroke-width="0.8"/>
<line x1="236.05" y1="332.50" x2="236.05" y2="334.10" stroke="#111" stroke-width="0.8"/>
<line x1="236.73" y1="332.50" x2="236.73" y2="334.10" stroke="#111" stroke-width="0.8"/>
<line x1="237.33" y1="332.50" x2="237.33" y2="334.10" stroke="#111" stroke-width="0.8"/>
<line x1="237.85" y1="332.50" x2="237.85" y2="334.10" stroke="#111" stroke-width="0.8"/>
<line x1="238.32" y1="332.50" x2="238.32" y2="335.10" stroke="#111" stroke-width="0.8"/>
<line x1="241.40" y1="332.50" x2="241.40" y2="334.10" stroke="#111" stroke-width="0.8"/>
<line x1="243.21" y1="332.50" x2="243.21" y2="334.10" stroke="#111" stroke-width="0.8"/>
<line x1="244.49" y1="332.50" x2="244.49" y2="334.10" stroke="#111" stroke-width="0.8"/>
<line x1="245.48" y1="332.50" x2="245.48" y2="334.10" stroke="#111" stroke-width="0.8"/>
<line x1="246.29" y1="332.50" x2="246.29" y2="334.10" stroke="#111" stroke-width="0.8"/>
<line x1="246.97" y1="332.50" x2="246.97" y2="334.10" stroke="#111" stroke-width="0.8"/>
<line x1="247.57" y1="332.50" x2="247.57" y2="334.10" stroke="#111" stroke-width="0.8"/>
<line x1="248.09" y1="332.50" x2="248.09" y2="334.10" stroke="#111" stroke-width="0.8"/>
<line x1="248.56" y1="332.50" x2="248.56" y2="335.10" stroke="#111" stroke-width="0.8"/>
<line x1="251.64" y1="332.50" x2="251.64" y2="334.10" stroke="#111" stroke-width="0.8"/>
<line x1="253.45" y1="332.50" x2="253.45" y2="334.10" stroke="#111" stroke-width="0.8"/>
<line x1="254.73" y1="332.50" x2="254.73" y2="334.10" stroke="#111" stroke-width="0.8"/>
<line x1="255.72" y1="332.50" x2="255.72" y2="334.10" stroke="#111" stroke-width="0.8"/>
<line x1="256.53" y1="332.50" x2="256.53" y2="334.10" stroke="#111" stroke-width="0.8"/>
<line x1="257.21" y1="332.50" x2="257.21" y2="334.10" stroke="#111" stroke-width="0.8"/>
<line x1="257.81" y1="332.50" x2="257.81" y2="334.10" stroke="#111" stroke-width="0.8"/>
<line x1="258.33" y1="332.50" x2="258.33" y2="334.10" stroke="#111" stroke-width="0.8"/>
<line x1="258.80" y1="332.50" x2="258.80" y2="335.10" stroke="#111" stroke-width="0.8"/>
<line x1="204.40" y1="331.90" x2="207.00" y2="331.90" stroke="#111" stroke-width="0.9"/>
<line x1="206.00" y1="329.45" x2="207.00" y2="329.45" stroke="#111" stroke-width="0.7"/>
<line x1="206.00" y1="327.01" x2="207.00" y2="327.01" stroke="#111" stroke-width="0.7"/>
<line x1="206.00" y1="324.56" x2="207.00" y2="324.56" stroke="#111" stroke-width="0.7"/>
<line x1="204.40" y1="322.12" x2="207.00" y2="322.12" stroke="#111" stroke-width="0.9"/>
<line x1="206.00" y1="319.67" x2="207.00" y2="319.67" stroke="#111" stroke-width="0.7"/>
<line x1="206.00" y1="317.23" x2="207.00" y2="317.23" stroke="#111" stroke-width="0.7"/>
<line x1="206.00" y1="314.78" x2="207.00" y2="314.78" stroke="#111" stroke-width="0.7"/>
<line x1="204.40" y1="312.34" x2="207.00" y2="312.34" stroke="#111" stroke-width="0.9"/>
<line x1="206.00" y1="309.89" x2="207.00" y2="309.89" stroke="#111" stroke-width="0.7"/>
<line x1="206.00" y1="307.45" x2="207.00" y2="307.45" stroke="#111" stroke-width="0.7"/>
<line x1="206.00" y1="305.00" x2="207.00" y2="305.00" stroke="#111" stroke-width="0.7"/>
<line x1="204.40" y1="302.56" x2="207.00" y2="302.56" stroke="#111" stroke-width="0.9"/>
<line x1="206.00" y1="300.12" x2="207.00" y2="300.12" stroke="#111" stroke-width="0.7"/>
<line x1="206.00" y1="297.67" x2="207.00" y2="297.67" stroke="#111" stroke-width="0.7"/>
<line x1="206.00" y1="295.23" x2="207.00" y2="295.23" stroke="#111" stroke-width="0.7"/>
<line x1="204.40" y1="292.78" x2="207.00" y2="292.78" stroke="#111" stroke-width="0.9"/>
<line x1="206.00" y1="290.33" x2="207.00" y2="290.33" stroke="#111" stroke-width="0.7"/>
<line x1="206.00" y1="287.89" x2="207.00" y2="287.89" stroke="#111" stroke-width="0.7"/>
<line x1="206.00" y1="285.44" x2="207.00" y2="285.44" stroke="#111" stroke-width="0.7"/>
<line x1="204.40" y1="283.00" x2="207.00" y2="283.00" stroke="#111" stroke-width="0.9"/>
<text x="200.60" y="351.40" font-size="6.4" fill="#3c5088" stroke="#3c5088" stroke-width="0.18" textLength="62.4" lengthAdjust="spacingAndGlyphs">CD19-Cre x LoxP-Tag</text>
<clipPath id="c1058"><rect x="209.2" y="355.5" width="50.80000000000001" height="50.39999999999998"/></clipPath>
<g clip-path="url(#c1058)">
<path d="M211.70,390.50 C211.93,388.50 212.50,386.68 214.10,385.60 C215.70,384.52 218.65,384.15 221.30,384.00 C223.95,383.85 227.43,384.25 230.00,384.70 C232.57,385.15 234.45,385.98 236.70,386.70 C238.95,387.42 241.82,387.88 243.50,389.00 C245.18,390.12 246.33,391.70 246.80,393.40 C247.27,395.10 246.85,397.68 246.30,399.20 C245.75,400.72 245.10,401.83 243.50,402.50 C241.90,403.17 239.92,403.32 236.70,403.20 C233.48,403.08 227.57,402.17 224.20,401.80 C220.83,401.43 218.42,401.70 216.50,401.00 C214.58,400.30 213.50,399.35 212.70,397.60 C211.90,395.85 211.47,392.50 211.70,390.50Z" fill="#d4d4d4" stroke="#111" stroke-width="1.35"/><path d="M213.96,391.00 C214.15,389.40 214.60,387.95 215.88,387.08 C217.16,386.21 219.52,385.92 221.64,385.80 C223.76,385.68 226.55,386.00 228.60,386.36 C230.65,386.72 232.16,387.39 233.96,387.96 C235.76,388.53 238.05,388.91 239.40,389.80 C240.75,390.69 241.67,391.96 242.04,393.32 C242.41,394.68 242.08,396.75 241.64,397.96 C241.20,399.17 240.68,400.07 239.40,400.60 C238.12,401.13 236.53,401.25 233.96,401.16 C231.39,401.07 226.65,400.33 223.96,400.04 C221.27,399.75 219.33,399.96 217.80,399.40 C216.27,398.84 215.40,398.08 214.76,396.68 C214.12,395.28 213.77,392.60 213.96,391.00Z" fill="#a9a9a9" stroke="#2a2a2a" stroke-width="0.5"/><path d="M216.22,391.50 C216.36,390.30 216.70,389.21 217.66,388.56 C218.62,387.91 220.39,387.69 221.98,387.60 C223.57,387.51 225.66,387.75 227.20,388.02 C228.74,388.29 229.87,388.79 231.22,389.22 C232.57,389.65 234.29,389.93 235.30,390.60 C236.31,391.27 237.00,392.22 237.28,393.24 C237.56,394.26 237.31,395.81 236.98,396.72 C236.65,397.63 236.26,398.30 235.30,398.70 C234.34,399.10 233.15,399.19 231.22,399.12 C229.29,399.05 225.74,398.50 223.72,398.28 C221.70,398.06 220.25,398.22 219.10,397.80 C217.95,397.38 217.30,396.81 216.82,395.76 C216.34,394.71 216.08,392.70 216.22,391.50Z" fill="#929292" stroke="#2a2a2a" stroke-width="0.5"/><path d="M218.48,392.00 C218.57,391.20 218.80,390.47 219.44,390.04 C220.08,389.61 221.26,389.46 222.32,389.40 C223.38,389.34 224.77,389.50 225.80,389.68 C226.83,389.86 227.58,390.19 228.48,390.48 C229.38,390.77 230.53,390.95 231.20,391.40 C231.87,391.85 232.33,392.48 232.52,393.16 C232.71,393.84 232.54,394.87 232.32,395.48 C232.10,396.09 231.84,396.53 231.20,396.80 C230.56,397.07 229.77,397.13 228.48,397.08 C227.19,397.03 224.83,396.67 223.48,396.52 C222.13,396.37 221.17,396.48 220.40,396.20 C219.63,395.92 219.20,395.54 218.88,394.84 C218.56,394.14 218.39,392.80 218.48,392.00Z" fill="#7a7a7a" stroke="#2a2a2a" stroke-width="0.5"/><path d="M220.74,392.50 C220.79,392.10 220.90,391.74 221.22,391.52 C221.54,391.30 222.13,391.23 222.66,391.20 C223.19,391.17 223.89,391.25 224.40,391.34 C224.91,391.43 225.29,391.60 225.74,391.74 C226.19,391.88 226.76,391.98 227.10,392.20 C227.44,392.42 227.67,392.74 227.76,393.08 C227.85,393.42 227.77,393.94 227.66,394.24 C227.55,394.54 227.42,394.77 227.10,394.90 C226.78,395.03 226.38,395.06 225.74,395.04 C225.10,395.02 223.91,394.83 223.24,394.76 C222.57,394.69 222.08,394.74 221.70,394.60 C221.32,394.46 221.10,394.27 220.94,393.92 C220.78,393.57 220.69,392.90 220.74,392.50Z" fill="#5e5e5e" stroke="#2a2a2a" stroke-width="0.5"/>
<ellipse cx="222.00" cy="392.60" rx="2.60" ry="1.30" transform="rotate(0 222.00 392.60)" fill="#2a2a2a" stroke="#2a2a2a" stroke-width="0.5"/>
<ellipse cx="241.50" cy="396.80" rx="1.50" ry="1.30" transform="rotate(0 241.50 396.80)" fill="#444" stroke="#333" stroke-width="0.5"/>
</g>
<path d="M235.60,355.50 L235.60,386.20 L260.00,386.20" fill="none" stroke="#333" stroke-width="0.9"/>
<rect x="209.20" y="355.50" width="50.80" height="50.40" fill="none" stroke="#111" stroke-width="1.5"/>
<text x="251.00" y="363.00" font-size="5.2" fill="#222" stroke="#222" stroke-width="0.18" text-anchor="middle">0.13</text>
<line x1="209.20" y1="406.50" x2="209.20" y2="409.10" stroke="#111" stroke-width="0.8"/>
<line x1="212.26" y1="406.50" x2="212.26" y2="408.10" stroke="#111" stroke-width="0.8"/>
<line x1="214.05" y1="406.50" x2="214.05" y2="408.10" stroke="#111" stroke-width="0.8"/>
<line x1="215.32" y1="406.50" x2="215.32" y2="408.10" stroke="#111" stroke-width="0.8"/>
<line x1="216.30" y1="406.50" x2="216.30" y2="408.10" stroke="#111" stroke-width="0.8"/>
<line x1="217.11" y1="406.50" x2="217.11" y2="408.10" stroke="#111" stroke-width="0.8"/>
<line x1="217.79" y1="406.50" x2="217.79" y2="408.10" stroke="#111" stroke-width="0.8"/>
<line x1="218.38" y1="406.50" x2="218.38" y2="408.10" stroke="#111" stroke-width="0.8"/>
<line x1="218.90" y1="406.50" x2="218.90" y2="408.10" stroke="#111" stroke-width="0.8"/>
<line x1="219.36" y1="406.50" x2="219.36" y2="409.10" stroke="#111" stroke-width="0.8"/>
<line x1="222.42" y1="406.50" x2="222.42" y2="408.10" stroke="#111" stroke-width="0.8"/>
<line x1="224.21" y1="406.50" x2="224.21" y2="408.10" stroke="#111" stroke-width="0.8"/>
<line x1="225.48" y1="406.50" x2="225.48" y2="408.10" stroke="#111" stroke-width="0.8"/>
<line x1="226.46" y1="406.50" x2="226.46" y2="408.10" stroke="#111" stroke-width="0.8"/>
<line x1="227.27" y1="406.50" x2="227.27" y2="408.10" stroke="#111" stroke-width="0.8"/>
<line x1="227.95" y1="406.50" x2="227.95" y2="408.10" stroke="#111" stroke-width="0.8"/>
<line x1="228.54" y1="406.50" x2="228.54" y2="408.10" stroke="#111" stroke-width="0.8"/>
<line x1="229.06" y1="406.50" x2="229.06" y2="408.10" stroke="#111" stroke-width="0.8"/>
<line x1="229.52" y1="406.50" x2="229.52" y2="409.10" stroke="#111" stroke-width="0.8"/>
<line x1="232.58" y1="406.50" x2="232.58" y2="408.10" stroke="#111" stroke-width="0.8"/>
<line x1="234.37" y1="406.50" x2="234.37" y2="408.10" stroke="#111" stroke-width="0.8"/>
<line x1="235.64" y1="406.50" x2="235.64" y2="408.10" stroke="#111" stroke-width="0.8"/>
<line x1="236.62" y1="406.50" x2="236.62" y2="408.10" stroke="#111" stroke-width="0.8"/>
<line x1="237.43" y1="406.50" x2="237.43" y2="408.10" stroke="#111" stroke-width="0.8"/>
<line x1="238.11" y1="406.50" x2="238.11" y2="408.10" stroke="#111" stroke-width="0.8"/>
<line x1="238.70" y1="406.50" x2="238.70" y2="408.10" stroke="#111" stroke-width="0.8"/>
<line x1="239.22" y1="406.50" x2="239.22" y2="408.10" stroke="#111" stroke-width="0.8"/>
<line x1="239.68" y1="406.50" x2="239.68" y2="409.10" stroke="#111" stroke-width="0.8"/>
<line x1="242.74" y1="406.50" x2="242.74" y2="408.10" stroke="#111" stroke-width="0.8"/>
<line x1="244.53" y1="406.50" x2="244.53" y2="408.10" stroke="#111" stroke-width="0.8"/>
<line x1="245.80" y1="406.50" x2="245.80" y2="408.10" stroke="#111" stroke-width="0.8"/>
<line x1="246.78" y1="406.50" x2="246.78" y2="408.10" stroke="#111" stroke-width="0.8"/>
<line x1="247.59" y1="406.50" x2="247.59" y2="408.10" stroke="#111" stroke-width="0.8"/>
<line x1="248.27" y1="406.50" x2="248.27" y2="408.10" stroke="#111" stroke-width="0.8"/>
<line x1="248.86" y1="406.50" x2="248.86" y2="408.10" stroke="#111" stroke-width="0.8"/>
<line x1="249.38" y1="406.50" x2="249.38" y2="408.10" stroke="#111" stroke-width="0.8"/>
<line x1="249.84" y1="406.50" x2="249.84" y2="409.10" stroke="#111" stroke-width="0.8"/>
<line x1="252.90" y1="406.50" x2="252.90" y2="408.10" stroke="#111" stroke-width="0.8"/>
<line x1="254.69" y1="406.50" x2="254.69" y2="408.10" stroke="#111" stroke-width="0.8"/>
<line x1="255.96" y1="406.50" x2="255.96" y2="408.10" stroke="#111" stroke-width="0.8"/>
<line x1="256.94" y1="406.50" x2="256.94" y2="408.10" stroke="#111" stroke-width="0.8"/>
<line x1="257.75" y1="406.50" x2="257.75" y2="408.10" stroke="#111" stroke-width="0.8"/>
<line x1="258.43" y1="406.50" x2="258.43" y2="408.10" stroke="#111" stroke-width="0.8"/>
<line x1="259.02" y1="406.50" x2="259.02" y2="408.10" stroke="#111" stroke-width="0.8"/>
<line x1="259.54" y1="406.50" x2="259.54" y2="408.10" stroke="#111" stroke-width="0.8"/>
<line x1="260.00" y1="406.50" x2="260.00" y2="409.10" stroke="#111" stroke-width="0.8"/>
<line x1="206.00" y1="405.90" x2="208.60" y2="405.90" stroke="#111" stroke-width="0.9"/>
<line x1="207.60" y1="403.45" x2="208.60" y2="403.45" stroke="#111" stroke-width="0.7"/>
<line x1="207.60" y1="401.01" x2="208.60" y2="401.01" stroke="#111" stroke-width="0.7"/>
<line x1="207.60" y1="398.56" x2="208.60" y2="398.56" stroke="#111" stroke-width="0.7"/>
<line x1="206.00" y1="396.12" x2="208.60" y2="396.12" stroke="#111" stroke-width="0.9"/>
<line x1="207.60" y1="393.67" x2="208.60" y2="393.67" stroke="#111" stroke-width="0.7"/>
<line x1="207.60" y1="391.23" x2="208.60" y2="391.23" stroke="#111" stroke-width="0.7"/>
<line x1="207.60" y1="388.78" x2="208.60" y2="388.78" stroke="#111" stroke-width="0.7"/>
<line x1="206.00" y1="386.34" x2="208.60" y2="386.34" stroke="#111" stroke-width="0.9"/>
<line x1="207.60" y1="383.89" x2="208.60" y2="383.89" stroke="#111" stroke-width="0.7"/>
<line x1="207.60" y1="381.45" x2="208.60" y2="381.45" stroke="#111" stroke-width="0.7"/>
<line x1="207.60" y1="379.00" x2="208.60" y2="379.00" stroke="#111" stroke-width="0.7"/>
<line x1="206.00" y1="376.56" x2="208.60" y2="376.56" stroke="#111" stroke-width="0.9"/>
<line x1="207.60" y1="374.12" x2="208.60" y2="374.12" stroke="#111" stroke-width="0.7"/>
<line x1="207.60" y1="371.67" x2="208.60" y2="371.67" stroke="#111" stroke-width="0.7"/>
<line x1="207.60" y1="369.23" x2="208.60" y2="369.23" stroke="#111" stroke-width="0.7"/>
<line x1="206.00" y1="366.78" x2="208.60" y2="366.78" stroke="#111" stroke-width="0.9"/>
<line x1="207.60" y1="364.33" x2="208.60" y2="364.33" stroke="#111" stroke-width="0.7"/>
<line x1="207.60" y1="361.89" x2="208.60" y2="361.89" stroke="#111" stroke-width="0.7"/>
<line x1="207.60" y1="359.44" x2="208.60" y2="359.44" stroke="#111" stroke-width="0.7"/>
<line x1="206.00" y1="357.00" x2="208.60" y2="357.00" stroke="#111" stroke-width="0.9"/>
<text x="194.20" y="363.70" font-size="6.0" fill="#333" stroke="#333" stroke-width="0.18" textLength="5.6" lengthAdjust="spacingAndGlyphs">10</text>
<text x="199.60" y="360.90" font-size="3.8" fill="#333" stroke="#333" stroke-width="0.18">5</text>
<text x="194.20" y="375.10" font-size="6.0" fill="#333" stroke="#333" stroke-width="0.18" textLength="5.6" lengthAdjust="spacingAndGlyphs">10</text>
<text x="199.60" y="372.30" font-size="3.8" fill="#333" stroke="#333" stroke-width="0.18">4</text>
<text x="194.20" y="387.80" font-size="6.0" fill="#333" stroke="#333" stroke-width="0.18" textLength="5.6" lengthAdjust="spacingAndGlyphs">10</text>
<text x="199.60" y="385.00" font-size="3.8" fill="#333" stroke="#333" stroke-width="0.18">3</text>
<text x="199.60" y="401.40" font-size="6.0" fill="#333" stroke="#333" stroke-width="0.18" textLength="3.0" lengthAdjust="spacingAndGlyphs">0</text>
<text x="213.20" y="418.20" font-size="6.0" fill="#333" stroke="#333" stroke-width="0.18" textLength="3.1" lengthAdjust="spacingAndGlyphs">0</text>
<text x="228.00" y="418.20" font-size="6.0" fill="#333" stroke="#333" stroke-width="0.18" textLength="5.2" lengthAdjust="spacingAndGlyphs">10</text>
<text x="233.40" y="415.20" font-size="3.8" fill="#333" stroke="#333" stroke-width="0.18">3</text>
<text x="250.90" y="418.20" font-size="6.0" fill="#333" stroke="#333" stroke-width="0.18" textLength="5.2" lengthAdjust="spacingAndGlyphs">10</text>
<text x="256.30" y="415.20" font-size="3.8" fill="#333" stroke="#333" stroke-width="0.18">5</text>
<text x="199.00" y="430.60" font-size="8.4" fill="#333" stroke="#333" stroke-width="0.18" textLength="17.0" lengthAdjust="spacingAndGlyphs">CD44</text>
<line x1="218.60" y1="427.20" x2="254.40" y2="427.20" stroke="#111" stroke-width="1.55"/>
<path d="M261.60,427.20 L253.40,423.90 L254.40,427.20 L253.40,430.50 Z" fill="#111"/>
<text x="284.30" y="266.00" font-size="11.4" fill="#111" font-weight="bold">C</text>
<line x1="313.60" y1="276.50" x2="313.60" y2="383.80" stroke="#111" stroke-width="1.2"/>
<line x1="313.00" y1="373.90" x2="413.20" y2="373.90" stroke="#111" stroke-width="1.3"/>
<line x1="310.60" y1="373.90" x2="313.60" y2="373.90" stroke="#111" stroke-width="1.0"/>
<text x="308.20" y="376.40" font-size="7.0" fill="#333" stroke="#333" stroke-width="0.18" text-anchor="end" textLength="3.55" lengthAdjust="spacingAndGlyphs">0</text>
<line x1="310.60" y1="354.85" x2="313.60" y2="354.85" stroke="#111" stroke-width="1.0"/>
<text x="308.20" y="357.35" font-size="7.0" fill="#333" stroke="#333" stroke-width="0.18" text-anchor="end" textLength="7.1" lengthAdjust="spacingAndGlyphs">20</text>
<line x1="310.60" y1="335.80" x2="313.60" y2="335.80" stroke="#111" stroke-width="1.0"/>
<text x="308.20" y="338.30" font-size="7.0" fill="#333" stroke="#333" stroke-width="0.18" text-anchor="end" textLength="7.1" lengthAdjust="spacingAndGlyphs">40</text>
<line x1="310.60" y1="316.75" x2="313.60" y2="316.75" stroke="#111" stroke-width="1.0"/>
<text x="308.20" y="319.25" font-size="7.0" fill="#333" stroke="#333" stroke-width="0.18" text-anchor="end" textLength="7.1" lengthAdjust="spacingAndGlyphs">60</text>
<line x1="310.60" y1="297.70" x2="313.60" y2="297.70" stroke="#111" stroke-width="1.0"/>
<text x="308.20" y="300.20" font-size="7.0" fill="#333" stroke="#333" stroke-width="0.18" text-anchor="end" textLength="7.1" lengthAdjust="spacingAndGlyphs">80</text>
<line x1="310.60" y1="278.65" x2="313.60" y2="278.65" stroke="#111" stroke-width="1.0"/>
<text x="308.20" y="281.15" font-size="7.0" fill="#333" stroke="#333" stroke-width="0.18" text-anchor="end" textLength="10.649999999999999" lengthAdjust="spacingAndGlyphs">100</text>
<text x="291.40" y="372.50" font-size="7.2" fill="#333" stroke="#333" stroke-width="0.18" textLength="92.5" lengthAdjust="spacingAndGlyphs" transform="rotate(-90 291.40 372.50)">TAg peptide IV specific kill [%]</text>
<path d="M327.80,290.10 L330.00,293.99 L325.60,293.99 Z" fill="#8b7d9e" stroke="#4a3868" stroke-width="1.0" stroke-linejoin="round"/>
<path d="M332.20,293.70 L334.40,297.59 L330.00,297.59 Z" fill="#8b7d9e" stroke="#4a3868" stroke-width="1.0" stroke-linejoin="round"/>
<path d="M330.00,309.40 L332.20,313.29 L327.80,313.29 Z" fill="#8b7d9e" stroke="#4a3868" stroke-width="1.0" stroke-linejoin="round"/>
<rect x="359.05" y="284.75" width="3.30" height="3.30" fill="#fff" stroke="#a2305e" stroke-width="1.1"/>
<rect x="363.75" y="288.15" width="3.30" height="3.30" fill="#fff" stroke="#a2305e" stroke-width="1.1"/>
<rect x="361.55" y="305.85" width="3.30" height="3.30" fill="#fff" stroke="#a2305e" stroke-width="1.1"/>
<circle cx="387.70" cy="376.90" r="1.75" fill="#fff" stroke="#3b4a78" stroke-width="1.0"/>
<circle cx="391.40" cy="377.60" r="1.75" fill="#fff" stroke="#3b4a78" stroke-width="1.0"/>
<circle cx="396.50" cy="373.00" r="1.75" fill="#fff" stroke="#3b4a78" stroke-width="1.0"/>
<circle cx="396.50" cy="380.00" r="1.75" fill="#fff" stroke="#3b4a78" stroke-width="1.0"/>
<circle cx="401.00" cy="378.20" r="1.75" fill="#fff" stroke="#3b4a78" stroke-width="1.0"/>
<circle cx="405.00" cy="377.00" r="1.75" fill="#fff" stroke="#3b4a78" stroke-width="1.0"/>
<line x1="330.00" y1="373.90" x2="330.00" y2="376.60" stroke="#111" stroke-width="1.0"/>
<line x1="363.50" y1="373.90" x2="363.50" y2="376.60" stroke="#111" stroke-width="1.0"/>
<line x1="396.50" y1="373.90" x2="396.50" y2="376.60" stroke="#111" stroke-width="1.0"/>
<text x="289.40" y="392.00" font-size="7.0" fill="#333" stroke="#333" stroke-width="0.18" textLength="32.3" lengthAdjust="spacingAndGlyphs">immunized:</text>
<text x="329.80" y="391.40" font-size="4.6" fill="#333" stroke="#333" stroke-width="0.18" text-anchor="middle">+</text>
<text x="363.50" y="391.40" font-size="4.6" fill="#333" stroke="#333" stroke-width="0.18" text-anchor="middle">+</text>
<text x="395.80" y="391.40" font-size="4.6" fill="#333" stroke="#333" stroke-width="0.18" text-anchor="middle">+</text>
<text x="333.70" y="395.70" font-size="7.0" fill="#4a3868" stroke="#4a3868" stroke-width="0.18" text-anchor="end" textLength="26.5" lengthAdjust="spacingAndGlyphs" transform="rotate(-45 333.70 395.70)">LoxP-Tag</text>
<text x="362.00" y="396.50" font-size="7.0" fill="#a2305e" stroke="#a2305e" stroke-width="0.18" text-anchor="end" textLength="41.5" lengthAdjust="spacingAndGlyphs" transform="rotate(-45 362.00 396.50)">CD19-CreER<tspan dy="-2.2" font-size="4">T2</tspan></text>
<text x="368.20" y="402.30" font-size="7.0" fill="#a2305e" stroke="#a2305e" stroke-width="0.18" text-anchor="end" textLength="30.5" lengthAdjust="spacingAndGlyphs" transform="rotate(-45 368.20 402.30)">x LoxP-Tag</text>
<text x="400.00" y="395.20" font-size="7.0" fill="#55658c" stroke="#55658c" stroke-width="0.18" text-anchor="end" textLength="29" lengthAdjust="spacingAndGlyphs" transform="rotate(-45 400.00 395.20)">CD19-Cre</text>
<text x="405.10" y="400.60" font-size="7.0" fill="#55658c" stroke="#55658c" stroke-width="0.18" text-anchor="end" textLength="31.5" lengthAdjust="spacingAndGlyphs" transform="rotate(-45 405.10 400.60)">x LoxP-Tag</text>
<line x1="424.10" y1="395.60" x2="424.10" y2="285.40" stroke="#111" stroke-width="1.5"/>
<path d="M424.10,278.20 L420.80,286.40 L424.10,285.40 L427.40,286.40 Z" fill="#111"/>
<text x="426.40" y="416.40" font-size="6.8" fill="#333" stroke="#333" stroke-width="0.18" textLength="18" lengthAdjust="spacingAndGlyphs" transform="rotate(-90 426.40 416.40)">Count</text>
<text x="432.70" y="277.40" font-size="6.4" fill="#a2305e" stroke="#a2305e" stroke-width="0.18" textLength="75" lengthAdjust="spacingAndGlyphs">CD19-CreER<tspan dy="-2.2" font-size="3.8">T2</tspan><tspan dy="2.2"> x LoxP-Tag</tspan></text>
<path d="M470.53,333.00 L470.83,333.00 L471.13,333.00 L471.44,333.00 L471.74,332.99 L472.04,332.99 L472.35,332.97 L472.65,332.95 L472.96,332.91 L473.26,332.83 L473.56,332.71 L473.87,332.54 L474.17,332.29 L474.47,331.96 L474.78,331.55 L475.08,331.09 L475.39,330.60 L475.69,330.13 L475.99,329.75 L476.30,329.49 L476.60,329.40 L476.90,329.49 L477.21,329.75 L477.51,330.13 L477.82,330.60 L478.12,331.09 L478.42,331.55 L478.73,331.96 L479.03,332.29 L479.33,332.54 L479.64,332.71 L479.94,332.83 L480.25,332.91 L480.55,332.95 L480.85,332.97 L481.16,332.99 L481.46,332.99 L481.76,333.00 L482.07,333.00 L482.37,333.00 L482.68,333.00" fill="#f6e8ee" stroke="#a2305e" stroke-width="1.1" stroke-linejoin="round"/>
<path d="M482.52,333.00 L482.87,332.99 L483.22,332.99 L483.57,332.97 L483.92,332.92 L484.27,332.83 L484.62,332.65 L484.97,332.31 L485.31,331.70 L485.66,330.67 L486.01,329.04 L486.36,326.59 L486.71,323.14 L487.06,318.59 L487.41,312.98 L487.76,306.55 L488.10,299.78 L488.45,293.35 L488.80,288.00 L489.15,284.44 L489.50,283.20 L489.85,284.44 L490.20,288.00 L490.55,293.35 L490.89,299.78 L491.24,306.55 L491.59,312.98 L491.94,318.59 L492.29,323.14 L492.64,326.59 L492.99,329.04 L493.34,330.67 L493.69,331.70 L494.03,332.31 L494.38,332.65 L494.73,332.83 L495.08,332.92 L495.43,332.97 L495.78,332.99 L496.13,332.99 L496.47,333.00" fill="#f6e8ee" stroke="#a2305e" stroke-width="1.3" stroke-linejoin="round"/>
<rect x="447.4" y="282.2" width="51.4" height="50.8" fill="none" stroke="#111" stroke-width="1.2"/>
<line x1="469.50" y1="307.80" x2="498.00" y2="307.80" stroke="#111" stroke-width="1.1"/>
<line x1="469.50" y1="306.40" x2="469.50" y2="309.20" stroke="#111" stroke-width="0.9"/>
<circle cx="482.5" cy="307.8" r="1.0" fill="#111"/>
<text x="475.80" y="304.60" font-size="5.8" fill="#333" stroke="#333" stroke-width="0.18" text-anchor="middle" textLength="6.6" lengthAdjust="spacingAndGlyphs">9.9</text>
<text x="490.90" y="304.60" font-size="5.8" fill="#333" stroke="#333" stroke-width="0.18" text-anchor="middle" textLength="9.6" lengthAdjust="spacingAndGlyphs">89.9</text>
<line x1="447.40" y1="333.60" x2="447.40" y2="336.20" stroke="#111" stroke-width="0.8"/>
<line x1="451.27" y1="333.60" x2="451.27" y2="335.20" stroke="#111" stroke-width="0.8"/>
<line x1="453.53" y1="333.60" x2="453.53" y2="335.20" stroke="#111" stroke-width="0.8"/>
<line x1="455.14" y1="333.60" x2="455.14" y2="335.20" stroke="#111" stroke-width="0.8"/>
<line x1="456.38" y1="333.60" x2="456.38" y2="335.20" stroke="#111" stroke-width="0.8"/>
<line x1="457.40" y1="333.60" x2="457.40" y2="335.20" stroke="#111" stroke-width="0.8"/>
<line x1="458.26" y1="333.60" x2="458.26" y2="335.20" stroke="#111" stroke-width="0.8"/>
<line x1="459.00" y1="333.60" x2="459.00" y2="335.20" stroke="#111" stroke-width="0.8"/>
<line x1="459.66" y1="333.60" x2="459.66" y2="335.20" stroke="#111" stroke-width="0.8"/>
<line x1="460.25" y1="333.60" x2="460.25" y2="336.20" stroke="#111" stroke-width="0.8"/>
<line x1="464.12" y1="333.60" x2="464.12" y2="335.20" stroke="#111" stroke-width="0.8"/>
<line x1="466.38" y1="333.60" x2="466.38" y2="335.20" stroke="#111" stroke-width="0.8"/>
<line x1="467.99" y1="333.60" x2="467.99" y2="335.20" stroke="#111" stroke-width="0.8"/>
<line x1="469.23" y1="333.60" x2="469.23" y2="335.20" stroke="#111" stroke-width="0.8"/>
<line x1="470.25" y1="333.60" x2="470.25" y2="335.20" stroke="#111" stroke-width="0.8"/>
<line x1="471.11" y1="333.60" x2="471.11" y2="335.20" stroke="#111" stroke-width="0.8"/>
<line x1="471.85" y1="333.60" x2="471.85" y2="335.20" stroke="#111" stroke-width="0.8"/>
<line x1="472.51" y1="333.60" x2="472.51" y2="335.20" stroke="#111" stroke-width="0.8"/>
<line x1="473.10" y1="333.60" x2="473.10" y2="336.20" stroke="#111" stroke-width="0.8"/>
<line x1="476.97" y1="333.60" x2="476.97" y2="335.20" stroke="#111" stroke-width="0.8"/>
<line x1="479.23" y1="333.60" x2="479.23" y2="335.20" stroke="#111" stroke-width="0.8"/>
<line x1="480.84" y1="333.60" x2="480.84" y2="335.20" stroke="#111" stroke-width="0.8"/>
<line x1="482.08" y1="333.60" x2="482.08" y2="335.20" stroke="#111" stroke-width="0.8"/>
<line x1="483.10" y1="333.60" x2="483.10" y2="335.20" stroke="#111" stroke-width="0.8"/>
<line x1="483.96" y1="333.60" x2="483.96" y2="335.20" stroke="#111" stroke-width="0.8"/>
<line x1="484.70" y1="333.60" x2="484.70" y2="335.20" stroke="#111" stroke-width="0.8"/>
<line x1="485.36" y1="333.60" x2="485.36" y2="335.20" stroke="#111" stroke-width="0.8"/>
<line x1="485.95" y1="333.60" x2="485.95" y2="336.20" stroke="#111" stroke-width="0.8"/>
<line x1="489.82" y1="333.60" x2="489.82" y2="335.20" stroke="#111" stroke-width="0.8"/>
<line x1="492.08" y1="333.60" x2="492.08" y2="335.20" stroke="#111" stroke-width="0.8"/>
<line x1="493.69" y1="333.60" x2="493.69" y2="335.20" stroke="#111" stroke-width="0.8"/>
<line x1="494.93" y1="333.60" x2="494.93" y2="335.20" stroke="#111" stroke-width="0.8"/>
<line x1="495.95" y1="333.60" x2="495.95" y2="335.20" stroke="#111" stroke-width="0.8"/>
<line x1="496.81" y1="333.60" x2="496.81" y2="335.20" stroke="#111" stroke-width="0.8"/>
<line x1="497.55" y1="333.60" x2="497.55" y2="335.20" stroke="#111" stroke-width="0.8"/>
<line x1="498.21" y1="333.60" x2="498.21" y2="335.20" stroke="#111" stroke-width="0.8"/>
<line x1="498.80" y1="333.60" x2="498.80" y2="336.20" stroke="#111" stroke-width="0.8"/>
<line x1="444.20" y1="333.00" x2="446.80" y2="333.00" stroke="#111" stroke-width="0.9"/>
<line x1="445.80" y1="329.94" x2="446.80" y2="329.94" stroke="#111" stroke-width="0.7"/>
<line x1="445.80" y1="326.88" x2="446.80" y2="326.88" stroke="#111" stroke-width="0.7"/>
<line x1="445.80" y1="323.81" x2="446.80" y2="323.81" stroke="#111" stroke-width="0.7"/>
<line x1="444.20" y1="320.75" x2="446.80" y2="320.75" stroke="#111" stroke-width="0.9"/>
<line x1="445.80" y1="317.69" x2="446.80" y2="317.69" stroke="#111" stroke-width="0.7"/>
<line x1="445.80" y1="314.62" x2="446.80" y2="314.62" stroke="#111" stroke-width="0.7"/>
<line x1="445.80" y1="311.56" x2="446.80" y2="311.56" stroke="#111" stroke-width="0.7"/>
<line x1="444.20" y1="308.50" x2="446.80" y2="308.50" stroke="#111" stroke-width="0.9"/>
<line x1="445.80" y1="305.44" x2="446.80" y2="305.44" stroke="#111" stroke-width="0.7"/>
<line x1="445.80" y1="302.38" x2="446.80" y2="302.38" stroke="#111" stroke-width="0.7"/>
<line x1="445.80" y1="299.31" x2="446.80" y2="299.31" stroke="#111" stroke-width="0.7"/>
<line x1="444.20" y1="296.25" x2="446.80" y2="296.25" stroke="#111" stroke-width="0.9"/>
<line x1="445.80" y1="293.19" x2="446.80" y2="293.19" stroke="#111" stroke-width="0.7"/>
<line x1="445.80" y1="290.12" x2="446.80" y2="290.12" stroke="#111" stroke-width="0.7"/>
<line x1="445.80" y1="287.06" x2="446.80" y2="287.06" stroke="#111" stroke-width="0.7"/>
<line x1="444.20" y1="284.00" x2="446.80" y2="284.00" stroke="#111" stroke-width="0.9"/>
<text x="441.00" y="351.60" font-size="6.6" fill="#3c5088" stroke="#3c5088" stroke-width="0.18" textLength="62.4" lengthAdjust="spacingAndGlyphs">CD19-Cre x LoxP-Tag</text>
<path d="M470.95,407.00 L471.29,406.99 L471.62,406.99 L471.96,406.97 L472.30,406.93 L472.64,406.84 L472.97,406.67 L473.31,406.35 L473.65,405.77 L473.99,404.80 L474.32,403.25 L474.66,400.94 L475.00,397.68 L475.34,393.37 L475.68,388.06 L476.01,381.99 L476.35,375.59 L476.69,369.50 L477.02,364.44 L477.36,361.08 L477.70,359.90 L478.04,361.08 L478.38,364.44 L478.71,369.50 L479.05,375.59 L479.39,381.99 L479.72,388.06 L480.06,393.37 L480.40,397.68 L480.74,400.94 L481.07,403.25 L481.41,404.80 L481.75,405.77 L482.09,406.35 L482.43,406.67 L482.76,406.84 L483.10,406.93 L483.44,406.97 L483.77,406.99 L484.11,406.99 L484.45,407.00" fill="#eef1f7" stroke="#3c5088" stroke-width="1.2" stroke-linejoin="round"/>
<path d="M483.65,407.00 L483.99,406.99 L484.32,406.99 L484.66,406.97 L485.00,406.93 L485.34,406.84 L485.67,406.67 L486.01,406.35 L486.35,405.77 L486.69,404.80 L487.02,403.25 L487.36,400.94 L487.70,397.68 L488.04,393.37 L488.38,388.06 L488.71,381.99 L489.05,375.59 L489.39,369.50 L489.72,364.44 L490.06,361.08 L490.40,359.90 L490.74,361.08 L491.07,364.44 L491.41,369.50 L491.75,375.59 L492.09,381.99 L492.42,388.06 L492.76,393.37 L493.10,397.68 L493.44,400.94 L493.77,403.25 L494.11,404.80 L494.45,405.77 L494.79,406.35 L495.12,406.67 L495.46,406.84 L495.80,406.93 L496.14,406.97 L496.47,406.99 L496.81,406.99 L497.15,407.00" fill="#eef1f7" stroke="#3c5088" stroke-width="1.2" stroke-linejoin="round"/>
<rect x="448.1" y="355.9" width="51.1" height="51.1" fill="none" stroke="#111" stroke-width="1.2"/>
<line x1="471.10" y1="381.70" x2="499.20" y2="381.70" stroke="#111" stroke-width="1.1"/>
<line x1="471.10" y1="380.30" x2="471.10" y2="383.10" stroke="#111" stroke-width="0.9"/>
<circle cx="484.2" cy="381.7" r="1.0" fill="#111"/>
<text x="467.50" y="378.90" font-size="5.4" fill="#222" text-anchor="middle" font-weight="bold" textLength="7.4" lengthAdjust="spacingAndGlyphs">50.7</text>
<text x="491.90" y="378.90" font-size="5.4" fill="#333" stroke="#333" stroke-width="0.18" text-anchor="middle" textLength="8.6" lengthAdjust="spacingAndGlyphs">49.1</text>
<line x1="445.40" y1="407.00" x2="448.10" y2="407.00" stroke="#111" stroke-width="1.0"/>
<text x="442.40" y="409.40" font-size="6.6" fill="#333" stroke="#333" stroke-width="0.18" text-anchor="end" textLength="3.4" lengthAdjust="spacingAndGlyphs">0</text>
<line x1="445.40" y1="391.10" x2="448.10" y2="391.10" stroke="#111" stroke-width="1.0"/>
<text x="442.40" y="393.50" font-size="6.6" fill="#333" stroke="#333" stroke-width="0.18" text-anchor="end" textLength="10.2" lengthAdjust="spacingAndGlyphs">100</text>
<line x1="445.40" y1="375.20" x2="448.10" y2="375.20" stroke="#111" stroke-width="1.0"/>
<text x="442.40" y="377.60" font-size="6.6" fill="#333" stroke="#333" stroke-width="0.18" text-anchor="end" textLength="10.2" lengthAdjust="spacingAndGlyphs">200</text>
<line x1="445.40" y1="359.30" x2="448.10" y2="359.30" stroke="#111" stroke-width="1.0"/>
<text x="442.40" y="361.70" font-size="6.6" fill="#333" stroke="#333" stroke-width="0.18" text-anchor="end" textLength="10.2" lengthAdjust="spacingAndGlyphs">300</text>
<line x1="448.10" y1="407.60" x2="448.10" y2="410.20" stroke="#111" stroke-width="0.8"/>
<line x1="451.95" y1="407.60" x2="451.95" y2="409.20" stroke="#111" stroke-width="0.8"/>
<line x1="454.20" y1="407.60" x2="454.20" y2="409.20" stroke="#111" stroke-width="0.8"/>
<line x1="455.79" y1="407.60" x2="455.79" y2="409.20" stroke="#111" stroke-width="0.8"/>
<line x1="457.03" y1="407.60" x2="457.03" y2="409.20" stroke="#111" stroke-width="0.8"/>
<line x1="458.04" y1="407.60" x2="458.04" y2="409.20" stroke="#111" stroke-width="0.8"/>
<line x1="458.90" y1="407.60" x2="458.90" y2="409.20" stroke="#111" stroke-width="0.8"/>
<line x1="459.64" y1="407.60" x2="459.64" y2="409.20" stroke="#111" stroke-width="0.8"/>
<line x1="460.29" y1="407.60" x2="460.29" y2="409.20" stroke="#111" stroke-width="0.8"/>
<line x1="460.88" y1="407.60" x2="460.88" y2="410.20" stroke="#111" stroke-width="0.8"/>
<line x1="464.72" y1="407.60" x2="464.72" y2="409.20" stroke="#111" stroke-width="0.8"/>
<line x1="466.97" y1="407.60" x2="466.97" y2="409.20" stroke="#111" stroke-width="0.8"/>
<line x1="468.57" y1="407.60" x2="468.57" y2="409.20" stroke="#111" stroke-width="0.8"/>
<line x1="469.80" y1="407.60" x2="469.80" y2="409.20" stroke="#111" stroke-width="0.8"/>
<line x1="470.82" y1="407.60" x2="470.82" y2="409.20" stroke="#111" stroke-width="0.8"/>
<line x1="471.67" y1="407.60" x2="471.67" y2="409.20" stroke="#111" stroke-width="0.8"/>
<line x1="472.41" y1="407.60" x2="472.41" y2="409.20" stroke="#111" stroke-width="0.8"/>
<line x1="473.07" y1="407.60" x2="473.07" y2="409.20" stroke="#111" stroke-width="0.8"/>
<line x1="473.65" y1="407.60" x2="473.65" y2="410.20" stroke="#111" stroke-width="0.8"/>
<line x1="477.50" y1="407.60" x2="477.50" y2="409.20" stroke="#111" stroke-width="0.8"/>
<line x1="479.75" y1="407.60" x2="479.75" y2="409.20" stroke="#111" stroke-width="0.8"/>
<line x1="481.34" y1="407.60" x2="481.34" y2="409.20" stroke="#111" stroke-width="0.8"/>
<line x1="482.58" y1="407.60" x2="482.58" y2="409.20" stroke="#111" stroke-width="0.8"/>
<line x1="483.59" y1="407.60" x2="483.59" y2="409.20" stroke="#111" stroke-width="0.8"/>
<line x1="484.45" y1="407.60" x2="484.45" y2="409.20" stroke="#111" stroke-width="0.8"/>
<line x1="485.19" y1="407.60" x2="485.19" y2="409.20" stroke="#111" stroke-width="0.8"/>
<line x1="485.84" y1="407.60" x2="485.84" y2="409.20" stroke="#111" stroke-width="0.8"/>
<line x1="486.43" y1="407.60" x2="486.43" y2="410.20" stroke="#111" stroke-width="0.8"/>
<line x1="490.27" y1="407.60" x2="490.27" y2="409.20" stroke="#111" stroke-width="0.8"/>
<line x1="492.52" y1="407.60" x2="492.52" y2="409.20" stroke="#111" stroke-width="0.8"/>
<line x1="494.12" y1="407.60" x2="494.12" y2="409.20" stroke="#111" stroke-width="0.8"/>
<line x1="495.35" y1="407.60" x2="495.35" y2="409.20" stroke="#111" stroke-width="0.8"/>
<line x1="496.37" y1="407.60" x2="496.37" y2="409.20" stroke="#111" stroke-width="0.8"/>
<line x1="497.22" y1="407.60" x2="497.22" y2="409.20" stroke="#111" stroke-width="0.8"/>
<line x1="497.96" y1="407.60" x2="497.96" y2="409.20" stroke="#111" stroke-width="0.8"/>
<line x1="498.62" y1="407.60" x2="498.62" y2="409.20" stroke="#111" stroke-width="0.8"/>
<line x1="499.20" y1="407.60" x2="499.20" y2="410.20" stroke="#111" stroke-width="0.8"/>
<text x="445.10" y="418.50" font-size="6.0" fill="#333" stroke="#333" stroke-width="0.18" textLength="5.7" lengthAdjust="spacingAndGlyphs">10</text>
<text x="450.90" y="415.80" font-size="3.8" fill="#333" stroke="#333" stroke-width="0.18">0</text>
<text x="470.30" y="418.50" font-size="6.0" fill="#333" stroke="#333" stroke-width="0.18" textLength="5.7" lengthAdjust="spacingAndGlyphs">10</text>
<text x="476.10" y="415.80" font-size="3.8" fill="#333" stroke="#333" stroke-width="0.18">2</text>
<text x="495.90" y="418.50" font-size="6.0" fill="#333" stroke="#333" stroke-width="0.18" textLength="5.7" lengthAdjust="spacingAndGlyphs">10</text>
<text x="501.70" y="415.80" font-size="3.8" fill="#333" stroke="#333" stroke-width="0.18">4</text>
<text x="440.90" y="431.00" font-size="8.4" fill="#333" stroke="#333" stroke-width="0.18" textLength="14.3" lengthAdjust="spacingAndGlyphs">CFSE</text>
<line x1="458.20" y1="428.10" x2="493.40" y2="428.10" stroke="#111" stroke-width="1.55"/>
<path d="M500.60,428.10 L492.40,424.80 L493.40,428.10 L492.40,431.40 Z" fill="#111"/>
<rect x="0" y="0" width="520" height="1.2" fill="#000"/>
<rect x="0" y="0" width="1.3" height="440" fill="#000"/>
<rect x="518.3" y="0" width="1.7" height="440" fill="#000"/>
<rect x="0" y="438.1" width="520" height="1.9" fill="#000"/>
</svg>
</body></html>
